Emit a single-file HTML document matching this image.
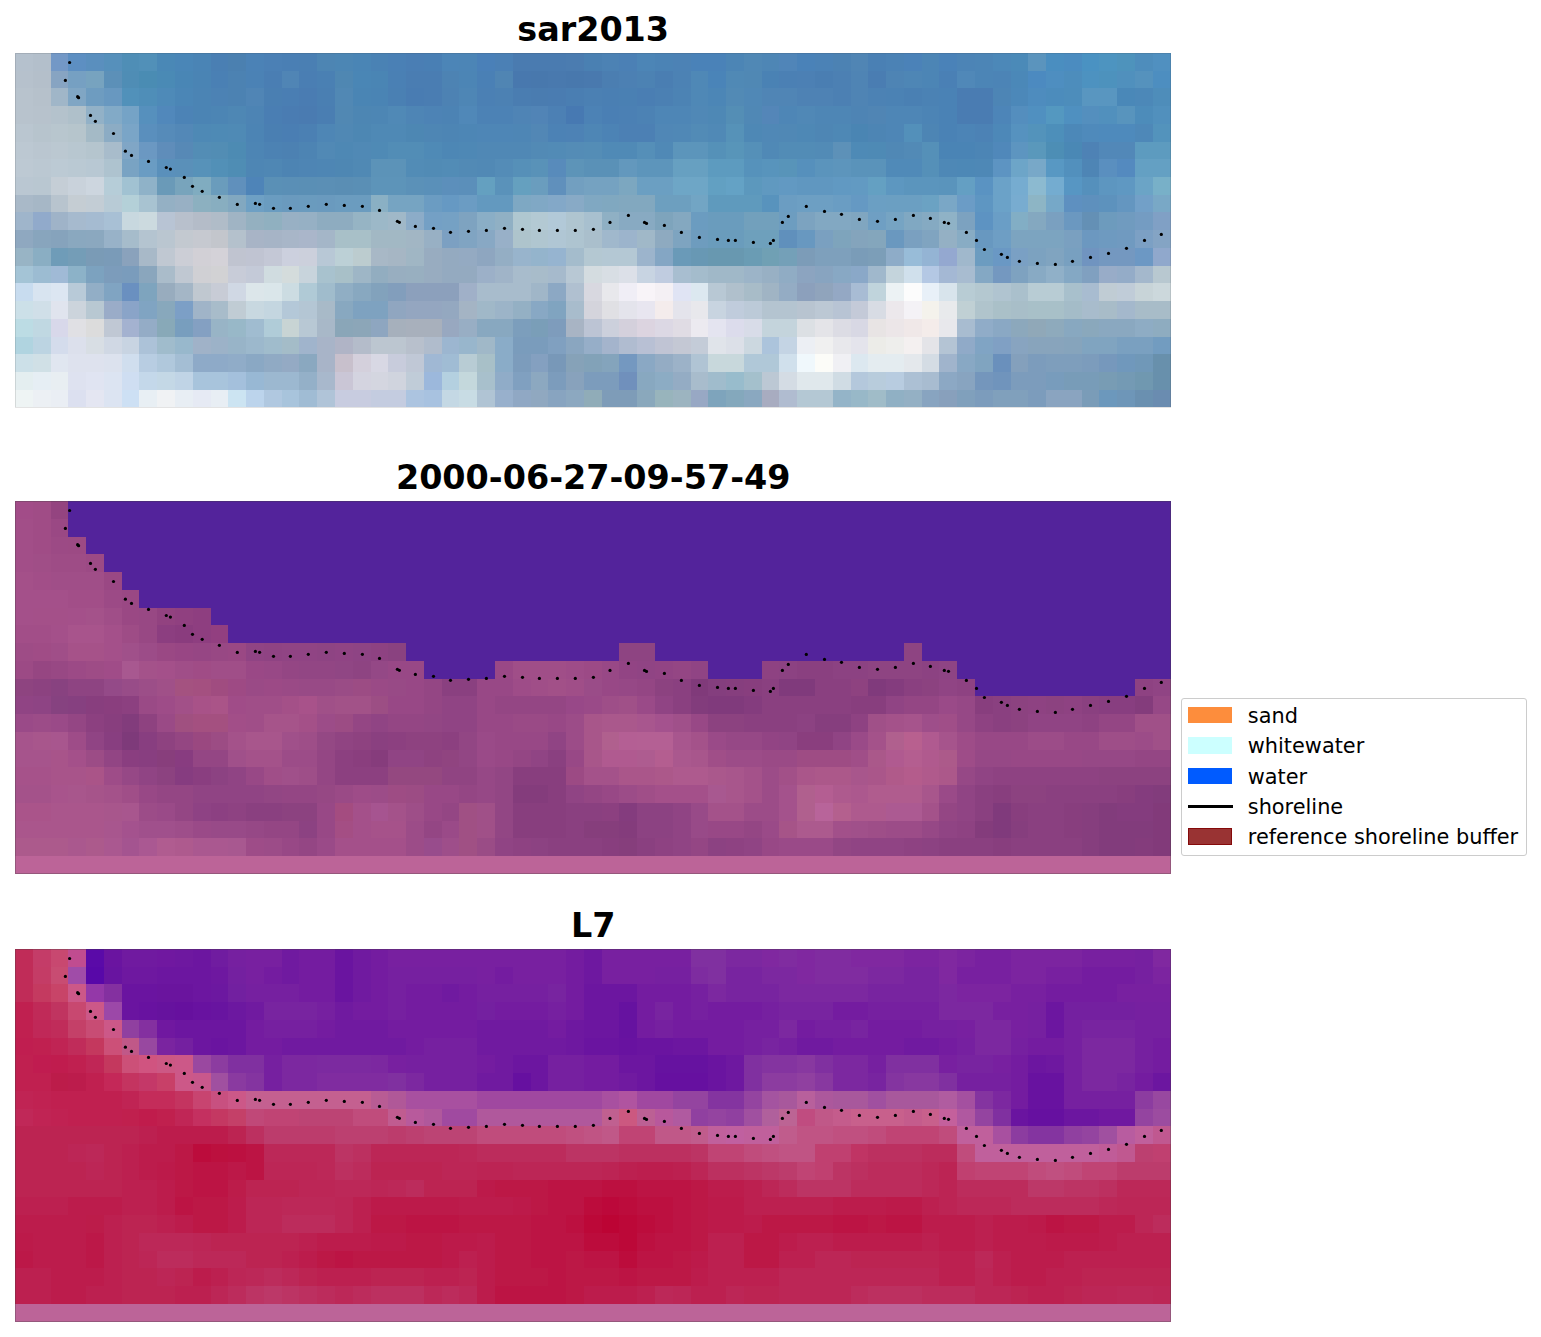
<!DOCTYPE html><html><head><meta charset="utf-8"><title>figure</title><style>
html,body{margin:0;padding:0;background:#fff;}
body{width:1541px;height:1337px;position:relative;overflow:hidden;font-family:"DejaVu Sans","Liberation Sans",sans-serif;}
.im{position:absolute;display:block;}
.ov{position:absolute;left:0;top:0;}
.ed{position:absolute;box-sizing:border-box;border:1px solid rgba(60,60,60,0.3);}
.ov circle{fill:#000;}
.t{position:absolute;left:0;width:1186.4px;text-align:center;font-weight:bold;font-size:33.4px;line-height:1;color:#000;white-space:nowrap;}
.lg{position:absolute;left:1181px;top:698px;width:346px;height:158px;box-sizing:border-box;border:1px solid #cccccc;border-radius:3px;background:#fff;}
.le{position:absolute;left:1247.8px;font-size:20.85px;line-height:1;color:#000;white-space:nowrap;}
.pa{position:absolute;left:1188px;width:44px;height:16.4px;}
</style></head><body><div class="t" style="top:13.1px">sar2013</div><div class="t" style="top:461.4px">2000-06-27-09-57-49</div><div class="t" style="top:909.3px">L7</div><svg class="im" style="left:15.2px;top:53.2px;width:1155.5px;height:354.4px" viewBox="0 0 65 20" preserveAspectRatio="none" shape-rendering="crispEdges"><rect x="0" y="0" width="1" height="1" fill="#b5c1cd"/><rect x="1" y="0" width="1" height="1" fill="#b3bfcb"/><rect x="2" y="0" width="1" height="1" fill="#7398c6"/><rect x="3" y="0" width="1" height="1" fill="#5d8fc2"/><rect x="4" y="0" width="1" height="1" fill="#5a8fbe"/><rect x="5" y="0" width="1" height="1" fill="#5690bb"/><rect x="6" y="0" width="1" height="1" fill="#4f8eb6"/><rect x="7" y="0" width="1" height="1" fill="#5190b8"/><rect x="8" y="0" width="1" height="1" fill="#4a88b6"/><rect x="9" y="0" width="1" height="1" fill="#4a86b7"/><rect x="10" y="0" width="1" height="1" fill="#4a84b5"/><rect x="11" y="0" width="1" height="1" fill="#4a7fb3"/><rect x="12" y="0" width="1" height="1" fill="#4b80b0"/><rect x="13" y="0" width="1" height="1" fill="#4b82b6"/><rect x="14" y="0" width="1" height="1" fill="#4b80b5"/><rect x="15" y="0" width="1" height="1" fill="#4a7fb4"/><rect x="16" y="0" width="1" height="1" fill="#4a7fb3"/><rect x="17" y="0" width="1" height="1" fill="#4d85b3"/><rect x="18" y="0" width="1" height="1" fill="#4c86b4"/><rect x="19" y="0" width="1" height="1" fill="#4a85b5"/><rect x="20" y="0" width="1" height="1" fill="#4a82b4"/><rect x="21" y="0" width="1" height="1" fill="#4a80b5"/><rect x="22" y="0" width="1" height="1" fill="#4a7eb4"/><rect x="23" y="0" width="1" height="1" fill="#497fb4"/><rect x="24" y="0" width="1" height="1" fill="#4c85b7"/><rect x="25" y="0" width="1" height="1" fill="#4c85b6"/><rect x="26" y="0" width="1" height="1" fill="#4a80b8"/><rect x="27" y="0" width="1" height="1" fill="#4b80b5"/><rect x="28" y="0" width="3" height="1" fill="#4a7bb0"/><rect x="31" y="0" width="1" height="1" fill="#4b7cb0"/><rect x="32" y="0" width="1" height="1" fill="#4a80b2"/><rect x="33" y="0" width="1" height="1" fill="#4c82b4"/><rect x="34" y="0" width="1" height="1" fill="#4b80b5"/><rect x="35" y="0" width="1" height="1" fill="#4c85b6"/><rect x="36" y="0" width="1" height="1" fill="#4b83b5"/><rect x="37" y="0" width="1" height="1" fill="#4c82b5"/><rect x="38" y="0" width="2" height="1" fill="#4a82b8"/><rect x="40" y="0" width="1" height="1" fill="#4c85b5"/><rect x="41" y="0" width="1" height="1" fill="#5088b5"/><rect x="42" y="0" width="1" height="1" fill="#4e86b5"/><rect x="43" y="0" width="1" height="1" fill="#5085b8"/><rect x="44" y="0" width="1" height="1" fill="#4a82b8"/><rect x="45" y="0" width="1" height="1" fill="#4b82b6"/><rect x="46" y="0" width="1" height="1" fill="#4c82b3"/><rect x="47" y="0" width="1" height="1" fill="#5085b4"/><rect x="48" y="0" width="1" height="1" fill="#4a80b4"/><rect x="49" y="0" width="1" height="1" fill="#4b82b5"/><rect x="50" y="0" width="1" height="1" fill="#4b82b8"/><rect x="51" y="0" width="1" height="1" fill="#4c85b5"/><rect x="52" y="0" width="1" height="1" fill="#4a82b8"/><rect x="53" y="0" width="1" height="1" fill="#4c84b6"/><rect x="54" y="0" width="1" height="1" fill="#4c85b6"/><rect x="55" y="0" width="1" height="1" fill="#4c88b8"/><rect x="56" y="0" width="1" height="1" fill="#4b8ab8"/><rect x="57" y="0" width="1" height="1" fill="#5b94bd"/><rect x="58" y="0" width="1" height="1" fill="#4a8ec0"/><rect x="59" y="0" width="1" height="1" fill="#4b8cc0"/><rect x="60" y="0" width="1" height="1" fill="#4a92c2"/><rect x="61" y="0" width="1" height="1" fill="#4d94c0"/><rect x="62" y="0" width="1" height="1" fill="#4e93bc"/><rect x="63" y="0" width="1" height="1" fill="#4e8dbc"/><rect x="64" y="0" width="1" height="1" fill="#5090c0"/><rect x="0" y="1" width="1" height="1" fill="#b6c1cc"/><rect x="1" y="1" width="1" height="1" fill="#b4bfca"/><rect x="2" y="1" width="1" height="1" fill="#87a4c2"/><rect x="3" y="1" width="1" height="1" fill="#76a0c2"/><rect x="4" y="1" width="1" height="1" fill="#77a3bf"/><rect x="5" y="1" width="1" height="1" fill="#5c90b8"/><rect x="6" y="1" width="1" height="1" fill="#4f8db5"/><rect x="7" y="1" width="1" height="1" fill="#4a8cb3"/><rect x="8" y="1" width="1" height="1" fill="#4a8ab5"/><rect x="9" y="1" width="1" height="1" fill="#4986b5"/><rect x="10" y="1" width="1" height="1" fill="#4a84b4"/><rect x="11" y="1" width="1" height="1" fill="#4a80b4"/><rect x="12" y="1" width="1" height="1" fill="#4c82b2"/><rect x="13" y="1" width="1" height="1" fill="#4b82b5"/><rect x="14" y="1" width="1" height="1" fill="#4a7eb3"/><rect x="15" y="1" width="1" height="1" fill="#5085b5"/><rect x="16" y="1" width="1" height="1" fill="#4a7eb3"/><rect x="17" y="1" width="1" height="1" fill="#4a80b3"/><rect x="18" y="1" width="1" height="1" fill="#4f87b2"/><rect x="19" y="1" width="1" height="1" fill="#4a86b5"/><rect x="20" y="1" width="1" height="1" fill="#4a85b4"/><rect x="21" y="1" width="1" height="1" fill="#4a80b4"/><rect x="22" y="1" width="2" height="1" fill="#4a7db2"/><rect x="24" y="1" width="1" height="1" fill="#4d83b3"/><rect x="25" y="1" width="1" height="1" fill="#4c85b5"/><rect x="26" y="1" width="1" height="1" fill="#4a80b5"/><rect x="27" y="1" width="1" height="1" fill="#5085b3"/><rect x="28" y="1" width="1" height="1" fill="#4878ae"/><rect x="29" y="1" width="1" height="1" fill="#4878ad"/><rect x="30" y="1" width="1" height="1" fill="#4979ae"/><rect x="31" y="1" width="1" height="1" fill="#4878ad"/><rect x="32" y="1" width="1" height="1" fill="#4979ae"/><rect x="33" y="1" width="1" height="1" fill="#4b7eb1"/><rect x="34" y="1" width="1" height="1" fill="#4c80b3"/><rect x="35" y="1" width="1" height="1" fill="#4c82b3"/><rect x="36" y="1" width="1" height="1" fill="#4a7eb2"/><rect x="37" y="1" width="1" height="1" fill="#4c82b4"/><rect x="38" y="1" width="1" height="1" fill="#4f88b6"/><rect x="39" y="1" width="1" height="1" fill="#4a84b8"/><rect x="40" y="1" width="1" height="1" fill="#5089b5"/><rect x="41" y="1" width="1" height="1" fill="#5088b4"/><rect x="42" y="1" width="1" height="1" fill="#4a82b4"/><rect x="43" y="1" width="1" height="1" fill="#4b80b4"/><rect x="44" y="1" width="1" height="1" fill="#4c80b4"/><rect x="45" y="1" width="1" height="1" fill="#4a7eb2"/><rect x="46" y="1" width="1" height="1" fill="#4c80b3"/><rect x="47" y="1" width="1" height="1" fill="#4f84b4"/><rect x="48" y="1" width="1" height="1" fill="#4a7db2"/><rect x="49" y="1" width="1" height="1" fill="#4e84b4"/><rect x="50" y="1" width="1" height="1" fill="#4e86b5"/><rect x="51" y="1" width="1" height="1" fill="#4c85b5"/><rect x="52" y="1" width="1" height="1" fill="#4a80b5"/><rect x="53" y="1" width="1" height="1" fill="#5088b8"/><rect x="54" y="1" width="1" height="1" fill="#4c85b6"/><rect x="55" y="1" width="1" height="1" fill="#4c84b6"/><rect x="56" y="1" width="1" height="1" fill="#4b88b8"/><rect x="57" y="1" width="1" height="1" fill="#4c8ac0"/><rect x="58" y="1" width="1" height="1" fill="#4e8ec0"/><rect x="59" y="1" width="1" height="1" fill="#4d8dbc"/><rect x="60" y="1" width="1" height="1" fill="#4d92c0"/><rect x="61" y="1" width="1" height="1" fill="#4d92bd"/><rect x="62" y="1" width="1" height="1" fill="#5090bd"/><rect x="63" y="1" width="1" height="1" fill="#5592bd"/><rect x="64" y="1" width="1" height="1" fill="#4d8ec0"/><rect x="0" y="2" width="1" height="1" fill="#b8c3cd"/><rect x="1" y="2" width="1" height="1" fill="#b6c1cb"/><rect x="2" y="2" width="1" height="1" fill="#a0b6c8"/><rect x="3" y="2" width="1" height="1" fill="#80a6c4"/><rect x="4" y="2" width="1" height="1" fill="#6e9cc0"/><rect x="5" y="2" width="1" height="1" fill="#6898c0"/><rect x="6" y="2" width="1" height="1" fill="#5191ba"/><rect x="7" y="2" width="1" height="1" fill="#4f8eb8"/><rect x="8" y="2" width="1" height="1" fill="#4e8ab8"/><rect x="9" y="2" width="1" height="1" fill="#4b86b6"/><rect x="10" y="2" width="1" height="1" fill="#4b84b4"/><rect x="11" y="2" width="1" height="1" fill="#4c82b4"/><rect x="12" y="2" width="1" height="1" fill="#4c82b2"/><rect x="13" y="2" width="1" height="1" fill="#5085b5"/><rect x="14" y="2" width="1" height="1" fill="#4a7fb2"/><rect x="15" y="2" width="1" height="1" fill="#4a7eb3"/><rect x="16" y="2" width="1" height="1" fill="#4a7cb2"/><rect x="17" y="2" width="1" height="1" fill="#4a7fb2"/><rect x="18" y="2" width="1" height="1" fill="#5188b4"/><rect x="19" y="2" width="1" height="1" fill="#4a85b4"/><rect x="20" y="2" width="1" height="1" fill="#4a84b4"/><rect x="21" y="2" width="1" height="1" fill="#4a80b3"/><rect x="22" y="2" width="1" height="1" fill="#497cb2"/><rect x="23" y="2" width="1" height="1" fill="#4a7db2"/><rect x="24" y="2" width="1" height="1" fill="#4d82b3"/><rect x="25" y="2" width="1" height="1" fill="#4e86b5"/><rect x="26" y="2" width="1" height="1" fill="#4b80b4"/><rect x="27" y="2" width="1" height="1" fill="#4c81b3"/><rect x="28" y="2" width="1" height="1" fill="#4a7db1"/><rect x="29" y="2" width="1" height="1" fill="#4a7cb0"/><rect x="30" y="2" width="1" height="1" fill="#4a7cb1"/><rect x="31" y="2" width="1" height="1" fill="#4a7eb2"/><rect x="32" y="2" width="1" height="1" fill="#4b80b3"/><rect x="33" y="2" width="1" height="1" fill="#4a7fb3"/><rect x="34" y="2" width="1" height="1" fill="#4a80b3"/><rect x="35" y="2" width="1" height="1" fill="#4a7eb3"/><rect x="36" y="2" width="1" height="1" fill="#4b80b3"/><rect x="37" y="2" width="1" height="1" fill="#4c83b4"/><rect x="38" y="2" width="1" height="1" fill="#4f88b6"/><rect x="39" y="2" width="1" height="1" fill="#4c86b6"/><rect x="40" y="2" width="1" height="1" fill="#528ab5"/><rect x="41" y="2" width="1" height="1" fill="#5088b6"/><rect x="42" y="2" width="2" height="1" fill="#5085b5"/><rect x="44" y="2" width="2" height="1" fill="#4e82b4"/><rect x="46" y="2" width="1" height="1" fill="#4c80b3"/><rect x="47" y="2" width="1" height="1" fill="#4f84b4"/><rect x="48" y="2" width="1" height="1" fill="#4c82b4"/><rect x="49" y="2" width="1" height="1" fill="#4b82b4"/><rect x="50" y="2" width="1" height="1" fill="#4a80b3"/><rect x="51" y="2" width="1" height="1" fill="#4b82b4"/><rect x="52" y="2" width="1" height="1" fill="#4a82b5"/><rect x="53" y="2" width="2" height="1" fill="#4a7cb2"/><rect x="55" y="2" width="1" height="1" fill="#4d85b5"/><rect x="56" y="2" width="1" height="1" fill="#4c88b9"/><rect x="57" y="2" width="1" height="1" fill="#4e8cbe"/><rect x="58" y="2" width="1" height="1" fill="#4c8cbc"/><rect x="59" y="2" width="1" height="1" fill="#4d8dbb"/><rect x="60" y="2" width="2" height="1" fill="#5996c0"/><rect x="62" y="2" width="1" height="1" fill="#4a88b8"/><rect x="63" y="2" width="1" height="1" fill="#4c88b8"/><rect x="64" y="2" width="1" height="1" fill="#4e8dba"/><rect x="0" y="3" width="1" height="1" fill="#b8c3cd"/><rect x="1" y="3" width="1" height="1" fill="#b7c2cc"/><rect x="2" y="3" width="1" height="1" fill="#b4c2cc"/><rect x="3" y="3" width="1" height="1" fill="#afc0ca"/><rect x="4" y="3" width="1" height="1" fill="#92b1c7"/><rect x="5" y="3" width="1" height="1" fill="#82aac7"/><rect x="6" y="3" width="1" height="1" fill="#75a3c6"/><rect x="7" y="3" width="1" height="1" fill="#5690bd"/><rect x="8" y="3" width="1" height="1" fill="#5188bb"/><rect x="9" y="3" width="1" height="1" fill="#4c83b6"/><rect x="10" y="3" width="1" height="1" fill="#4b84b4"/><rect x="11" y="3" width="1" height="1" fill="#4c85b4"/><rect x="12" y="3" width="1" height="1" fill="#4e87b4"/><rect x="13" y="3" width="1" height="1" fill="#4d84b4"/><rect x="14" y="3" width="1" height="1" fill="#4a7eb3"/><rect x="15" y="3" width="1" height="1" fill="#4a7cb2"/><rect x="16" y="3" width="1" height="1" fill="#4a7bb1"/><rect x="17" y="3" width="1" height="1" fill="#4a7eb2"/><rect x="18" y="3" width="1" height="1" fill="#5188b3"/><rect x="19" y="3" width="1" height="1" fill="#4d86b3"/><rect x="20" y="3" width="1" height="1" fill="#4d86b4"/><rect x="21" y="3" width="1" height="1" fill="#5089b6"/><rect x="22" y="3" width="1" height="1" fill="#4e85b5"/><rect x="23" y="3" width="1" height="1" fill="#4d83b5"/><rect x="24" y="3" width="1" height="1" fill="#4c83b4"/><rect x="25" y="3" width="1" height="1" fill="#5088b8"/><rect x="26" y="3" width="2" height="1" fill="#4c82b5"/><rect x="28" y="3" width="1" height="1" fill="#4f84b5"/><rect x="29" y="3" width="1" height="1" fill="#5184b6"/><rect x="30" y="3" width="1" height="1" fill="#4c80b4"/><rect x="31" y="3" width="1" height="1" fill="#4779b2"/><rect x="32" y="3" width="1" height="1" fill="#4c82b5"/><rect x="33" y="3" width="1" height="1" fill="#4a7fb4"/><rect x="34" y="3" width="1" height="1" fill="#4b80b4"/><rect x="35" y="3" width="1" height="1" fill="#4c82b4"/><rect x="36" y="3" width="2" height="1" fill="#4e86b6"/><rect x="38" y="3" width="1" height="1" fill="#5088b6"/><rect x="39" y="3" width="1" height="1" fill="#4e88b5"/><rect x="40" y="3" width="1" height="1" fill="#548eb5"/><rect x="41" y="3" width="1" height="1" fill="#5088b5"/><rect x="42" y="3" width="1" height="1" fill="#5486b8"/><rect x="43" y="3" width="1" height="1" fill="#4e86b6"/><rect x="44" y="3" width="1" height="1" fill="#5088b6"/><rect x="45" y="3" width="2" height="1" fill="#4e86b5"/><rect x="47" y="3" width="1" height="1" fill="#4e84b4"/><rect x="48" y="3" width="1" height="1" fill="#5085b4"/><rect x="49" y="3" width="2" height="1" fill="#4e86b6"/><rect x="51" y="3" width="1" height="1" fill="#4c84b5"/><rect x="52" y="3" width="1" height="1" fill="#4a82b5"/><rect x="53" y="3" width="2" height="1" fill="#4a7cb2"/><rect x="55" y="3" width="1" height="1" fill="#4d85b8"/><rect x="56" y="3" width="1" height="1" fill="#548ebe"/><rect x="57" y="3" width="1" height="1" fill="#5090c0"/><rect x="58" y="3" width="1" height="1" fill="#5498c0"/><rect x="59" y="3" width="1" height="1" fill="#4f90c0"/><rect x="60" y="3" width="1" height="1" fill="#548fbe"/><rect x="61" y="3" width="1" height="1" fill="#5190bd"/><rect x="62" y="3" width="1" height="1" fill="#5894bd"/><rect x="63" y="3" width="1" height="1" fill="#4d8cba"/><rect x="64" y="3" width="1" height="1" fill="#5190bd"/><rect x="0" y="4" width="1" height="1" fill="#bac6d0"/><rect x="1" y="4" width="1" height="1" fill="#b7c4cd"/><rect x="2" y="4" width="1" height="1" fill="#b8c6ce"/><rect x="3" y="4" width="1" height="1" fill="#b6c5cc"/><rect x="4" y="4" width="1" height="1" fill="#a4bac6"/><rect x="5" y="4" width="1" height="1" fill="#8cacc4"/><rect x="6" y="4" width="1" height="1" fill="#7aa5c7"/><rect x="7" y="4" width="1" height="1" fill="#5a8fbd"/><rect x="8" y="4" width="1" height="1" fill="#568bb9"/><rect x="9" y="4" width="1" height="1" fill="#5388b7"/><rect x="10" y="4" width="1" height="1" fill="#4e89b5"/><rect x="11" y="4" width="1" height="1" fill="#4e8ab5"/><rect x="12" y="4" width="1" height="1" fill="#4f8ab5"/><rect x="13" y="4" width="1" height="1" fill="#4c84b4"/><rect x="14" y="4" width="1" height="1" fill="#4a7fb2"/><rect x="15" y="4" width="1" height="1" fill="#4a7eb3"/><rect x="16" y="4" width="1" height="1" fill="#4b80b3"/><rect x="17" y="4" width="1" height="1" fill="#4e86b5"/><rect x="18" y="4" width="1" height="1" fill="#5088b4"/><rect x="19" y="4" width="1" height="1" fill="#4d87b3"/><rect x="20" y="4" width="2" height="1" fill="#4f89b5"/><rect x="22" y="4" width="1" height="1" fill="#4d87b3"/><rect x="23" y="4" width="1" height="1" fill="#4e86b4"/><rect x="24" y="4" width="1" height="1" fill="#4d85b4"/><rect x="25" y="4" width="1" height="1" fill="#4d86b5"/><rect x="26" y="4" width="2" height="1" fill="#4e86b6"/><rect x="28" y="4" width="1" height="1" fill="#4e86b5"/><rect x="29" y="4" width="1" height="1" fill="#5287b5"/><rect x="30" y="4" width="1" height="1" fill="#4c82b5"/><rect x="31" y="4" width="1" height="1" fill="#4d82b5"/><rect x="32" y="4" width="1" height="1" fill="#4e86b5"/><rect x="33" y="4" width="1" height="1" fill="#4c83b5"/><rect x="34" y="4" width="2" height="1" fill="#4c80b4"/><rect x="36" y="4" width="1" height="1" fill="#5087b6"/><rect x="37" y="4" width="1" height="1" fill="#5088b6"/><rect x="38" y="4" width="1" height="1" fill="#528bb6"/><rect x="39" y="4" width="1" height="1" fill="#5089b6"/><rect x="40" y="4" width="1" height="1" fill="#5692b8"/><rect x="41" y="4" width="1" height="1" fill="#4e88b5"/><rect x="42" y="4" width="1" height="1" fill="#5088b6"/><rect x="43" y="4" width="1" height="1" fill="#5088b5"/><rect x="44" y="4" width="1" height="1" fill="#4e88b5"/><rect x="45" y="4" width="1" height="1" fill="#4e86b4"/><rect x="46" y="4" width="1" height="1" fill="#4e88b5"/><rect x="47" y="4" width="1" height="1" fill="#4a85b3"/><rect x="48" y="4" width="1" height="1" fill="#4d85b4"/><rect x="49" y="4" width="1" height="1" fill="#4e86b6"/><rect x="50" y="4" width="1" height="1" fill="#5390ba"/><rect x="51" y="4" width="1" height="1" fill="#4d85b4"/><rect x="52" y="4" width="1" height="1" fill="#4a82b5"/><rect x="53" y="4" width="1" height="1" fill="#4c84b6"/><rect x="54" y="4" width="1" height="1" fill="#4c82b5"/><rect x="55" y="4" width="1" height="1" fill="#4d88b8"/><rect x="56" y="4" width="1" height="1" fill="#5692bf"/><rect x="57" y="4" width="1" height="1" fill="#5393bb"/><rect x="58" y="4" width="1" height="1" fill="#4d8fba"/><rect x="59" y="4" width="1" height="1" fill="#4c88b8"/><rect x="60" y="4" width="1" height="1" fill="#4f8abb"/><rect x="61" y="4" width="2" height="1" fill="#4e8abc"/><rect x="63" y="4" width="1" height="1" fill="#4e88b8"/><rect x="64" y="4" width="1" height="1" fill="#5393bc"/><rect x="0" y="5" width="1" height="1" fill="#bcc8d2"/><rect x="1" y="5" width="1" height="1" fill="#bac6d0"/><rect x="2" y="5" width="1" height="1" fill="#bbc8d1"/><rect x="3" y="5" width="1" height="1" fill="#b8c7d0"/><rect x="4" y="5" width="1" height="1" fill="#b5c5ce"/><rect x="5" y="5" width="1" height="1" fill="#a8bccb"/><rect x="6" y="5" width="1" height="1" fill="#80a6c6"/><rect x="7" y="5" width="1" height="1" fill="#6b98c2"/><rect x="8" y="5" width="1" height="1" fill="#5f8dba"/><rect x="9" y="5" width="1" height="1" fill="#5789b6"/><rect x="10" y="5" width="1" height="1" fill="#538db5"/><rect x="11" y="5" width="1" height="1" fill="#528db4"/><rect x="12" y="5" width="1" height="1" fill="#4d8bb3"/><rect x="13" y="5" width="1" height="1" fill="#4d85b4"/><rect x="14" y="5" width="1" height="1" fill="#4c82b3"/><rect x="15" y="5" width="1" height="1" fill="#4c81b2"/><rect x="16" y="5" width="1" height="1" fill="#4d84b3"/><rect x="17" y="5" width="1" height="1" fill="#5189b5"/><rect x="18" y="5" width="1" height="1" fill="#4e88b4"/><rect x="19" y="5" width="1" height="1" fill="#5089b5"/><rect x="20" y="5" width="1" height="1" fill="#4f8ab5"/><rect x="21" y="5" width="2" height="1" fill="#528db6"/><rect x="23" y="5" width="1" height="1" fill="#4f8ab6"/><rect x="24" y="5" width="1" height="1" fill="#4d87b5"/><rect x="25" y="5" width="1" height="1" fill="#4e88b5"/><rect x="26" y="5" width="3" height="1" fill="#5088b5"/><rect x="29" y="5" width="1" height="1" fill="#528ab5"/><rect x="30" y="5" width="1" height="1" fill="#528bb6"/><rect x="31" y="5" width="1" height="1" fill="#548cb6"/><rect x="32" y="5" width="1" height="1" fill="#548db6"/><rect x="33" y="5" width="2" height="1" fill="#508ab6"/><rect x="35" y="5" width="1" height="1" fill="#558fb8"/><rect x="36" y="5" width="1" height="1" fill="#5089b6"/><rect x="37" y="5" width="2" height="1" fill="#5c95bb"/><rect x="39" y="5" width="1" height="1" fill="#5591b8"/><rect x="40" y="5" width="1" height="1" fill="#5895b9"/><rect x="41" y="5" width="1" height="1" fill="#5590b8"/><rect x="42" y="5" width="1" height="1" fill="#5089b6"/><rect x="43" y="5" width="2" height="1" fill="#528cb6"/><rect x="45" y="5" width="1" height="1" fill="#528bb6"/><rect x="46" y="5" width="1" height="1" fill="#5d91b8"/><rect x="47" y="5" width="1" height="1" fill="#4e8ab6"/><rect x="48" y="5" width="1" height="1" fill="#4e8ab5"/><rect x="49" y="5" width="1" height="1" fill="#5088b5"/><rect x="50" y="5" width="1" height="1" fill="#528ab6"/><rect x="51" y="5" width="1" height="1" fill="#5590b8"/><rect x="52" y="5" width="2" height="1" fill="#4a84b5"/><rect x="54" y="5" width="1" height="1" fill="#4c85b5"/><rect x="55" y="5" width="1" height="1" fill="#5088ba"/><rect x="56" y="5" width="1" height="1" fill="#5d95c0"/><rect x="57" y="5" width="1" height="1" fill="#5a98bb"/><rect x="58" y="5" width="1" height="1" fill="#4d8eb5"/><rect x="59" y="5" width="1" height="1" fill="#4a88b5"/><rect x="60" y="5" width="1" height="1" fill="#4e82b5"/><rect x="61" y="5" width="2" height="1" fill="#5288b8"/><rect x="63" y="5" width="2" height="1" fill="#5d9bbf"/><rect x="0" y="6" width="1" height="1" fill="#bdc9d3"/><rect x="1" y="6" width="1" height="1" fill="#bbc8d2"/><rect x="2" y="6" width="1" height="1" fill="#bccad4"/><rect x="3" y="6" width="1" height="1" fill="#bac9d3"/><rect x="4" y="6" width="1" height="1" fill="#b8c8d3"/><rect x="5" y="6" width="1" height="1" fill="#aec3cf"/><rect x="6" y="6" width="1" height="1" fill="#79a3c3"/><rect x="7" y="6" width="1" height="1" fill="#6a9cc3"/><rect x="8" y="6" width="1" height="1" fill="#5a90bb"/><rect x="9" y="6" width="1" height="1" fill="#5a90b9"/><rect x="10" y="6" width="1" height="1" fill="#5792b9"/><rect x="11" y="6" width="1" height="1" fill="#5290b7"/><rect x="12" y="6" width="1" height="1" fill="#4f8db4"/><rect x="13" y="6" width="1" height="1" fill="#4e86b4"/><rect x="14" y="6" width="1" height="1" fill="#4f87b4"/><rect x="15" y="6" width="1" height="1" fill="#4d84b3"/><rect x="16" y="6" width="1" height="1" fill="#4e85b4"/><rect x="17" y="6" width="1" height="1" fill="#4e86b4"/><rect x="18" y="6" width="1" height="1" fill="#4e87b3"/><rect x="19" y="6" width="1" height="1" fill="#5089b4"/><rect x="20" y="6" width="2" height="1" fill="#5c93b8"/><rect x="22" y="6" width="1" height="1" fill="#528cb6"/><rect x="23" y="6" width="1" height="1" fill="#518bb5"/><rect x="24" y="6" width="1" height="1" fill="#528cb6"/><rect x="25" y="6" width="1" height="1" fill="#528ab5"/><rect x="26" y="6" width="1" height="1" fill="#5189b5"/><rect x="27" y="6" width="1" height="1" fill="#548cb7"/><rect x="28" y="6" width="1" height="1" fill="#5690b8"/><rect x="29" y="6" width="1" height="1" fill="#5992b8"/><rect x="30" y="6" width="1" height="1" fill="#588bbb"/><rect x="31" y="6" width="1" height="1" fill="#5d94b8"/><rect x="32" y="6" width="2" height="1" fill="#5a91b7"/><rect x="34" y="6" width="1" height="1" fill="#6398bd"/><rect x="35" y="6" width="2" height="1" fill="#5d95bb"/><rect x="37" y="6" width="2" height="1" fill="#67a0c1"/><rect x="39" y="6" width="2" height="1" fill="#5d9bbf"/><rect x="41" y="6" width="1" height="1" fill="#5692bb"/><rect x="42" y="6" width="1" height="1" fill="#5894bc"/><rect x="43" y="6" width="1" height="1" fill="#5894b9"/><rect x="44" y="6" width="1" height="1" fill="#5690bc"/><rect x="45" y="6" width="1" height="1" fill="#5b94bc"/><rect x="46" y="6" width="1" height="1" fill="#5d95bc"/><rect x="47" y="6" width="2" height="1" fill="#5a93ba"/><rect x="49" y="6" width="2" height="1" fill="#508ab8"/><rect x="51" y="6" width="1" height="1" fill="#5590b8"/><rect x="52" y="6" width="1" height="1" fill="#4e88b6"/><rect x="53" y="6" width="1" height="1" fill="#4d88b6"/><rect x="54" y="6" width="1" height="1" fill="#4e88b6"/><rect x="55" y="6" width="1" height="1" fill="#5d94c2"/><rect x="56" y="6" width="1" height="1" fill="#6da5c8"/><rect x="57" y="6" width="1" height="1" fill="#78a8c8"/><rect x="58" y="6" width="1" height="1" fill="#5898c3"/><rect x="59" y="6" width="1" height="1" fill="#5290bd"/><rect x="60" y="6" width="1" height="1" fill="#4e85b5"/><rect x="61" y="6" width="1" height="1" fill="#5a8fbf"/><rect x="62" y="6" width="1" height="1" fill="#548abf"/><rect x="63" y="6" width="2" height="1" fill="#64a0c3"/><rect x="0" y="7" width="1" height="1" fill="#bac7d2"/><rect x="1" y="7" width="1" height="1" fill="#b9c7d1"/><rect x="2" y="7" width="1" height="1" fill="#c5ced6"/><rect x="3" y="7" width="1" height="1" fill="#c9d2db"/><rect x="4" y="7" width="1" height="1" fill="#cdd6df"/><rect x="5" y="7" width="1" height="1" fill="#b6cdd8"/><rect x="6" y="7" width="1" height="1" fill="#a1c2d2"/><rect x="7" y="7" width="1" height="1" fill="#8fb2c8"/><rect x="8" y="7" width="1" height="1" fill="#6a9ab8"/><rect x="9" y="7" width="1" height="1" fill="#78a4bc"/><rect x="10" y="7" width="1" height="1" fill="#80acc0"/><rect x="11" y="7" width="1" height="1" fill="#6a9cbc"/><rect x="12" y="7" width="1" height="1" fill="#6090bc"/><rect x="13" y="7" width="1" height="1" fill="#4e84b8"/><rect x="14" y="7" width="1" height="1" fill="#5a90b6"/><rect x="15" y="7" width="1" height="1" fill="#5a8fb6"/><rect x="16" y="7" width="1" height="1" fill="#5a8fb5"/><rect x="17" y="7" width="1" height="1" fill="#5b8fb5"/><rect x="18" y="7" width="1" height="1" fill="#5a8eb4"/><rect x="19" y="7" width="1" height="1" fill="#5a8fb5"/><rect x="20" y="7" width="2" height="1" fill="#5d94b9"/><rect x="22" y="7" width="1" height="1" fill="#5b91b8"/><rect x="23" y="7" width="1" height="1" fill="#5a90b9"/><rect x="24" y="7" width="1" height="1" fill="#5c8fbb"/><rect x="25" y="7" width="1" height="1" fill="#5b8fba"/><rect x="26" y="7" width="1" height="1" fill="#64a0c0"/><rect x="27" y="7" width="1" height="1" fill="#5a92ba"/><rect x="28" y="7" width="1" height="1" fill="#65a0bf"/><rect x="29" y="7" width="1" height="1" fill="#6a9dbe"/><rect x="30" y="7" width="1" height="1" fill="#6090bc"/><rect x="31" y="7" width="1" height="1" fill="#729fc0"/><rect x="32" y="7" width="2" height="1" fill="#75a2c1"/><rect x="34" y="7" width="1" height="1" fill="#7ca7c0"/><rect x="35" y="7" width="2" height="1" fill="#6b9fc2"/><rect x="37" y="7" width="2" height="1" fill="#6ea6c6"/><rect x="39" y="7" width="1" height="1" fill="#62a0c2"/><rect x="40" y="7" width="1" height="1" fill="#64a2c5"/><rect x="41" y="7" width="1" height="1" fill="#5c98bd"/><rect x="42" y="7" width="1" height="1" fill="#6099c0"/><rect x="43" y="7" width="1" height="1" fill="#6299c2"/><rect x="44" y="7" width="2" height="1" fill="#6097c0"/><rect x="46" y="7" width="1" height="1" fill="#6199c2"/><rect x="47" y="7" width="1" height="1" fill="#629ac2"/><rect x="48" y="7" width="1" height="1" fill="#64a0c2"/><rect x="49" y="7" width="1" height="1" fill="#5d97c0"/><rect x="50" y="7" width="2" height="1" fill="#5b95bd"/><rect x="52" y="7" width="1" height="1" fill="#5a94bc"/><rect x="53" y="7" width="1" height="1" fill="#649fc3"/><rect x="54" y="7" width="1" height="1" fill="#5a93c2"/><rect x="55" y="7" width="1" height="1" fill="#6ba2c8"/><rect x="56" y="7" width="1" height="1" fill="#76acd0"/><rect x="57" y="7" width="1" height="1" fill="#8cbad0"/><rect x="58" y="7" width="1" height="1" fill="#74acd0"/><rect x="59" y="7" width="1" height="1" fill="#5796c3"/><rect x="60" y="7" width="1" height="1" fill="#5590bc"/><rect x="61" y="7" width="1" height="1" fill="#5d96c0"/><rect x="62" y="7" width="1" height="1" fill="#5f98c2"/><rect x="63" y="7" width="1" height="1" fill="#6ba4c6"/><rect x="64" y="7" width="1" height="1" fill="#78b0c8"/><rect x="0" y="8" width="1" height="1" fill="#a9b9c8"/><rect x="1" y="8" width="1" height="1" fill="#a6b7c6"/><rect x="2" y="8" width="1" height="1" fill="#b8c4ce"/><rect x="3" y="8" width="1" height="1" fill="#c5cdd3"/><rect x="4" y="8" width="1" height="1" fill="#c3cdd5"/><rect x="5" y="8" width="1" height="1" fill="#b8cbd6"/><rect x="6" y="8" width="1" height="1" fill="#b4d0d8"/><rect x="7" y="8" width="1" height="1" fill="#a8c3d1"/><rect x="8" y="8" width="1" height="1" fill="#94b0c4"/><rect x="9" y="8" width="1" height="1" fill="#98b0c4"/><rect x="10" y="8" width="1" height="1" fill="#8cb0c0"/><rect x="11" y="8" width="1" height="1" fill="#88aec0"/><rect x="12" y="8" width="1" height="1" fill="#82a8c0"/><rect x="13" y="8" width="1" height="1" fill="#6ea0c4"/><rect x="14" y="8" width="1" height="1" fill="#6a9cc0"/><rect x="15" y="8" width="1" height="1" fill="#6a9abe"/><rect x="16" y="8" width="1" height="1" fill="#6a9bbe"/><rect x="17" y="8" width="1" height="1" fill="#6a9abe"/><rect x="18" y="8" width="2" height="1" fill="#6b9cbf"/><rect x="20" y="8" width="1" height="1" fill="#8ab0c4"/><rect x="21" y="8" width="2" height="1" fill="#76a4c2"/><rect x="23" y="8" width="1" height="1" fill="#6b9cc2"/><rect x="24" y="8" width="1" height="1" fill="#6699c3"/><rect x="25" y="8" width="1" height="1" fill="#6b9cc3"/><rect x="26" y="8" width="2" height="1" fill="#6399bf"/><rect x="28" y="8" width="1" height="1" fill="#7ea8c3"/><rect x="29" y="8" width="1" height="1" fill="#80a8c5"/><rect x="30" y="8" width="1" height="1" fill="#83a8c8"/><rect x="31" y="8" width="1" height="1" fill="#88aac6"/><rect x="32" y="8" width="1" height="1" fill="#80a8c2"/><rect x="33" y="8" width="1" height="1" fill="#80a8c0"/><rect x="34" y="8" width="2" height="1" fill="#82a8bf"/><rect x="36" y="8" width="2" height="1" fill="#6d9fbf"/><rect x="38" y="8" width="1" height="1" fill="#72a5c4"/><rect x="39" y="8" width="3" height="1" fill="#5f9abd"/><rect x="42" y="8" width="1" height="1" fill="#5893bd"/><rect x="43" y="8" width="1" height="1" fill="#6b9dc2"/><rect x="44" y="8" width="2" height="1" fill="#6d9fc3"/><rect x="46" y="8" width="1" height="1" fill="#6a9dc3"/><rect x="47" y="8" width="1" height="1" fill="#6599c3"/><rect x="48" y="8" width="1" height="1" fill="#6b9fc3"/><rect x="49" y="8" width="2" height="1" fill="#6b9fc2"/><rect x="51" y="8" width="1" height="1" fill="#6ba2c3"/><rect x="52" y="8" width="1" height="1" fill="#7aa7c6"/><rect x="53" y="8" width="1" height="1" fill="#6b9cc6"/><rect x="54" y="8" width="1" height="1" fill="#5e96c2"/><rect x="55" y="8" width="1" height="1" fill="#6ba2c8"/><rect x="56" y="8" width="1" height="1" fill="#78acd0"/><rect x="57" y="8" width="1" height="1" fill="#8db5c5"/><rect x="58" y="8" width="1" height="1" fill="#76a8c8"/><rect x="59" y="8" width="1" height="1" fill="#5e90c0"/><rect x="60" y="8" width="1" height="1" fill="#5e90bd"/><rect x="61" y="8" width="1" height="1" fill="#5d92bd"/><rect x="62" y="8" width="1" height="1" fill="#6496c0"/><rect x="63" y="8" width="1" height="1" fill="#72a0c8"/><rect x="64" y="8" width="1" height="1" fill="#79a8c6"/><rect x="0" y="9" width="1" height="1" fill="#9fb5cb"/><rect x="1" y="9" width="1" height="1" fill="#91aacb"/><rect x="2" y="9" width="1" height="1" fill="#9fb3c8"/><rect x="3" y="9" width="1" height="1" fill="#a6bace"/><rect x="4" y="9" width="1" height="1" fill="#a5bbd1"/><rect x="5" y="9" width="1" height="1" fill="#a8c0d5"/><rect x="6" y="9" width="1" height="1" fill="#c8d8df"/><rect x="7" y="9" width="1" height="1" fill="#ccdadf"/><rect x="8" y="9" width="1" height="1" fill="#b8c4d4"/><rect x="9" y="9" width="1" height="1" fill="#b8c0cc"/><rect x="10" y="9" width="1" height="1" fill="#b4bcc8"/><rect x="11" y="9" width="1" height="1" fill="#b0bcc8"/><rect x="12" y="9" width="1" height="1" fill="#a0b4c4"/><rect x="13" y="9" width="1" height="1" fill="#94b0c0"/><rect x="14" y="9" width="1" height="1" fill="#90b0c0"/><rect x="15" y="9" width="1" height="1" fill="#98b0c4"/><rect x="16" y="9" width="1" height="1" fill="#96b0c4"/><rect x="17" y="9" width="2" height="1" fill="#8eacc0"/><rect x="19" y="9" width="1" height="1" fill="#96b4c4"/><rect x="20" y="9" width="1" height="1" fill="#9cb8c8"/><rect x="21" y="9" width="1" height="1" fill="#a0b8c8"/><rect x="22" y="9" width="1" height="1" fill="#8cacc8"/><rect x="23" y="9" width="1" height="1" fill="#74a0c5"/><rect x="24" y="9" width="1" height="1" fill="#75a1c4"/><rect x="25" y="9" width="1" height="1" fill="#7ea3c0"/><rect x="26" y="9" width="1" height="1" fill="#8aaec6"/><rect x="27" y="9" width="1" height="1" fill="#90b0c4"/><rect x="28" y="9" width="1" height="1" fill="#afc7d0"/><rect x="29" y="9" width="1" height="1" fill="#b3c9d3"/><rect x="30" y="9" width="1" height="1" fill="#b2c9d8"/><rect x="31" y="9" width="1" height="1" fill="#afc5d0"/><rect x="32" y="9" width="1" height="1" fill="#a8c0cf"/><rect x="33" y="9" width="1" height="1" fill="#8fb0c4"/><rect x="34" y="9" width="2" height="1" fill="#88aac2"/><rect x="36" y="9" width="1" height="1" fill="#7ea4bc"/><rect x="37" y="9" width="1" height="1" fill="#84a8c0"/><rect x="38" y="9" width="1" height="1" fill="#6b9cc0"/><rect x="39" y="9" width="2" height="1" fill="#6a9cbd"/><rect x="41" y="9" width="2" height="1" fill="#72a0bc"/><rect x="43" y="9" width="1" height="1" fill="#6d9dc0"/><rect x="44" y="9" width="1" height="1" fill="#7ca3c0"/><rect x="45" y="9" width="2" height="1" fill="#82a8c2"/><rect x="47" y="9" width="1" height="1" fill="#80a6c0"/><rect x="48" y="9" width="1" height="1" fill="#6f9fc3"/><rect x="49" y="9" width="1" height="1" fill="#76a4c3"/><rect x="50" y="9" width="1" height="1" fill="#80a8c2"/><rect x="51" y="9" width="1" height="1" fill="#85aac2"/><rect x="52" y="9" width="1" height="1" fill="#8fb2c6"/><rect x="53" y="9" width="1" height="1" fill="#7ca2c0"/><rect x="54" y="9" width="1" height="1" fill="#5d93c2"/><rect x="55" y="9" width="1" height="1" fill="#6a9ec6"/><rect x="56" y="9" width="1" height="1" fill="#82aec5"/><rect x="57" y="9" width="1" height="1" fill="#84a8c0"/><rect x="58" y="9" width="1" height="1" fill="#7aa0c0"/><rect x="59" y="9" width="1" height="1" fill="#6b98c0"/><rect x="60" y="9" width="1" height="1" fill="#6490b5"/><rect x="61" y="9" width="1" height="1" fill="#6d9bbd"/><rect x="62" y="9" width="1" height="1" fill="#709bbf"/><rect x="63" y="9" width="1" height="1" fill="#749cc2"/><rect x="64" y="9" width="1" height="1" fill="#80a0c5"/><rect x="0" y="10" width="1" height="1" fill="#8fa8c0"/><rect x="1" y="10" width="1" height="1" fill="#88a5bd"/><rect x="2" y="10" width="1" height="1" fill="#86a3bc"/><rect x="3" y="10" width="1" height="1" fill="#8aa8bf"/><rect x="4" y="10" width="1" height="1" fill="#8ba8bf"/><rect x="5" y="10" width="1" height="1" fill="#98b2c8"/><rect x="6" y="10" width="1" height="1" fill="#a6bccb"/><rect x="7" y="10" width="1" height="1" fill="#b4c4d0"/><rect x="8" y="10" width="1" height="1" fill="#bac6d0"/><rect x="9" y="10" width="1" height="1" fill="#c3c9d0"/><rect x="10" y="10" width="1" height="1" fill="#c6c9d0"/><rect x="11" y="10" width="1" height="1" fill="#c3c6cc"/><rect x="12" y="10" width="1" height="1" fill="#b4c1cc"/><rect x="13" y="10" width="1" height="1" fill="#a8b4c6"/><rect x="14" y="10" width="1" height="1" fill="#a6b4c6"/><rect x="15" y="10" width="1" height="1" fill="#a8b6c8"/><rect x="16" y="10" width="1" height="1" fill="#aab6ca"/><rect x="17" y="10" width="1" height="1" fill="#a4b6c8"/><rect x="18" y="10" width="2" height="1" fill="#a8c0c8"/><rect x="20" y="10" width="2" height="1" fill="#a2b8c4"/><rect x="22" y="10" width="1" height="1" fill="#a2b6c4"/><rect x="23" y="10" width="1" height="1" fill="#98b0c4"/><rect x="24" y="10" width="1" height="1" fill="#7ca0c2"/><rect x="25" y="10" width="1" height="1" fill="#80a4c2"/><rect x="26" y="10" width="1" height="1" fill="#88a8c4"/><rect x="27" y="10" width="1" height="1" fill="#98b0c8"/><rect x="28" y="10" width="1" height="1" fill="#aec4cc"/><rect x="29" y="10" width="1" height="1" fill="#b0c6d0"/><rect x="30" y="10" width="1" height="1" fill="#b0c6d4"/><rect x="31" y="10" width="1" height="1" fill="#aec4d0"/><rect x="32" y="10" width="1" height="1" fill="#aabfcc"/><rect x="33" y="10" width="1" height="1" fill="#a0b8cc"/><rect x="34" y="10" width="1" height="1" fill="#9cb4cc"/><rect x="35" y="10" width="1" height="1" fill="#a0b8c8"/><rect x="36" y="10" width="1" height="1" fill="#8eaac0"/><rect x="37" y="10" width="1" height="1" fill="#7ea4c0"/><rect x="38" y="10" width="1" height="1" fill="#6e9cbe"/><rect x="39" y="10" width="2" height="1" fill="#6a9cbc"/><rect x="41" y="10" width="2" height="1" fill="#6ea0bc"/><rect x="43" y="10" width="1" height="1" fill="#6090bc"/><rect x="44" y="10" width="1" height="1" fill="#6898c0"/><rect x="45" y="10" width="1" height="1" fill="#7aa0c0"/><rect x="46" y="10" width="1" height="1" fill="#7ea4bc"/><rect x="47" y="10" width="1" height="1" fill="#84a4bc"/><rect x="48" y="10" width="1" height="1" fill="#84a6bc"/><rect x="49" y="10" width="1" height="1" fill="#6a98bf"/><rect x="50" y="10" width="1" height="1" fill="#7aa0c0"/><rect x="51" y="10" width="1" height="1" fill="#80a4c0"/><rect x="52" y="10" width="1" height="1" fill="#94b0c4"/><rect x="53" y="10" width="1" height="1" fill="#88acc4"/><rect x="54" y="10" width="1" height="1" fill="#6898c0"/><rect x="55" y="10" width="1" height="1" fill="#6e9ec4"/><rect x="56" y="10" width="3" height="1" fill="#7ca4c0"/><rect x="59" y="10" width="1" height="1" fill="#7aa0c0"/><rect x="60" y="10" width="1" height="1" fill="#6c98c0"/><rect x="61" y="10" width="1" height="1" fill="#6e9ac0"/><rect x="62" y="10" width="1" height="1" fill="#709ac0"/><rect x="63" y="10" width="1" height="1" fill="#7ca0c4"/><rect x="64" y="10" width="1" height="1" fill="#84a4c4"/><rect x="0" y="11" width="1" height="1" fill="#98b4c5"/><rect x="1" y="11" width="1" height="1" fill="#8aaec3"/><rect x="2" y="11" width="1" height="1" fill="#6f9cb8"/><rect x="3" y="11" width="1" height="1" fill="#749db7"/><rect x="4" y="11" width="1" height="1" fill="#7a9bb6"/><rect x="5" y="11" width="1" height="1" fill="#7a9bb8"/><rect x="6" y="11" width="1" height="1" fill="#8aa2bc"/><rect x="7" y="11" width="1" height="1" fill="#a8b9c8"/><rect x="8" y="11" width="1" height="1" fill="#c0c8d2"/><rect x="9" y="11" width="1" height="1" fill="#ccced6"/><rect x="10" y="11" width="1" height="1" fill="#d2d0d6"/><rect x="11" y="11" width="1" height="1" fill="#d4d2d8"/><rect x="12" y="11" width="1" height="1" fill="#c0c4d0"/><rect x="13" y="11" width="1" height="1" fill="#c0c4d2"/><rect x="14" y="11" width="1" height="1" fill="#c4c8d6"/><rect x="15" y="11" width="1" height="1" fill="#ccd0de"/><rect x="16" y="11" width="1" height="1" fill="#ccd0dc"/><rect x="17" y="11" width="1" height="1" fill="#b8c8d6"/><rect x="18" y="11" width="1" height="1" fill="#bcd0d6"/><rect x="19" y="11" width="1" height="1" fill="#bccccf"/><rect x="20" y="11" width="1" height="1" fill="#a8b8c6"/><rect x="21" y="11" width="1" height="1" fill="#a6b6c4"/><rect x="22" y="11" width="1" height="1" fill="#a0b6c4"/><rect x="23" y="11" width="1" height="1" fill="#98acc0"/><rect x="24" y="11" width="1" height="1" fill="#94aac0"/><rect x="25" y="11" width="1" height="1" fill="#94aac2"/><rect x="26" y="11" width="1" height="1" fill="#8ea6c0"/><rect x="27" y="11" width="1" height="1" fill="#94aec4"/><rect x="28" y="11" width="1" height="1" fill="#98b4cc"/><rect x="29" y="11" width="1" height="1" fill="#94b4cc"/><rect x="30" y="11" width="1" height="1" fill="#96b4d0"/><rect x="31" y="11" width="1" height="1" fill="#a4bccc"/><rect x="32" y="11" width="1" height="1" fill="#b4c8d2"/><rect x="33" y="11" width="2" height="1" fill="#b4c8d4"/><rect x="35" y="11" width="1" height="1" fill="#9cb4cc"/><rect x="36" y="11" width="1" height="1" fill="#84a6c4"/><rect x="37" y="11" width="1" height="1" fill="#6a9ab8"/><rect x="38" y="11" width="1" height="1" fill="#6898b4"/><rect x="39" y="11" width="2" height="1" fill="#6898b0"/><rect x="41" y="11" width="1" height="1" fill="#6a9cb4"/><rect x="42" y="11" width="1" height="1" fill="#70a0b4"/><rect x="43" y="11" width="1" height="1" fill="#74a0b8"/><rect x="44" y="11" width="1" height="1" fill="#7c9cb8"/><rect x="45" y="11" width="2" height="1" fill="#7ea0bc"/><rect x="47" y="11" width="1" height="1" fill="#7a9cb8"/><rect x="48" y="11" width="1" height="1" fill="#7c9eb8"/><rect x="49" y="11" width="1" height="1" fill="#8eacc8"/><rect x="50" y="11" width="1" height="1" fill="#98bcd8"/><rect x="51" y="11" width="1" height="1" fill="#94b4d4"/><rect x="52" y="11" width="1" height="1" fill="#94a8d0"/><rect x="53" y="11" width="1" height="1" fill="#a0b8cc"/><rect x="54" y="11" width="1" height="1" fill="#6c9cc0"/><rect x="55" y="11" width="1" height="1" fill="#6a98c4"/><rect x="56" y="11" width="1" height="1" fill="#7aa0c4"/><rect x="57" y="11" width="1" height="1" fill="#7ca2c0"/><rect x="58" y="11" width="1" height="1" fill="#80a4c0"/><rect x="59" y="11" width="1" height="1" fill="#78a0c0"/><rect x="60" y="11" width="1" height="1" fill="#7094c0"/><rect x="61" y="11" width="2" height="1" fill="#7498c0"/><rect x="63" y="11" width="1" height="1" fill="#6c98c4"/><rect x="64" y="11" width="1" height="1" fill="#90a8cc"/><rect x="0" y="12" width="1" height="1" fill="#a4c4d6"/><rect x="1" y="12" width="1" height="1" fill="#9cbcd2"/><rect x="2" y="12" width="1" height="1" fill="#a0bad6"/><rect x="3" y="12" width="1" height="1" fill="#8cb2c8"/><rect x="4" y="12" width="1" height="1" fill="#7ca2bf"/><rect x="5" y="12" width="1" height="1" fill="#7c9cbb"/><rect x="6" y="12" width="1" height="1" fill="#7a9cbc"/><rect x="7" y="12" width="1" height="1" fill="#8aa6bd"/><rect x="8" y="12" width="1" height="1" fill="#aabcca"/><rect x="9" y="12" width="1" height="1" fill="#c0c8d2"/><rect x="10" y="12" width="1" height="1" fill="#d0d0d4"/><rect x="11" y="12" width="1" height="1" fill="#d2d2d4"/><rect x="12" y="12" width="1" height="1" fill="#c8ccd8"/><rect x="13" y="12" width="1" height="1" fill="#c4cad8"/><rect x="14" y="12" width="1" height="1" fill="#d0dce0"/><rect x="15" y="12" width="1" height="1" fill="#d4dcdc"/><rect x="16" y="12" width="1" height="1" fill="#c8d4dc"/><rect x="17" y="12" width="1" height="1" fill="#a8c2ce"/><rect x="18" y="12" width="1" height="1" fill="#a8c0c8"/><rect x="19" y="12" width="1" height="1" fill="#9eb6c6"/><rect x="20" y="12" width="1" height="1" fill="#92adc0"/><rect x="21" y="12" width="1" height="1" fill="#98aec0"/><rect x="22" y="12" width="1" height="1" fill="#98afc0"/><rect x="23" y="12" width="1" height="1" fill="#98acc0"/><rect x="24" y="12" width="2" height="1" fill="#94aac0"/><rect x="26" y="12" width="1" height="1" fill="#9cb0c8"/><rect x="27" y="12" width="1" height="1" fill="#a0b4c8"/><rect x="28" y="12" width="1" height="1" fill="#a8bccc"/><rect x="29" y="12" width="1" height="1" fill="#a8bcca"/><rect x="30" y="12" width="1" height="1" fill="#a6bacc"/><rect x="31" y="12" width="1" height="1" fill="#b8c8d4"/><rect x="32" y="12" width="1" height="1" fill="#d4dce0"/><rect x="33" y="12" width="1" height="1" fill="#d8dee4"/><rect x="34" y="12" width="1" height="1" fill="#dce0e8"/><rect x="35" y="12" width="1" height="1" fill="#c8d4e2"/><rect x="36" y="12" width="1" height="1" fill="#c0cce0"/><rect x="37" y="12" width="1" height="1" fill="#a8bed0"/><rect x="38" y="12" width="1" height="1" fill="#a4bccc"/><rect x="39" y="12" width="2" height="1" fill="#a0b8c8"/><rect x="41" y="12" width="1" height="1" fill="#9cb4c8"/><rect x="42" y="12" width="1" height="1" fill="#98b0c4"/><rect x="43" y="12" width="1" height="1" fill="#90acc4"/><rect x="44" y="12" width="1" height="1" fill="#8ca4c0"/><rect x="45" y="12" width="1" height="1" fill="#88a4c0"/><rect x="46" y="12" width="1" height="1" fill="#88a8c4"/><rect x="47" y="12" width="1" height="1" fill="#8aa8c8"/><rect x="48" y="12" width="1" height="1" fill="#a0b8cc"/><rect x="49" y="12" width="1" height="1" fill="#c4d4dc"/><rect x="50" y="12" width="1" height="1" fill="#d0e0ec"/><rect x="51" y="12" width="1" height="1" fill="#b4c8e4"/><rect x="52" y="12" width="1" height="1" fill="#a4b8d4"/><rect x="53" y="12" width="1" height="1" fill="#a8bcd0"/><rect x="54" y="12" width="1" height="1" fill="#84a8c4"/><rect x="55" y="12" width="1" height="1" fill="#7498c0"/><rect x="56" y="12" width="1" height="1" fill="#7ea2c0"/><rect x="57" y="12" width="1" height="1" fill="#88aac4"/><rect x="58" y="12" width="1" height="1" fill="#90b0c8"/><rect x="59" y="12" width="1" height="1" fill="#84a8c4"/><rect x="60" y="12" width="1" height="1" fill="#80a0c0"/><rect x="61" y="12" width="1" height="1" fill="#98acc8"/><rect x="62" y="12" width="1" height="1" fill="#94acc8"/><rect x="63" y="12" width="1" height="1" fill="#a4b8cc"/><rect x="64" y="12" width="1" height="1" fill="#b8c8d0"/><rect x="0" y="13" width="1" height="1" fill="#c8dcef"/><rect x="1" y="13" width="1" height="1" fill="#d8e4f0"/><rect x="2" y="13" width="1" height="1" fill="#dce6f2"/><rect x="3" y="13" width="1" height="1" fill="#b8cad8"/><rect x="4" y="13" width="1" height="1" fill="#92aec6"/><rect x="5" y="13" width="1" height="1" fill="#80a4c2"/><rect x="6" y="13" width="1" height="1" fill="#6a90c0"/><rect x="7" y="13" width="1" height="1" fill="#7ea4be"/><rect x="8" y="13" width="1" height="1" fill="#98acbe"/><rect x="9" y="13" width="1" height="1" fill="#a4b6c6"/><rect x="10" y="13" width="1" height="1" fill="#c0c8d0"/><rect x="11" y="13" width="1" height="1" fill="#c8ccd6"/><rect x="12" y="13" width="1" height="1" fill="#d0d8e4"/><rect x="13" y="13" width="1" height="1" fill="#dce6ea"/><rect x="14" y="13" width="1" height="1" fill="#dae6ea"/><rect x="15" y="13" width="1" height="1" fill="#ccdce2"/><rect x="16" y="13" width="1" height="1" fill="#b0cad6"/><rect x="17" y="13" width="1" height="1" fill="#a0bccc"/><rect x="18" y="13" width="1" height="1" fill="#90aec4"/><rect x="19" y="13" width="1" height="1" fill="#88a8c0"/><rect x="20" y="13" width="1" height="1" fill="#82a2bc"/><rect x="21" y="13" width="1" height="1" fill="#829ebc"/><rect x="22" y="13" width="3" height="1" fill="#8ca0bc"/><rect x="25" y="13" width="1" height="1" fill="#a0b0c8"/><rect x="26" y="13" width="3" height="1" fill="#a8bccc"/><rect x="29" y="13" width="1" height="1" fill="#a0b6c8"/><rect x="30" y="13" width="1" height="1" fill="#8ca8c4"/><rect x="31" y="13" width="1" height="1" fill="#b0c0d0"/><rect x="32" y="13" width="1" height="1" fill="#d8d8e0"/><rect x="33" y="13" width="1" height="1" fill="#e8e8ec"/><rect x="34" y="13" width="1" height="1" fill="#f0eef6"/><rect x="35" y="13" width="1" height="1" fill="#f8f4f8"/><rect x="36" y="13" width="1" height="1" fill="#f4f0f4"/><rect x="37" y="13" width="1" height="1" fill="#e0e4f4"/><rect x="38" y="13" width="1" height="1" fill="#dce8f0"/><rect x="39" y="13" width="1" height="1" fill="#b8c8d4"/><rect x="40" y="13" width="1" height="1" fill="#b0c0cc"/><rect x="41" y="13" width="1" height="1" fill="#a8bcc8"/><rect x="42" y="13" width="1" height="1" fill="#a0b4c4"/><rect x="43" y="13" width="1" height="1" fill="#94acc4"/><rect x="44" y="13" width="1" height="1" fill="#8ca0bc"/><rect x="45" y="13" width="1" height="1" fill="#90a4bc"/><rect x="46" y="13" width="1" height="1" fill="#94a8c4"/><rect x="47" y="13" width="1" height="1" fill="#a8bcd4"/><rect x="48" y="13" width="1" height="1" fill="#c0d4dc"/><rect x="49" y="13" width="1" height="1" fill="#ecf2f4"/><rect x="50" y="13" width="1" height="1" fill="#fcfcfc"/><rect x="51" y="13" width="1" height="1" fill="#e8f0f8"/><rect x="52" y="13" width="1" height="1" fill="#d8e4ec"/><rect x="53" y="13" width="1" height="1" fill="#b8ccd4"/><rect x="54" y="13" width="1" height="1" fill="#b4c8d0"/><rect x="55" y="13" width="1" height="1" fill="#b0c4d0"/><rect x="56" y="13" width="1" height="1" fill="#aac0cc"/><rect x="57" y="13" width="2" height="1" fill="#b8ccd4"/><rect x="59" y="13" width="1" height="1" fill="#a8c0cc"/><rect x="60" y="13" width="1" height="1" fill="#a8bcd0"/><rect x="61" y="13" width="1" height="1" fill="#c0ccd4"/><rect x="62" y="13" width="1" height="1" fill="#c0ccd8"/><rect x="63" y="13" width="1" height="1" fill="#c8d4d8"/><rect x="64" y="13" width="1" height="1" fill="#ccd8dc"/><rect x="0" y="14" width="1" height="1" fill="#cce0e8"/><rect x="1" y="14" width="1" height="1" fill="#d0dfe8"/><rect x="2" y="14" width="1" height="1" fill="#e0e4ee"/><rect x="3" y="14" width="1" height="1" fill="#ccd4dc"/><rect x="4" y="14" width="1" height="1" fill="#b8c8d2"/><rect x="5" y="14" width="1" height="1" fill="#9aacc8"/><rect x="6" y="14" width="1" height="1" fill="#8aa4c8"/><rect x="7" y="14" width="1" height="1" fill="#80a4c2"/><rect x="8" y="14" width="1" height="1" fill="#88a8bc"/><rect x="9" y="14" width="1" height="1" fill="#7c9fc6"/><rect x="10" y="14" width="1" height="1" fill="#a0b4c8"/><rect x="11" y="14" width="1" height="1" fill="#a8bcca"/><rect x="12" y="14" width="1" height="1" fill="#c0ccd4"/><rect x="13" y="14" width="1" height="1" fill="#c8d8e0"/><rect x="14" y="14" width="1" height="1" fill="#c4d6e0"/><rect x="15" y="14" width="1" height="1" fill="#b4c8d8"/><rect x="16" y="14" width="1" height="1" fill="#b4c6d4"/><rect x="17" y="14" width="1" height="1" fill="#a8bac8"/><rect x="18" y="14" width="1" height="1" fill="#88a8c0"/><rect x="19" y="14" width="2" height="1" fill="#7ea2c0"/><rect x="21" y="14" width="1" height="1" fill="#90a6c0"/><rect x="22" y="14" width="2" height="1" fill="#94a6c0"/><rect x="24" y="14" width="1" height="1" fill="#94a8c0"/><rect x="25" y="14" width="1" height="1" fill="#a4b4c4"/><rect x="26" y="14" width="1" height="1" fill="#a0b8c8"/><rect x="27" y="14" width="1" height="1" fill="#9cb4c8"/><rect x="28" y="14" width="1" height="1" fill="#94b0c4"/><rect x="29" y="14" width="1" height="1" fill="#88a8c4"/><rect x="30" y="14" width="1" height="1" fill="#80a4c0"/><rect x="31" y="14" width="1" height="1" fill="#a8bccc"/><rect x="32" y="14" width="1" height="1" fill="#d4d4dc"/><rect x="33" y="14" width="1" height="1" fill="#e0e0e4"/><rect x="34" y="14" width="1" height="1" fill="#e4e4ec"/><rect x="35" y="14" width="1" height="1" fill="#e8e6f0"/><rect x="36" y="14" width="1" height="1" fill="#f4ecec"/><rect x="37" y="14" width="1" height="1" fill="#e4e4ec"/><rect x="38" y="14" width="1" height="1" fill="#e8e8ec"/><rect x="39" y="14" width="1" height="1" fill="#c8d4e0"/><rect x="40" y="14" width="1" height="1" fill="#c0ccdc"/><rect x="41" y="14" width="1" height="1" fill="#bccad8"/><rect x="42" y="14" width="2" height="1" fill="#b4c4d0"/><rect x="44" y="14" width="1" height="1" fill="#b8c4d0"/><rect x="45" y="14" width="1" height="1" fill="#bcc8d4"/><rect x="46" y="14" width="1" height="1" fill="#b8c4d4"/><rect x="47" y="14" width="1" height="1" fill="#c4cad8"/><rect x="48" y="14" width="1" height="1" fill="#d8dce4"/><rect x="49" y="14" width="1" height="1" fill="#ece8ec"/><rect x="50" y="14" width="1" height="1" fill="#f4f2f6"/><rect x="51" y="14" width="1" height="1" fill="#f4f2ec"/><rect x="52" y="14" width="1" height="1" fill="#e8eaec"/><rect x="53" y="14" width="1" height="1" fill="#c0d0d4"/><rect x="54" y="14" width="1" height="1" fill="#b0c4cc"/><rect x="55" y="14" width="1" height="1" fill="#aac0c8"/><rect x="56" y="14" width="1" height="1" fill="#a8bec8"/><rect x="57" y="14" width="2" height="1" fill="#a8c0c8"/><rect x="59" y="14" width="1" height="1" fill="#a4bcc8"/><rect x="60" y="14" width="1" height="1" fill="#a8bccc"/><rect x="61" y="14" width="1" height="1" fill="#a8bcc8"/><rect x="62" y="14" width="1" height="1" fill="#a4b8cc"/><rect x="63" y="14" width="2" height="1" fill="#a8bcc8"/><rect x="0" y="15" width="1" height="1" fill="#bcdce4"/><rect x="1" y="15" width="1" height="1" fill="#c0d8e2"/><rect x="2" y="15" width="1" height="1" fill="#d8d8ea"/><rect x="3" y="15" width="1" height="1" fill="#e0e0e4"/><rect x="4" y="15" width="1" height="1" fill="#dcdcdc"/><rect x="5" y="15" width="1" height="1" fill="#c0c8d4"/><rect x="6" y="15" width="1" height="1" fill="#a4b2d0"/><rect x="7" y="15" width="1" height="1" fill="#94acc6"/><rect x="8" y="15" width="1" height="1" fill="#88a9b8"/><rect x="9" y="15" width="1" height="1" fill="#789ebe"/><rect x="10" y="15" width="1" height="1" fill="#84a0c2"/><rect x="11" y="15" width="1" height="1" fill="#98b4c6"/><rect x="12" y="15" width="1" height="1" fill="#98b8c8"/><rect x="13" y="15" width="1" height="1" fill="#a0bcd0"/><rect x="14" y="15" width="1" height="1" fill="#b0ccd8"/><rect x="15" y="15" width="1" height="1" fill="#c8d4d4"/><rect x="16" y="15" width="1" height="1" fill="#b8c8d4"/><rect x="17" y="15" width="1" height="1" fill="#a8b8c8"/><rect x="18" y="15" width="1" height="1" fill="#8aa6b8"/><rect x="19" y="15" width="1" height="1" fill="#8ca6b8"/><rect x="20" y="15" width="1" height="1" fill="#8ea6c0"/><rect x="21" y="15" width="1" height="1" fill="#a6b0bc"/><rect x="22" y="15" width="2" height="1" fill="#a8b0bc"/><rect x="24" y="15" width="1" height="1" fill="#98a8c0"/><rect x="25" y="15" width="1" height="1" fill="#98aec4"/><rect x="26" y="15" width="2" height="1" fill="#88a8c0"/><rect x="28" y="15" width="1" height="1" fill="#7c9ebc"/><rect x="29" y="15" width="1" height="1" fill="#7a9eb8"/><rect x="30" y="15" width="1" height="1" fill="#7e9cbc"/><rect x="31" y="15" width="1" height="1" fill="#a8b4c4"/><rect x="32" y="15" width="1" height="1" fill="#bcc4d4"/><rect x="33" y="15" width="1" height="1" fill="#ccd0dc"/><rect x="34" y="15" width="1" height="1" fill="#d4d0dc"/><rect x="35" y="15" width="1" height="1" fill="#dcd4e0"/><rect x="36" y="15" width="1" height="1" fill="#dcd8e4"/><rect x="37" y="15" width="1" height="1" fill="#e0dce4"/><rect x="38" y="15" width="1" height="1" fill="#eceaf0"/><rect x="39" y="15" width="1" height="1" fill="#e4e4f0"/><rect x="40" y="15" width="1" height="1" fill="#dcdcec"/><rect x="41" y="15" width="1" height="1" fill="#d8dce8"/><rect x="42" y="15" width="2" height="1" fill="#c4d4dc"/><rect x="44" y="15" width="1" height="1" fill="#dce0e4"/><rect x="45" y="15" width="1" height="1" fill="#e4e4e8"/><rect x="46" y="15" width="1" height="1" fill="#dcdce4"/><rect x="47" y="15" width="1" height="1" fill="#d8d8e4"/><rect x="48" y="15" width="1" height="1" fill="#e8e4e4"/><rect x="49" y="15" width="1" height="1" fill="#ece6e8"/><rect x="50" y="15" width="1" height="1" fill="#f0e8e8"/><rect x="51" y="15" width="1" height="1" fill="#f4ecea"/><rect x="52" y="15" width="1" height="1" fill="#e8e8ec"/><rect x="53" y="15" width="1" height="1" fill="#a8bcd0"/><rect x="54" y="15" width="1" height="1" fill="#90acc8"/><rect x="55" y="15" width="1" height="1" fill="#8aa8c4"/><rect x="56" y="15" width="1" height="1" fill="#8ca8bc"/><rect x="57" y="15" width="1" height="1" fill="#90a8b8"/><rect x="58" y="15" width="1" height="1" fill="#8eaabc"/><rect x="59" y="15" width="1" height="1" fill="#88a8c0"/><rect x="60" y="15" width="1" height="1" fill="#8aa8bc"/><rect x="61" y="15" width="2" height="1" fill="#8aa8c0"/><rect x="63" y="15" width="1" height="1" fill="#8eacc4"/><rect x="64" y="15" width="1" height="1" fill="#8eacc0"/><rect x="0" y="16" width="1" height="1" fill="#b0d4e0"/><rect x="1" y="16" width="1" height="1" fill="#bcd4e2"/><rect x="2" y="16" width="1" height="1" fill="#d4dcec"/><rect x="3" y="16" width="1" height="1" fill="#dce0ec"/><rect x="4" y="16" width="1" height="1" fill="#d8dee4"/><rect x="5" y="16" width="1" height="1" fill="#d0d8e4"/><rect x="6" y="16" width="1" height="1" fill="#c8d4e2"/><rect x="7" y="16" width="1" height="1" fill="#acc2d8"/><rect x="8" y="16" width="1" height="1" fill="#a0bccc"/><rect x="9" y="16" width="1" height="1" fill="#98b8cc"/><rect x="10" y="16" width="1" height="1" fill="#a0b2c8"/><rect x="11" y="16" width="1" height="1" fill="#9cb2c8"/><rect x="12" y="16" width="1" height="1" fill="#98b4c8"/><rect x="13" y="16" width="1" height="1" fill="#9cb8cc"/><rect x="14" y="16" width="1" height="1" fill="#a0bccc"/><rect x="15" y="16" width="1" height="1" fill="#a4bcc8"/><rect x="16" y="16" width="1" height="1" fill="#a0b4cc"/><rect x="17" y="16" width="1" height="1" fill="#a8b4c8"/><rect x="18" y="16" width="1" height="1" fill="#b0b4c6"/><rect x="19" y="16" width="1" height="1" fill="#b4bcca"/><rect x="20" y="16" width="2" height="1" fill="#bcc6d0"/><rect x="22" y="16" width="1" height="1" fill="#b8c0cc"/><rect x="23" y="16" width="1" height="1" fill="#b0bccc"/><rect x="24" y="16" width="1" height="1" fill="#9cb6d0"/><rect x="25" y="16" width="1" height="1" fill="#98b6cc"/><rect x="26" y="16" width="1" height="1" fill="#a0b8c8"/><rect x="27" y="16" width="1" height="1" fill="#8aacc8"/><rect x="28" y="16" width="2" height="1" fill="#7a9cbc"/><rect x="30" y="16" width="1" height="1" fill="#80a0c0"/><rect x="31" y="16" width="1" height="1" fill="#8aa6c0"/><rect x="32" y="16" width="1" height="1" fill="#96aec8"/><rect x="33" y="16" width="1" height="1" fill="#a4b4cc"/><rect x="34" y="16" width="1" height="1" fill="#b0bcd0"/><rect x="35" y="16" width="1" height="1" fill="#b8c0d4"/><rect x="36" y="16" width="1" height="1" fill="#c0c4d4"/><rect x="37" y="16" width="1" height="1" fill="#c4c8d4"/><rect x="38" y="16" width="1" height="1" fill="#c4ccd8"/><rect x="39" y="16" width="1" height="1" fill="#e0e4ea"/><rect x="40" y="16" width="1" height="1" fill="#dce0e8"/><rect x="41" y="16" width="1" height="1" fill="#ccd8e0"/><rect x="42" y="16" width="1" height="1" fill="#acc4dc"/><rect x="43" y="16" width="1" height="1" fill="#c4d4e4"/><rect x="44" y="16" width="1" height="1" fill="#eceff4"/><rect x="45" y="16" width="1" height="1" fill="#f0f0f0"/><rect x="46" y="16" width="1" height="1" fill="#e8e8ec"/><rect x="47" y="16" width="1" height="1" fill="#e4e4ec"/><rect x="48" y="16" width="1" height="1" fill="#ecece8"/><rect x="49" y="16" width="1" height="1" fill="#eeeeec"/><rect x="50" y="16" width="1" height="1" fill="#f4f0f0"/><rect x="51" y="16" width="1" height="1" fill="#e4e4e8"/><rect x="52" y="16" width="1" height="1" fill="#b4c4d4"/><rect x="53" y="16" width="1" height="1" fill="#90aac8"/><rect x="54" y="16" width="1" height="1" fill="#80a4c4"/><rect x="55" y="16" width="1" height="1" fill="#80a0c4"/><rect x="56" y="16" width="1" height="1" fill="#88a4c0"/><rect x="57" y="16" width="2" height="1" fill="#88a4bc"/><rect x="59" y="16" width="1" height="1" fill="#86a4bc"/><rect x="60" y="16" width="2" height="1" fill="#80a4c0"/><rect x="62" y="16" width="2" height="1" fill="#7aa0c0"/><rect x="64" y="16" width="1" height="1" fill="#729cc0"/><rect x="0" y="17" width="1" height="1" fill="#cce0e8"/><rect x="1" y="17" width="1" height="1" fill="#d0e0e6"/><rect x="2" y="17" width="1" height="1" fill="#e0e6f0"/><rect x="3" y="17" width="2" height="1" fill="#dee2ee"/><rect x="5" y="17" width="1" height="1" fill="#dce2ee"/><rect x="6" y="17" width="1" height="1" fill="#d0deee"/><rect x="7" y="17" width="1" height="1" fill="#b8cde2"/><rect x="8" y="17" width="1" height="1" fill="#b0c8dc"/><rect x="9" y="17" width="1" height="1" fill="#a4bed4"/><rect x="10" y="17" width="2" height="1" fill="#8eaac8"/><rect x="12" y="17" width="1" height="1" fill="#90acc8"/><rect x="13" y="17" width="1" height="1" fill="#8aa8c4"/><rect x="14" y="17" width="1" height="1" fill="#90aac4"/><rect x="15" y="17" width="1" height="1" fill="#94aac4"/><rect x="16" y="17" width="1" height="1" fill="#8aa8c0"/><rect x="17" y="17" width="1" height="1" fill="#a8b4c8"/><rect x="18" y="17" width="1" height="1" fill="#c8c0cc"/><rect x="19" y="17" width="1" height="1" fill="#d4d0dc"/><rect x="20" y="17" width="1" height="1" fill="#d8d8e4"/><rect x="21" y="17" width="1" height="1" fill="#c8ccdc"/><rect x="22" y="17" width="1" height="1" fill="#c0c8d6"/><rect x="23" y="17" width="1" height="1" fill="#a0b8d4"/><rect x="24" y="17" width="1" height="1" fill="#a0bcd4"/><rect x="25" y="17" width="1" height="1" fill="#b8ccd4"/><rect x="26" y="17" width="1" height="1" fill="#a8c0c8"/><rect x="27" y="17" width="1" height="1" fill="#8aacc8"/><rect x="28" y="17" width="1" height="1" fill="#7c9cbc"/><rect x="29" y="17" width="1" height="1" fill="#84a0c0"/><rect x="30" y="17" width="1" height="1" fill="#7898b8"/><rect x="31" y="17" width="1" height="1" fill="#86a2b8"/><rect x="32" y="17" width="1" height="1" fill="#82a2b8"/><rect x="33" y="17" width="1" height="1" fill="#84a4bc"/><rect x="34" y="17" width="1" height="1" fill="#7498c0"/><rect x="35" y="17" width="1" height="1" fill="#8aa8c4"/><rect x="36" y="17" width="1" height="1" fill="#94acc4"/><rect x="37" y="17" width="1" height="1" fill="#9cb2c8"/><rect x="38" y="17" width="1" height="1" fill="#b0c4d4"/><rect x="39" y="17" width="2" height="1" fill="#c8d8dc"/><rect x="41" y="17" width="2" height="1" fill="#b0c8d8"/><rect x="43" y="17" width="1" height="1" fill="#d0e0ec"/><rect x="44" y="17" width="1" height="1" fill="#f0f8fc"/><rect x="45" y="17" width="1" height="1" fill="#fcfcf8"/><rect x="46" y="17" width="1" height="1" fill="#f0f0f4"/><rect x="47" y="17" width="1" height="1" fill="#dce8f0"/><rect x="48" y="17" width="2" height="1" fill="#e4ecf0"/><rect x="50" y="17" width="1" height="1" fill="#e4e8ec"/><rect x="51" y="17" width="1" height="1" fill="#d4dce4"/><rect x="52" y="17" width="1" height="1" fill="#a0b4cc"/><rect x="53" y="17" width="1" height="1" fill="#88a8c4"/><rect x="54" y="17" width="1" height="1" fill="#80a4c0"/><rect x="55" y="17" width="1" height="1" fill="#6a90bc"/><rect x="56" y="17" width="1" height="1" fill="#84a0bc"/><rect x="57" y="17" width="1" height="1" fill="#7c9cbc"/><rect x="58" y="17" width="2" height="1" fill="#7e9ebc"/><rect x="60" y="17" width="1" height="1" fill="#7c9cbc"/><rect x="61" y="17" width="1" height="1" fill="#7698bc"/><rect x="62" y="17" width="1" height="1" fill="#7098bc"/><rect x="63" y="17" width="1" height="1" fill="#7098b8"/><rect x="64" y="17" width="1" height="1" fill="#6890ac"/><rect x="0" y="18" width="1" height="1" fill="#e4eef0"/><rect x="1" y="18" width="1" height="1" fill="#e6eef4"/><rect x="2" y="18" width="1" height="1" fill="#e8eef2"/><rect x="3" y="18" width="1" height="1" fill="#dee2f0"/><rect x="4" y="18" width="1" height="1" fill="#e0e4f2"/><rect x="5" y="18" width="1" height="1" fill="#dce4f2"/><rect x="6" y="18" width="1" height="1" fill="#cfdef2"/><rect x="7" y="18" width="1" height="1" fill="#c4d8ea"/><rect x="8" y="18" width="1" height="1" fill="#c4d8e6"/><rect x="9" y="18" width="1" height="1" fill="#c0d4e6"/><rect x="10" y="18" width="2" height="1" fill="#a8c4dc"/><rect x="12" y="18" width="1" height="1" fill="#a4c0dc"/><rect x="13" y="18" width="1" height="1" fill="#98b8d4"/><rect x="14" y="18" width="2" height="1" fill="#9cb8d0"/><rect x="16" y="18" width="1" height="1" fill="#94b0c8"/><rect x="17" y="18" width="1" height="1" fill="#a8b8cc"/><rect x="18" y="18" width="1" height="1" fill="#cac6d6"/><rect x="19" y="18" width="1" height="1" fill="#d4d4e0"/><rect x="20" y="18" width="1" height="1" fill="#d4d6e0"/><rect x="21" y="18" width="1" height="1" fill="#d0d4de"/><rect x="22" y="18" width="1" height="1" fill="#c0ccd8"/><rect x="23" y="18" width="1" height="1" fill="#9cb8dc"/><rect x="24" y="18" width="1" height="1" fill="#b4d0e0"/><rect x="25" y="18" width="1" height="1" fill="#c4d8dc"/><rect x="26" y="18" width="1" height="1" fill="#a8c0cc"/><rect x="27" y="18" width="1" height="1" fill="#90acc8"/><rect x="28" y="18" width="1" height="1" fill="#80a0c0"/><rect x="29" y="18" width="1" height="1" fill="#8ca8c0"/><rect x="30" y="18" width="1" height="1" fill="#7c9cbc"/><rect x="31" y="18" width="1" height="1" fill="#88a2bc"/><rect x="32" y="18" width="2" height="1" fill="#7c9cbc"/><rect x="34" y="18" width="1" height="1" fill="#7090bc"/><rect x="35" y="18" width="1" height="1" fill="#88a8c0"/><rect x="36" y="18" width="1" height="1" fill="#8cacc4"/><rect x="37" y="18" width="1" height="1" fill="#94acc4"/><rect x="38" y="18" width="1" height="1" fill="#a8bccc"/><rect x="39" y="18" width="1" height="1" fill="#a0bccc"/><rect x="40" y="18" width="1" height="1" fill="#98bccc"/><rect x="41" y="18" width="1" height="1" fill="#a4c0cc"/><rect x="42" y="18" width="1" height="1" fill="#bcc8d4"/><rect x="43" y="18" width="1" height="1" fill="#d4dce4"/><rect x="44" y="18" width="2" height="1" fill="#e0e8ec"/><rect x="46" y="18" width="1" height="1" fill="#d0dce4"/><rect x="47" y="18" width="1" height="1" fill="#b4c8dc"/><rect x="48" y="18" width="1" height="1" fill="#b8ccdc"/><rect x="49" y="18" width="1" height="1" fill="#b8cce0"/><rect x="50" y="18" width="1" height="1" fill="#acc0d4"/><rect x="51" y="18" width="1" height="1" fill="#a8bcd0"/><rect x="52" y="18" width="1" height="1" fill="#8ca8c4"/><rect x="53" y="18" width="1" height="1" fill="#88a4c0"/><rect x="54" y="18" width="1" height="1" fill="#7496bc"/><rect x="55" y="18" width="1" height="1" fill="#7094bc"/><rect x="56" y="18" width="2" height="1" fill="#7c9cbc"/><rect x="58" y="18" width="1" height="1" fill="#789cbc"/><rect x="59" y="18" width="2" height="1" fill="#789cb8"/><rect x="61" y="18" width="1" height="1" fill="#789cb4"/><rect x="62" y="18" width="1" height="1" fill="#749ab4"/><rect x="63" y="18" width="1" height="1" fill="#7098b0"/><rect x="64" y="18" width="1" height="1" fill="#6890ac"/><rect x="0" y="19" width="1" height="1" fill="#eef4f4"/><rect x="1" y="19" width="1" height="1" fill="#ecf0f4"/><rect x="2" y="19" width="1" height="1" fill="#eaeef4"/><rect x="3" y="19" width="1" height="1" fill="#dce0f0"/><rect x="4" y="19" width="1" height="1" fill="#e4e6f2"/><rect x="5" y="19" width="1" height="1" fill="#dce4f2"/><rect x="6" y="19" width="1" height="1" fill="#cde0f4"/><rect x="7" y="19" width="1" height="1" fill="#e8eff4"/><rect x="8" y="19" width="1" height="1" fill="#f0f2f4"/><rect x="9" y="19" width="1" height="1" fill="#e8eef4"/><rect x="10" y="19" width="1" height="1" fill="#e6eaf4"/><rect x="11" y="19" width="1" height="1" fill="#e8eef4"/><rect x="12" y="19" width="1" height="1" fill="#cce4f2"/><rect x="13" y="19" width="1" height="1" fill="#bcd4ec"/><rect x="14" y="19" width="1" height="1" fill="#b0c8e0"/><rect x="15" y="19" width="1" height="1" fill="#a8c4dc"/><rect x="16" y="19" width="1" height="1" fill="#a0bcd4"/><rect x="17" y="19" width="1" height="1" fill="#b0c4d8"/><rect x="18" y="19" width="2" height="1" fill="#c8cce0"/><rect x="20" y="19" width="2" height="1" fill="#c4cce0"/><rect x="22" y="19" width="1" height="1" fill="#acc4e0"/><rect x="23" y="19" width="1" height="1" fill="#a8c2e0"/><rect x="24" y="19" width="1" height="1" fill="#c4d8e4"/><rect x="25" y="19" width="1" height="1" fill="#c8dce4"/><rect x="26" y="19" width="1" height="1" fill="#b0c4d4"/><rect x="27" y="19" width="1" height="1" fill="#98b0cc"/><rect x="28" y="19" width="1" height="1" fill="#90a8c4"/><rect x="29" y="19" width="1" height="1" fill="#90a8c0"/><rect x="30" y="19" width="1" height="1" fill="#88a4c0"/><rect x="31" y="19" width="1" height="1" fill="#8ca8c0"/><rect x="32" y="19" width="1" height="1" fill="#90acb8"/><rect x="33" y="19" width="2" height="1" fill="#7e9cb8"/><rect x="35" y="19" width="1" height="1" fill="#8aa8bc"/><rect x="36" y="19" width="1" height="1" fill="#98b4bc"/><rect x="37" y="19" width="1" height="1" fill="#9cb4c0"/><rect x="38" y="19" width="1" height="1" fill="#98a8c4"/><rect x="39" y="19" width="1" height="1" fill="#7ea4bc"/><rect x="40" y="19" width="1" height="1" fill="#84a8bc"/><rect x="41" y="19" width="1" height="1" fill="#8aa8c0"/><rect x="42" y="19" width="1" height="1" fill="#a8acc0"/><rect x="43" y="19" width="1" height="1" fill="#b0bcd0"/><rect x="44" y="19" width="2" height="1" fill="#b4c8d4"/><rect x="46" y="19" width="1" height="1" fill="#94b4c8"/><rect x="47" y="19" width="1" height="1" fill="#98b8c8"/><rect x="48" y="19" width="1" height="1" fill="#a0bcc8"/><rect x="49" y="19" width="1" height="1" fill="#90b0c4"/><rect x="50" y="19" width="1" height="1" fill="#94b0c4"/><rect x="51" y="19" width="1" height="1" fill="#88a4c0"/><rect x="52" y="19" width="1" height="1" fill="#88a0bc"/><rect x="53" y="19" width="1" height="1" fill="#80a0bc"/><rect x="54" y="19" width="1" height="1" fill="#7c9cbc"/><rect x="55" y="19" width="2" height="1" fill="#80a0bc"/><rect x="57" y="19" width="1" height="1" fill="#7c9cbc"/><rect x="58" y="19" width="2" height="1" fill="#8aa4c0"/><rect x="60" y="19" width="1" height="1" fill="#7a9cb8"/><rect x="61" y="19" width="1" height="1" fill="#6c98bc"/><rect x="62" y="19" width="1" height="1" fill="#6e96b8"/><rect x="63" y="19" width="1" height="1" fill="#6a90b0"/><rect x="64" y="19" width="1" height="1" fill="#6a8cb0"/></svg><div class="ed" style="left:15.2px;top:53.2px;width:1155.5px;height:354.4px;border-color:rgba(60,60,60,0.14)"></div><svg class="im" style="left:15.2px;top:501.0px;width:1155.5px;height:372.8px" viewBox="0 0 65 21" preserveAspectRatio="none" shape-rendering="crispEdges"><rect x="0" y="0" width="1" height="1" fill="#a24c88"/><rect x="1" y="0" width="1" height="1" fill="#a04c86"/><rect x="2" y="0" width="1" height="1" fill="#944480"/><rect x="3" y="0" width="62" height="1" fill="#53239b"/><rect x="0" y="1" width="1" height="1" fill="#a24e88"/><rect x="1" y="1" width="1" height="1" fill="#a04c86"/><rect x="2" y="1" width="1" height="1" fill="#9a4884"/><rect x="3" y="1" width="62" height="1" fill="#53239b"/><rect x="0" y="2" width="1" height="1" fill="#a24e88"/><rect x="1" y="2" width="1" height="1" fill="#a04c86"/><rect x="2" y="2" width="1" height="1" fill="#9c4a85"/><rect x="3" y="2" width="1" height="1" fill="#9c4a84"/><rect x="4" y="2" width="61" height="1" fill="#53239b"/><rect x="0" y="3" width="1" height="1" fill="#a24e88"/><rect x="1" y="3" width="1" height="1" fill="#a04e87"/><rect x="2" y="3" width="2" height="1" fill="#9e4c86"/><rect x="4" y="3" width="1" height="1" fill="#9c4a85"/><rect x="5" y="3" width="60" height="1" fill="#53239b"/><rect x="0" y="4" width="1" height="1" fill="#a45089"/><rect x="1" y="4" width="1" height="1" fill="#a24e88"/><rect x="2" y="4" width="3" height="1" fill="#a04e88"/><rect x="5" y="4" width="1" height="1" fill="#9a4884"/><rect x="6" y="4" width="59" height="1" fill="#53239b"/><rect x="0" y="5" width="3" height="1" fill="#a4508a"/><rect x="3" y="5" width="2" height="1" fill="#a24e88"/><rect x="5" y="5" width="1" height="1" fill="#9c4a86"/><rect x="6" y="5" width="1" height="1" fill="#9a4884"/><rect x="7" y="5" width="58" height="1" fill="#53239b"/><rect x="0" y="6" width="1" height="1" fill="#a4508a"/><rect x="1" y="6" width="2" height="1" fill="#a45089"/><rect x="3" y="6" width="1" height="1" fill="#a4508a"/><rect x="4" y="6" width="1" height="1" fill="#a4528a"/><rect x="5" y="6" width="1" height="1" fill="#a04e88"/><rect x="6" y="6" width="1" height="1" fill="#9a4884"/><rect x="7" y="6" width="1" height="1" fill="#984884"/><rect x="8" y="6" width="1" height="1" fill="#924280"/><rect x="9" y="6" width="1" height="1" fill="#904080"/><rect x="10" y="6" width="1" height="1" fill="#8e3e80"/><rect x="11" y="6" width="54" height="1" fill="#53239b"/><rect x="0" y="7" width="2" height="1" fill="#a24e88"/><rect x="2" y="7" width="1" height="1" fill="#a4508a"/><rect x="3" y="7" width="2" height="1" fill="#a8548c"/><rect x="5" y="7" width="1" height="1" fill="#a4508a"/><rect x="6" y="7" width="1" height="1" fill="#9e4c86"/><rect x="7" y="7" width="1" height="1" fill="#984884"/><rect x="8" y="7" width="1" height="1" fill="#8c3e80"/><rect x="9" y="7" width="1" height="1" fill="#8a3c7e"/><rect x="10" y="7" width="1" height="1" fill="#8e3e80"/><rect x="11" y="7" width="1" height="1" fill="#923f80"/><rect x="12" y="7" width="53" height="1" fill="#53239b"/><rect x="0" y="8" width="1" height="1" fill="#9e4c86"/><rect x="1" y="8" width="1" height="1" fill="#a04c86"/><rect x="2" y="8" width="1" height="1" fill="#a04e88"/><rect x="3" y="8" width="2" height="1" fill="#a65289"/><rect x="5" y="8" width="1" height="1" fill="#a4508a"/><rect x="6" y="8" width="1" height="1" fill="#a0508a"/><rect x="7" y="8" width="1" height="1" fill="#9c4c88"/><rect x="8" y="8" width="1" height="1" fill="#9a4884"/><rect x="9" y="8" width="1" height="1" fill="#984684"/><rect x="10" y="8" width="1" height="1" fill="#964684"/><rect x="11" y="8" width="1" height="1" fill="#984884"/><rect x="12" y="8" width="1" height="1" fill="#9a4884"/><rect x="13" y="8" width="1" height="1" fill="#904484"/><rect x="14" y="8" width="1" height="1" fill="#8f4383"/><rect x="15" y="8" width="2" height="1" fill="#904484"/><rect x="17" y="8" width="1" height="1" fill="#8e4483"/><rect x="18" y="8" width="1" height="1" fill="#904484"/><rect x="19" y="8" width="1" height="1" fill="#8e4484"/><rect x="20" y="8" width="1" height="1" fill="#8e4282"/><rect x="21" y="8" width="1" height="1" fill="#8a4280"/><rect x="22" y="8" width="12" height="1" fill="#53239b"/><rect x="34" y="8" width="2" height="1" fill="#8e4482"/><rect x="36" y="8" width="14" height="1" fill="#53239b"/><rect x="50" y="8" width="1" height="1" fill="#8e4482"/><rect x="51" y="8" width="14" height="1" fill="#53239b"/><rect x="0" y="9" width="1" height="1" fill="#9c4a85"/><rect x="1" y="9" width="1" height="1" fill="#964682"/><rect x="2" y="9" width="1" height="1" fill="#984884"/><rect x="3" y="9" width="1" height="1" fill="#9c4a86"/><rect x="4" y="9" width="1" height="1" fill="#9e4c86"/><rect x="5" y="9" width="1" height="1" fill="#a04c88"/><rect x="6" y="9" width="1" height="1" fill="#a85890"/><rect x="7" y="9" width="1" height="1" fill="#a4528a"/><rect x="8" y="9" width="1" height="1" fill="#a4508a"/><rect x="9" y="9" width="1" height="1" fill="#a04e88"/><rect x="10" y="9" width="1" height="1" fill="#a04c86"/><rect x="11" y="9" width="2" height="1" fill="#a04e88"/><rect x="13" y="9" width="1" height="1" fill="#9a4886"/><rect x="14" y="9" width="1" height="1" fill="#984886"/><rect x="15" y="9" width="1" height="1" fill="#944684"/><rect x="16" y="9" width="2" height="1" fill="#924684"/><rect x="18" y="9" width="1" height="1" fill="#904684"/><rect x="19" y="9" width="1" height="1" fill="#8e4482"/><rect x="20" y="9" width="1" height="1" fill="#944886"/><rect x="21" y="9" width="2" height="1" fill="#984886"/><rect x="23" y="9" width="4" height="1" fill="#53239b"/><rect x="27" y="9" width="1" height="1" fill="#9a4886"/><rect x="28" y="9" width="3" height="1" fill="#a04e88"/><rect x="31" y="9" width="1" height="1" fill="#9e4c88"/><rect x="32" y="9" width="1" height="1" fill="#9c4a86"/><rect x="33" y="9" width="1" height="1" fill="#984886"/><rect x="34" y="9" width="1" height="1" fill="#924484"/><rect x="35" y="9" width="1" height="1" fill="#904484"/><rect x="36" y="9" width="1" height="1" fill="#924484"/><rect x="37" y="9" width="1" height="1" fill="#944684"/><rect x="38" y="9" width="1" height="1" fill="#904484"/><rect x="39" y="9" width="3" height="1" fill="#53239b"/><rect x="42" y="9" width="1" height="1" fill="#8e4282"/><rect x="43" y="9" width="1" height="1" fill="#8c4282"/><rect x="44" y="9" width="2" height="1" fill="#8a4080"/><rect x="46" y="9" width="2" height="1" fill="#8c4282"/><rect x="48" y="9" width="3" height="1" fill="#8e4482"/><rect x="51" y="9" width="1" height="1" fill="#8c4282"/><rect x="52" y="9" width="1" height="1" fill="#8e4484"/><rect x="53" y="9" width="12" height="1" fill="#53239b"/><rect x="0" y="10" width="1" height="1" fill="#8e4480"/><rect x="1" y="10" width="1" height="1" fill="#8c4280"/><rect x="2" y="10" width="1" height="1" fill="#884280"/><rect x="3" y="10" width="2" height="1" fill="#8e4482"/><rect x="5" y="10" width="1" height="1" fill="#944a88"/><rect x="6" y="10" width="1" height="1" fill="#984c88"/><rect x="7" y="10" width="1" height="1" fill="#9c4e88"/><rect x="8" y="10" width="1" height="1" fill="#a05088"/><rect x="9" y="10" width="1" height="1" fill="#a45280"/><rect x="10" y="10" width="1" height="1" fill="#a45080"/><rect x="11" y="10" width="1" height="1" fill="#a04c80"/><rect x="12" y="10" width="1" height="1" fill="#9e4a84"/><rect x="13" y="10" width="1" height="1" fill="#9a4a86"/><rect x="14" y="10" width="1" height="1" fill="#9c4a86"/><rect x="15" y="10" width="1" height="1" fill="#9a4a86"/><rect x="16" y="10" width="2" height="1" fill="#984a86"/><rect x="18" y="10" width="1" height="1" fill="#9a4c86"/><rect x="19" y="10" width="1" height="1" fill="#9c4c84"/><rect x="20" y="10" width="1" height="1" fill="#9a4a86"/><rect x="21" y="10" width="1" height="1" fill="#984a86"/><rect x="22" y="10" width="1" height="1" fill="#984886"/><rect x="23" y="10" width="1" height="1" fill="#944684"/><rect x="24" y="10" width="2" height="1" fill="#8a4080"/><rect x="26" y="10" width="2" height="1" fill="#984886"/><rect x="28" y="10" width="1" height="1" fill="#9e4c88"/><rect x="29" y="10" width="1" height="1" fill="#a04e88"/><rect x="30" y="10" width="1" height="1" fill="#a25088"/><rect x="31" y="10" width="1" height="1" fill="#a04e88"/><rect x="32" y="10" width="1" height="1" fill="#9a4c88"/><rect x="33" y="10" width="1" height="1" fill="#984886"/><rect x="34" y="10" width="1" height="1" fill="#964886"/><rect x="35" y="10" width="1" height="1" fill="#944684"/><rect x="36" y="10" width="1" height="1" fill="#8c4280"/><rect x="37" y="10" width="1" height="1" fill="#8a4080"/><rect x="38" y="10" width="1" height="1" fill="#803a7a"/><rect x="39" y="10" width="1" height="1" fill="#843e7e"/><rect x="40" y="10" width="1" height="1" fill="#863e7e"/><rect x="41" y="10" width="1" height="1" fill="#883e7e"/><rect x="42" y="10" width="1" height="1" fill="#8a4080"/><rect x="43" y="10" width="2" height="1" fill="#803a7c"/><rect x="45" y="10" width="2" height="1" fill="#8a4080"/><rect x="47" y="10" width="1" height="1" fill="#8e4280"/><rect x="48" y="10" width="1" height="1" fill="#803a7c"/><rect x="49" y="10" width="1" height="1" fill="#843c7e"/><rect x="50" y="10" width="1" height="1" fill="#8a4080"/><rect x="51" y="10" width="1" height="1" fill="#8c4280"/><rect x="52" y="10" width="1" height="1" fill="#904484"/><rect x="53" y="10" width="1" height="1" fill="#8e4282"/><rect x="54" y="10" width="9" height="1" fill="#53239b"/><rect x="63" y="10" width="1" height="1" fill="#8e4282"/><rect x="64" y="10" width="1" height="1" fill="#904484"/><rect x="0" y="11" width="1" height="1" fill="#904484"/><rect x="1" y="11" width="1" height="1" fill="#8e4484"/><rect x="2" y="11" width="1" height="1" fill="#864280"/><rect x="3" y="11" width="1" height="1" fill="#864080"/><rect x="4" y="11" width="1" height="1" fill="#883e7e"/><rect x="5" y="11" width="1" height="1" fill="#8a3e7e"/><rect x="6" y="11" width="1" height="1" fill="#8c4080"/><rect x="7" y="11" width="1" height="1" fill="#9a4a86"/><rect x="8" y="11" width="1" height="1" fill="#9e4c88"/><rect x="9" y="11" width="1" height="1" fill="#a25088"/><rect x="10" y="11" width="1" height="1" fill="#a85288"/><rect x="11" y="11" width="1" height="1" fill="#aa5488"/><rect x="12" y="11" width="1" height="1" fill="#a04c88"/><rect x="13" y="11" width="2" height="1" fill="#a04e88"/><rect x="15" y="11" width="1" height="1" fill="#a45088"/><rect x="16" y="11" width="1" height="1" fill="#a8528a"/><rect x="17" y="11" width="1" height="1" fill="#a05088"/><rect x="18" y="11" width="2" height="1" fill="#a25288"/><rect x="20" y="11" width="1" height="1" fill="#9c4e84"/><rect x="21" y="11" width="2" height="1" fill="#984886"/><rect x="23" y="11" width="1" height="1" fill="#944684"/><rect x="24" y="11" width="2" height="1" fill="#904484"/><rect x="26" y="11" width="1" height="1" fill="#984886"/><rect x="27" y="11" width="4" height="1" fill="#944684"/><rect x="31" y="11" width="1" height="1" fill="#984888"/><rect x="32" y="11" width="1" height="1" fill="#9a4a88"/><rect x="33" y="11" width="1" height="1" fill="#9e4e88"/><rect x="34" y="11" width="1" height="1" fill="#a05088"/><rect x="35" y="11" width="1" height="1" fill="#9a4a88"/><rect x="36" y="11" width="1" height="1" fill="#904484"/><rect x="37" y="11" width="1" height="1" fill="#8a4080"/><rect x="38" y="11" width="1" height="1" fill="#823c7c"/><rect x="39" y="11" width="2" height="1" fill="#803a7c"/><rect x="41" y="11" width="1" height="1" fill="#843c7e"/><rect x="42" y="11" width="5" height="1" fill="#8a4080"/><rect x="47" y="11" width="2" height="1" fill="#883e7e"/><rect x="49" y="11" width="1" height="1" fill="#904484"/><rect x="50" y="11" width="2" height="1" fill="#944684"/><rect x="52" y="11" width="1" height="1" fill="#9a4a88"/><rect x="53" y="11" width="1" height="1" fill="#964886"/><rect x="54" y="11" width="1" height="1" fill="#883e7e"/><rect x="55" y="11" width="1" height="1" fill="#8a4080"/><rect x="56" y="11" width="1" height="1" fill="#8c4280"/><rect x="57" y="11" width="1" height="1" fill="#8e4282"/><rect x="58" y="11" width="1" height="1" fill="#8c4280"/><rect x="59" y="11" width="1" height="1" fill="#8e4282"/><rect x="60" y="11" width="1" height="1" fill="#8a4080"/><rect x="61" y="11" width="2" height="1" fill="#883e80"/><rect x="63" y="11" width="1" height="1" fill="#843c7c"/><rect x="64" y="11" width="1" height="1" fill="#964886"/><rect x="0" y="12" width="1" height="1" fill="#9a4a88"/><rect x="1" y="12" width="1" height="1" fill="#9c4c88"/><rect x="2" y="12" width="1" height="1" fill="#9a4a88"/><rect x="3" y="12" width="1" height="1" fill="#944684"/><rect x="4" y="12" width="1" height="1" fill="#8c4080"/><rect x="5" y="12" width="1" height="1" fill="#883e7e"/><rect x="6" y="12" width="1" height="1" fill="#823c7c"/><rect x="7" y="12" width="1" height="1" fill="#8e4280"/><rect x="8" y="12" width="1" height="1" fill="#9a4a86"/><rect x="9" y="12" width="1" height="1" fill="#a05080"/><rect x="10" y="12" width="2" height="1" fill="#a45080"/><rect x="12" y="12" width="1" height="1" fill="#a24e88"/><rect x="13" y="12" width="1" height="1" fill="#a04e88"/><rect x="14" y="12" width="2" height="1" fill="#a6548a"/><rect x="16" y="12" width="1" height="1" fill="#a45088"/><rect x="17" y="12" width="1" height="1" fill="#9c4c88"/><rect x="18" y="12" width="1" height="1" fill="#9c4c84"/><rect x="19" y="12" width="1" height="1" fill="#944684"/><rect x="20" y="12" width="1" height="1" fill="#904484"/><rect x="21" y="12" width="2" height="1" fill="#944684"/><rect x="23" y="12" width="1" height="1" fill="#924684"/><rect x="24" y="12" width="2" height="1" fill="#904484"/><rect x="26" y="12" width="2" height="1" fill="#984886"/><rect x="28" y="12" width="2" height="1" fill="#9a4a86"/><rect x="30" y="12" width="1" height="1" fill="#984886"/><rect x="31" y="12" width="1" height="1" fill="#9c4c88"/><rect x="32" y="12" width="1" height="1" fill="#a8568a"/><rect x="33" y="12" width="2" height="1" fill="#aa588c"/><rect x="35" y="12" width="1" height="1" fill="#a8568e"/><rect x="36" y="12" width="1" height="1" fill="#a4528e"/><rect x="37" y="12" width="1" height="1" fill="#a0508a"/><rect x="38" y="12" width="1" height="1" fill="#984886"/><rect x="39" y="12" width="2" height="1" fill="#8c4280"/><rect x="41" y="12" width="3" height="1" fill="#8a4080"/><rect x="44" y="12" width="1" height="1" fill="#8c4282"/><rect x="45" y="12" width="2" height="1" fill="#863e7e"/><rect x="47" y="12" width="1" height="1" fill="#8e4282"/><rect x="48" y="12" width="1" height="1" fill="#a05088"/><rect x="49" y="12" width="1" height="1" fill="#a4528a"/><rect x="50" y="12" width="1" height="1" fill="#a6548c"/><rect x="51" y="12" width="1" height="1" fill="#9e4e8a"/><rect x="52" y="12" width="1" height="1" fill="#a04e88"/><rect x="53" y="12" width="1" height="1" fill="#964886"/><rect x="54" y="12" width="1" height="1" fill="#8e4282"/><rect x="55" y="12" width="1" height="1" fill="#8a4080"/><rect x="56" y="12" width="1" height="1" fill="#8c4280"/><rect x="57" y="12" width="3" height="1" fill="#904484"/><rect x="60" y="12" width="1" height="1" fill="#8e4282"/><rect x="61" y="12" width="2" height="1" fill="#944684"/><rect x="63" y="12" width="2" height="1" fill="#a05088"/><rect x="0" y="13" width="1" height="1" fill="#a6548c"/><rect x="1" y="13" width="1" height="1" fill="#a8568c"/><rect x="2" y="13" width="1" height="1" fill="#a8568e"/><rect x="3" y="13" width="1" height="1" fill="#9e4c88"/><rect x="4" y="13" width="1" height="1" fill="#904484"/><rect x="5" y="13" width="1" height="1" fill="#883e80"/><rect x="6" y="13" width="1" height="1" fill="#7e3a7a"/><rect x="7" y="13" width="1" height="1" fill="#883e80"/><rect x="8" y="13" width="1" height="1" fill="#8e4280"/><rect x="9" y="13" width="1" height="1" fill="#944682"/><rect x="10" y="13" width="1" height="1" fill="#9a4880"/><rect x="11" y="13" width="1" height="1" fill="#9c4c84"/><rect x="12" y="13" width="1" height="1" fill="#a4528a"/><rect x="13" y="13" width="2" height="1" fill="#a8568c"/><rect x="15" y="13" width="1" height="1" fill="#a0508a"/><rect x="16" y="13" width="1" height="1" fill="#9e4e88"/><rect x="17" y="13" width="1" height="1" fill="#944884"/><rect x="18" y="13" width="1" height="1" fill="#904482"/><rect x="19" y="13" width="1" height="1" fill="#8e4280"/><rect x="20" y="13" width="1" height="1" fill="#8a4080"/><rect x="21" y="13" width="1" height="1" fill="#8c4080"/><rect x="22" y="13" width="2" height="1" fill="#8e4280"/><rect x="24" y="13" width="1" height="1" fill="#8c4080"/><rect x="25" y="13" width="1" height="1" fill="#924684"/><rect x="26" y="13" width="1" height="1" fill="#9a4a88"/><rect x="27" y="13" width="3" height="1" fill="#984886"/><rect x="30" y="13" width="1" height="1" fill="#904484"/><rect x="31" y="13" width="1" height="1" fill="#9c4c88"/><rect x="32" y="13" width="1" height="1" fill="#a8568a"/><rect x="33" y="13" width="1" height="1" fill="#b0608e"/><rect x="34" y="13" width="1" height="1" fill="#b45f94"/><rect x="35" y="13" width="2" height="1" fill="#b46094"/><rect x="37" y="13" width="1" height="1" fill="#a8568e"/><rect x="38" y="13" width="1" height="1" fill="#a4528a"/><rect x="39" y="13" width="1" height="1" fill="#9a4a88"/><rect x="40" y="13" width="2" height="1" fill="#964886"/><rect x="42" y="13" width="1" height="1" fill="#924484"/><rect x="43" y="13" width="1" height="1" fill="#904484"/><rect x="44" y="13" width="2" height="1" fill="#8a3e7e"/><rect x="46" y="13" width="1" height="1" fill="#904484"/><rect x="47" y="13" width="1" height="1" fill="#9a4a88"/><rect x="48" y="13" width="1" height="1" fill="#a4528a"/><rect x="49" y="13" width="1" height="1" fill="#b0608e"/><rect x="50" y="13" width="1" height="1" fill="#b8608f"/><rect x="51" y="13" width="1" height="1" fill="#b05a90"/><rect x="52" y="13" width="1" height="1" fill="#a6548c"/><rect x="53" y="13" width="1" height="1" fill="#9e4c88"/><rect x="54" y="13" width="3" height="1" fill="#984886"/><rect x="57" y="13" width="2" height="1" fill="#9c4c88"/><rect x="59" y="13" width="2" height="1" fill="#984886"/><rect x="61" y="13" width="2" height="1" fill="#9e4e88"/><rect x="63" y="13" width="1" height="1" fill="#9c4c88"/><rect x="64" y="13" width="1" height="1" fill="#a05088"/><rect x="0" y="14" width="2" height="1" fill="#a6548c"/><rect x="2" y="14" width="1" height="1" fill="#a8548a"/><rect x="3" y="14" width="1" height="1" fill="#a4508a"/><rect x="4" y="14" width="1" height="1" fill="#9c4c86"/><rect x="5" y="14" width="1" height="1" fill="#924584"/><rect x="6" y="14" width="1" height="1" fill="#8a3e80"/><rect x="7" y="14" width="1" height="1" fill="#883e80"/><rect x="8" y="14" width="1" height="1" fill="#883e7c"/><rect x="9" y="14" width="1" height="1" fill="#883c80"/><rect x="10" y="14" width="2" height="1" fill="#944684"/><rect x="12" y="14" width="1" height="1" fill="#a0508a"/><rect x="13" y="14" width="2" height="1" fill="#a4528a"/><rect x="15" y="14" width="2" height="1" fill="#9c4c88"/><rect x="17" y="14" width="1" height="1" fill="#944684"/><rect x="18" y="14" width="1" height="1" fill="#8c4080"/><rect x="19" y="14" width="1" height="1" fill="#8a3e7e"/><rect x="20" y="14" width="1" height="1" fill="#863c7c"/><rect x="21" y="14" width="2" height="1" fill="#904484"/><rect x="23" y="14" width="1" height="1" fill="#8e4280"/><rect x="24" y="14" width="1" height="1" fill="#904480"/><rect x="25" y="14" width="1" height="1" fill="#924684"/><rect x="26" y="14" width="1" height="1" fill="#9a4a88"/><rect x="27" y="14" width="1" height="1" fill="#984886"/><rect x="28" y="14" width="1" height="1" fill="#944684"/><rect x="29" y="14" width="1" height="1" fill="#904484"/><rect x="30" y="14" width="1" height="1" fill="#8a4080"/><rect x="31" y="14" width="1" height="1" fill="#984886"/><rect x="32" y="14" width="1" height="1" fill="#a8568a"/><rect x="33" y="14" width="2" height="1" fill="#b05a90"/><rect x="35" y="14" width="1" height="1" fill="#ae5c90"/><rect x="36" y="14" width="1" height="1" fill="#b45e90"/><rect x="37" y="14" width="1" height="1" fill="#aa588e"/><rect x="38" y="14" width="1" height="1" fill="#a8568c"/><rect x="39" y="14" width="1" height="1" fill="#a04e88"/><rect x="40" y="14" width="2" height="1" fill="#9c4c88"/><rect x="42" y="14" width="2" height="1" fill="#9a4a86"/><rect x="44" y="14" width="3" height="1" fill="#9e4c84"/><rect x="47" y="14" width="1" height="1" fill="#a04e88"/><rect x="48" y="14" width="1" height="1" fill="#aa588a"/><rect x="49" y="14" width="1" height="1" fill="#b05a90"/><rect x="50" y="14" width="1" height="1" fill="#b45e90"/><rect x="51" y="14" width="1" height="1" fill="#b05a8e"/><rect x="52" y="14" width="1" height="1" fill="#ac5a8a"/><rect x="53" y="14" width="1" height="1" fill="#9e4c88"/><rect x="54" y="14" width="2" height="1" fill="#964886"/><rect x="56" y="14" width="4" height="1" fill="#984886"/><rect x="60" y="14" width="3" height="1" fill="#964886"/><rect x="63" y="14" width="2" height="1" fill="#944684"/><rect x="0" y="15" width="2" height="1" fill="#a6528a"/><rect x="2" y="15" width="2" height="1" fill="#a8548a"/><rect x="4" y="15" width="1" height="1" fill="#aa5488"/><rect x="5" y="15" width="1" height="1" fill="#9e4c88"/><rect x="6" y="15" width="1" height="1" fill="#964886"/><rect x="7" y="15" width="1" height="1" fill="#904484"/><rect x="8" y="15" width="1" height="1" fill="#8c4280"/><rect x="9" y="15" width="1" height="1" fill="#863c80"/><rect x="10" y="15" width="1" height="1" fill="#8a3e80"/><rect x="11" y="15" width="1" height="1" fill="#8c4282"/><rect x="12" y="15" width="1" height="1" fill="#904484"/><rect x="13" y="15" width="1" height="1" fill="#984886"/><rect x="14" y="15" width="1" height="1" fill="#a04e88"/><rect x="15" y="15" width="1" height="1" fill="#a0508a"/><rect x="16" y="15" width="1" height="1" fill="#9e4e88"/><rect x="17" y="15" width="1" height="1" fill="#944684"/><rect x="18" y="15" width="3" height="1" fill="#8c4080"/><rect x="21" y="15" width="3" height="1" fill="#944880"/><rect x="24" y="15" width="2" height="1" fill="#904482"/><rect x="26" y="15" width="1" height="1" fill="#964886"/><rect x="27" y="15" width="1" height="1" fill="#924684"/><rect x="28" y="15" width="3" height="1" fill="#883e7e"/><rect x="31" y="15" width="1" height="1" fill="#9c4a84"/><rect x="32" y="15" width="2" height="1" fill="#a4528a"/><rect x="34" y="15" width="2" height="1" fill="#aa568a"/><rect x="36" y="15" width="1" height="1" fill="#ac588a"/><rect x="37" y="15" width="2" height="1" fill="#ae5a8e"/><rect x="39" y="15" width="1" height="1" fill="#aa588c"/><rect x="40" y="15" width="1" height="1" fill="#a8568c"/><rect x="41" y="15" width="1" height="1" fill="#a4528a"/><rect x="42" y="15" width="1" height="1" fill="#9c4c88"/><rect x="43" y="15" width="1" height="1" fill="#a25088"/><rect x="44" y="15" width="1" height="1" fill="#aa568a"/><rect x="45" y="15" width="2" height="1" fill="#ac588a"/><rect x="47" y="15" width="1" height="1" fill="#a8568c"/><rect x="48" y="15" width="1" height="1" fill="#aa568a"/><rect x="49" y="15" width="1" height="1" fill="#b05a8a"/><rect x="50" y="15" width="1" height="1" fill="#b45c8c"/><rect x="51" y="15" width="1" height="1" fill="#b05a8c"/><rect x="52" y="15" width="1" height="1" fill="#ac588a"/><rect x="53" y="15" width="1" height="1" fill="#964886"/><rect x="54" y="15" width="1" height="1" fill="#904484"/><rect x="55" y="15" width="6" height="1" fill="#8e4282"/><rect x="61" y="15" width="4" height="1" fill="#8c4280"/><rect x="0" y="16" width="2" height="1" fill="#a4528a"/><rect x="2" y="16" width="1" height="1" fill="#a8548c"/><rect x="3" y="16" width="1" height="1" fill="#a8568c"/><rect x="4" y="16" width="1" height="1" fill="#a6548a"/><rect x="5" y="16" width="1" height="1" fill="#a4528a"/><rect x="6" y="16" width="1" height="1" fill="#a04e88"/><rect x="7" y="16" width="1" height="1" fill="#984886"/><rect x="8" y="16" width="2" height="1" fill="#944684"/><rect x="10" y="16" width="4" height="1" fill="#904484"/><rect x="14" y="16" width="1" height="1" fill="#924684"/><rect x="15" y="16" width="2" height="1" fill="#944684"/><rect x="17" y="16" width="1" height="1" fill="#964884"/><rect x="18" y="16" width="1" height="1" fill="#9a4a86"/><rect x="19" y="16" width="1" height="1" fill="#9e4c88"/><rect x="20" y="16" width="1" height="1" fill="#9c4c88"/><rect x="21" y="16" width="1" height="1" fill="#9e4c84"/><rect x="22" y="16" width="1" height="1" fill="#9c4c84"/><rect x="23" y="16" width="2" height="1" fill="#984886"/><rect x="25" y="16" width="1" height="1" fill="#944684"/><rect x="26" y="16" width="1" height="1" fill="#964886"/><rect x="27" y="16" width="1" height="1" fill="#924684"/><rect x="28" y="16" width="2" height="1" fill="#843c7c"/><rect x="30" y="16" width="1" height="1" fill="#883e7e"/><rect x="31" y="16" width="1" height="1" fill="#904484"/><rect x="32" y="16" width="1" height="1" fill="#944684"/><rect x="33" y="16" width="1" height="1" fill="#984886"/><rect x="34" y="16" width="1" height="1" fill="#9c4c88"/><rect x="35" y="16" width="1" height="1" fill="#a04e88"/><rect x="36" y="16" width="3" height="1" fill="#a4508a"/><rect x="39" y="16" width="1" height="1" fill="#a85890"/><rect x="40" y="16" width="1" height="1" fill="#a8568c"/><rect x="41" y="16" width="1" height="1" fill="#a4528a"/><rect x="42" y="16" width="1" height="1" fill="#9c4c88"/><rect x="43" y="16" width="1" height="1" fill="#a4528c"/><rect x="44" y="16" width="1" height="1" fill="#b0608e"/><rect x="45" y="16" width="1" height="1" fill="#b45e92"/><rect x="46" y="16" width="1" height="1" fill="#ae5a8e"/><rect x="47" y="16" width="1" height="1" fill="#ac588e"/><rect x="48" y="16" width="3" height="1" fill="#b05c8e"/><rect x="51" y="16" width="1" height="1" fill="#a8568c"/><rect x="52" y="16" width="1" height="1" fill="#9a4a88"/><rect x="53" y="16" width="1" height="1" fill="#904484"/><rect x="54" y="16" width="1" height="1" fill="#8a4080"/><rect x="55" y="16" width="1" height="1" fill="#883e7e"/><rect x="56" y="16" width="2" height="1" fill="#8c4280"/><rect x="58" y="16" width="4" height="1" fill="#8a4080"/><rect x="62" y="16" width="1" height="1" fill="#883e7e"/><rect x="63" y="16" width="1" height="1" fill="#843c7e"/><rect x="64" y="16" width="1" height="1" fill="#823c7c"/><rect x="0" y="17" width="2" height="1" fill="#aa548a"/><rect x="2" y="17" width="3" height="1" fill="#aa568c"/><rect x="5" y="17" width="1" height="1" fill="#a8568c"/><rect x="6" y="17" width="1" height="1" fill="#a8568e"/><rect x="7" y="17" width="1" height="1" fill="#9c4c88"/><rect x="8" y="17" width="1" height="1" fill="#9a4a88"/><rect x="9" y="17" width="1" height="1" fill="#944684"/><rect x="10" y="17" width="1" height="1" fill="#8e4284"/><rect x="11" y="17" width="1" height="1" fill="#8c4082"/><rect x="12" y="17" width="1" height="1" fill="#8e4282"/><rect x="13" y="17" width="2" height="1" fill="#8a4080"/><rect x="15" y="17" width="2" height="1" fill="#8c4280"/><rect x="17" y="17" width="1" height="1" fill="#984886"/><rect x="18" y="17" width="1" height="1" fill="#a44c80"/><rect x="19" y="17" width="1" height="1" fill="#a4508a"/><rect x="20" y="17" width="1" height="1" fill="#a65490"/><rect x="21" y="17" width="1" height="1" fill="#a4528a"/><rect x="22" y="17" width="1" height="1" fill="#9e4e88"/><rect x="23" y="17" width="1" height="1" fill="#984886"/><rect x="24" y="17" width="1" height="1" fill="#944684"/><rect x="25" y="17" width="1" height="1" fill="#a05084"/><rect x="26" y="17" width="1" height="1" fill="#a05088"/><rect x="27" y="17" width="1" height="1" fill="#924684"/><rect x="28" y="17" width="3" height="1" fill="#883e7e"/><rect x="31" y="17" width="2" height="1" fill="#8a4080"/><rect x="33" y="17" width="1" height="1" fill="#8c4080"/><rect x="34" y="17" width="1" height="1" fill="#843c7e"/><rect x="35" y="17" width="2" height="1" fill="#8c4282"/><rect x="37" y="17" width="1" height="1" fill="#904484"/><rect x="38" y="17" width="1" height="1" fill="#984a88"/><rect x="39" y="17" width="2" height="1" fill="#a4528a"/><rect x="41" y="17" width="2" height="1" fill="#9c4c88"/><rect x="43" y="17" width="1" height="1" fill="#a4528c"/><rect x="44" y="17" width="1" height="1" fill="#b0608e"/><rect x="45" y="17" width="1" height="1" fill="#b8649a"/><rect x="46" y="17" width="1" height="1" fill="#b4608e"/><rect x="47" y="17" width="2" height="1" fill="#ae5a8e"/><rect x="49" y="17" width="2" height="1" fill="#ac5a92"/><rect x="51" y="17" width="1" height="1" fill="#a4528a"/><rect x="52" y="17" width="1" height="1" fill="#944684"/><rect x="53" y="17" width="1" height="1" fill="#904484"/><rect x="54" y="17" width="1" height="1" fill="#8a4080"/><rect x="55" y="17" width="1" height="1" fill="#803a7c"/><rect x="56" y="17" width="1" height="1" fill="#883e7e"/><rect x="57" y="17" width="2" height="1" fill="#8a4080"/><rect x="59" y="17" width="1" height="1" fill="#883e7e"/><rect x="60" y="17" width="1" height="1" fill="#863e7e"/><rect x="61" y="17" width="1" height="1" fill="#823c7c"/><rect x="62" y="17" width="2" height="1" fill="#843c7e"/><rect x="64" y="17" width="1" height="1" fill="#823a7a"/><rect x="0" y="18" width="5" height="1" fill="#aa568c"/><rect x="5" y="18" width="1" height="1" fill="#a8568e"/><rect x="6" y="18" width="1" height="1" fill="#a4528e"/><rect x="7" y="18" width="2" height="1" fill="#a0508c"/><rect x="9" y="18" width="1" height="1" fill="#9e4e8a"/><rect x="10" y="18" width="1" height="1" fill="#9a4a88"/><rect x="11" y="18" width="2" height="1" fill="#984a88"/><rect x="13" y="18" width="1" height="1" fill="#964886"/><rect x="14" y="18" width="2" height="1" fill="#944684"/><rect x="16" y="18" width="1" height="1" fill="#8c4282"/><rect x="17" y="18" width="1" height="1" fill="#984886"/><rect x="18" y="18" width="1" height="1" fill="#a44e84"/><rect x="19" y="18" width="1" height="1" fill="#a4508a"/><rect x="20" y="18" width="2" height="1" fill="#a6528a"/><rect x="22" y="18" width="1" height="1" fill="#9c4c88"/><rect x="23" y="18" width="1" height="1" fill="#944684"/><rect x="24" y="18" width="1" height="1" fill="#9a4a88"/><rect x="25" y="18" width="1" height="1" fill="#a05084"/><rect x="26" y="18" width="1" height="1" fill="#a05088"/><rect x="27" y="18" width="1" height="1" fill="#924684"/><rect x="28" y="18" width="3" height="1" fill="#883e7e"/><rect x="31" y="18" width="1" height="1" fill="#8a4080"/><rect x="32" y="18" width="2" height="1" fill="#863e7c"/><rect x="34" y="18" width="1" height="1" fill="#843c7c"/><rect x="35" y="18" width="2" height="1" fill="#8c4282"/><rect x="37" y="18" width="1" height="1" fill="#904484"/><rect x="38" y="18" width="1" height="1" fill="#984a88"/><rect x="39" y="18" width="2" height="1" fill="#984886"/><rect x="41" y="18" width="1" height="1" fill="#944684"/><rect x="42" y="18" width="1" height="1" fill="#9a4a88"/><rect x="43" y="18" width="1" height="1" fill="#a65488"/><rect x="44" y="18" width="2" height="1" fill="#ac5a8e"/><rect x="46" y="18" width="1" height="1" fill="#a2508a"/><rect x="47" y="18" width="1" height="1" fill="#a0508a"/><rect x="48" y="18" width="1" height="1" fill="#9e4e88"/><rect x="49" y="18" width="2" height="1" fill="#9c4c88"/><rect x="51" y="18" width="1" height="1" fill="#964886"/><rect x="52" y="18" width="1" height="1" fill="#904484"/><rect x="53" y="18" width="1" height="1" fill="#8e4282"/><rect x="54" y="18" width="1" height="1" fill="#843c7c"/><rect x="55" y="18" width="1" height="1" fill="#803a7c"/><rect x="56" y="18" width="1" height="1" fill="#863e7e"/><rect x="57" y="18" width="2" height="1" fill="#8a4080"/><rect x="59" y="18" width="1" height="1" fill="#883e7e"/><rect x="60" y="18" width="1" height="1" fill="#863e7e"/><rect x="61" y="18" width="3" height="1" fill="#823c7c"/><rect x="64" y="18" width="1" height="1" fill="#823a7a"/><rect x="0" y="19" width="3" height="1" fill="#ac5a8c"/><rect x="3" y="19" width="1" height="1" fill="#aa588e"/><rect x="4" y="19" width="1" height="1" fill="#ac5a8c"/><rect x="5" y="19" width="1" height="1" fill="#aa5890"/><rect x="6" y="19" width="1" height="1" fill="#a45490"/><rect x="7" y="19" width="1" height="1" fill="#aa5892"/><rect x="8" y="19" width="1" height="1" fill="#b05c90"/><rect x="9" y="19" width="1" height="1" fill="#ae5a8e"/><rect x="10" y="19" width="2" height="1" fill="#aa5890"/><rect x="12" y="19" width="1" height="1" fill="#a85890"/><rect x="13" y="19" width="1" height="1" fill="#9e4c88"/><rect x="14" y="19" width="1" height="1" fill="#9c4c88"/><rect x="15" y="19" width="1" height="1" fill="#984886"/><rect x="16" y="19" width="1" height="1" fill="#944684"/><rect x="17" y="19" width="1" height="1" fill="#9a4a88"/><rect x="18" y="19" width="4" height="1" fill="#a4508a"/><rect x="22" y="19" width="1" height="1" fill="#9c4c88"/><rect x="23" y="19" width="1" height="1" fill="#984c8c"/><rect x="24" y="19" width="1" height="1" fill="#9e4e8a"/><rect x="25" y="19" width="1" height="1" fill="#a05084"/><rect x="26" y="19" width="1" height="1" fill="#9a4c86"/><rect x="27" y="19" width="1" height="1" fill="#904484"/><rect x="28" y="19" width="1" height="1" fill="#8e4282"/><rect x="29" y="19" width="1" height="1" fill="#8c4282"/><rect x="30" y="19" width="3" height="1" fill="#8a4080"/><rect x="33" y="19" width="1" height="1" fill="#883e7e"/><rect x="34" y="19" width="1" height="1" fill="#863e7c"/><rect x="35" y="19" width="1" height="1" fill="#8a4080"/><rect x="36" y="19" width="1" height="1" fill="#8e4282"/><rect x="37" y="19" width="1" height="1" fill="#904484"/><rect x="38" y="19" width="1" height="1" fill="#944684"/><rect x="39" y="19" width="1" height="1" fill="#8c4282"/><rect x="40" y="19" width="1" height="1" fill="#8e4282"/><rect x="41" y="19" width="1" height="1" fill="#904484"/><rect x="42" y="19" width="1" height="1" fill="#984886"/><rect x="43" y="19" width="3" height="1" fill="#9a4a88"/><rect x="46" y="19" width="1" height="1" fill="#924684"/><rect x="47" y="19" width="3" height="1" fill="#904484"/><rect x="50" y="19" width="1" height="1" fill="#8e4282"/><rect x="51" y="19" width="1" height="1" fill="#8c4282"/><rect x="52" y="19" width="3" height="1" fill="#8a4080"/><rect x="55" y="19" width="1" height="1" fill="#883e7e"/><rect x="56" y="19" width="4" height="1" fill="#8a4080"/><rect x="60" y="19" width="1" height="1" fill="#863e7e"/><rect x="61" y="19" width="2" height="1" fill="#823c7c"/><rect x="63" y="19" width="1" height="1" fill="#843c7c"/><rect x="64" y="19" width="1" height="1" fill="#823a7a"/><rect x="0" y="20" width="65" height="1" fill="#bc6498"/></svg><div class="ed" style="left:15.2px;top:501.0px;width:1155.5px;height:372.8px;border-color:rgba(60,60,60,0.3)"></div><svg class="im" style="left:15.2px;top:949.0px;width:1155.5px;height:372.6px" viewBox="0 0 65 21" preserveAspectRatio="none" shape-rendering="crispEdges"><rect x="0" y="0" width="1" height="1" fill="#c02c58"/><rect x="1" y="0" width="1" height="1" fill="#c43c68"/><rect x="2" y="0" width="1" height="1" fill="#c84870"/><rect x="3" y="0" width="1" height="1" fill="#c04c90"/><rect x="4" y="0" width="1" height="1" fill="#5a0aa8"/><rect x="5" y="0" width="1" height="1" fill="#6a14a0"/><rect x="6" y="0" width="2" height="1" fill="#701aa0"/><rect x="8" y="0" width="1" height="1" fill="#7018a0"/><rect x="9" y="0" width="1" height="1" fill="#6e18a0"/><rect x="10" y="0" width="1" height="1" fill="#6c16a0"/><rect x="11" y="0" width="1" height="1" fill="#701ca0"/><rect x="12" y="0" width="1" height="1" fill="#7620a0"/><rect x="13" y="0" width="2" height="1" fill="#7820a0"/><rect x="15" y="0" width="1" height="1" fill="#701aa0"/><rect x="16" y="0" width="2" height="1" fill="#741ca0"/><rect x="18" y="0" width="1" height="1" fill="#6a14a0"/><rect x="19" y="0" width="1" height="1" fill="#701aa0"/><rect x="20" y="0" width="1" height="1" fill="#741ca0"/><rect x="21" y="0" width="10" height="1" fill="#7820a0"/><rect x="31" y="0" width="1" height="1" fill="#741ca0"/><rect x="32" y="0" width="1" height="1" fill="#6e18a0"/><rect x="33" y="0" width="5" height="1" fill="#7820a0"/><rect x="38" y="0" width="2" height="1" fill="#8030a0"/><rect x="40" y="0" width="2" height="1" fill="#7c28a0"/><rect x="42" y="0" width="1" height="1" fill="#8028a0"/><rect x="43" y="0" width="1" height="1" fill="#802ca0"/><rect x="44" y="0" width="1" height="1" fill="#8028a0"/><rect x="45" y="0" width="2" height="1" fill="#802ca0"/><rect x="47" y="0" width="3" height="1" fill="#8028a0"/><rect x="50" y="0" width="2" height="1" fill="#7c24a0"/><rect x="52" y="0" width="1" height="1" fill="#8028a0"/><rect x="53" y="0" width="1" height="1" fill="#7c24a0"/><rect x="54" y="0" width="2" height="1" fill="#7820a0"/><rect x="56" y="0" width="4" height="1" fill="#7c24a0"/><rect x="60" y="0" width="3" height="1" fill="#7820a0"/><rect x="63" y="0" width="1" height="1" fill="#7620a0"/><rect x="64" y="0" width="1" height="1" fill="#8028a0"/><rect x="0" y="1" width="1" height="1" fill="#c02c58"/><rect x="1" y="1" width="1" height="1" fill="#c43c66"/><rect x="2" y="1" width="1" height="1" fill="#c84c72"/><rect x="3" y="1" width="1" height="1" fill="#a04ca8"/><rect x="4" y="1" width="1" height="1" fill="#5808a8"/><rect x="5" y="1" width="1" height="1" fill="#6814a0"/><rect x="6" y="1" width="2" height="1" fill="#6e18a0"/><rect x="8" y="1" width="3" height="1" fill="#6c16a0"/><rect x="11" y="1" width="1" height="1" fill="#6e18a0"/><rect x="12" y="1" width="1" height="1" fill="#7420a0"/><rect x="13" y="1" width="1" height="1" fill="#7820a0"/><rect x="14" y="1" width="1" height="1" fill="#741ca0"/><rect x="15" y="1" width="1" height="1" fill="#701aa0"/><rect x="16" y="1" width="2" height="1" fill="#741ca0"/><rect x="18" y="1" width="1" height="1" fill="#6a14a0"/><rect x="19" y="1" width="1" height="1" fill="#701aa0"/><rect x="20" y="1" width="1" height="1" fill="#741ca0"/><rect x="21" y="1" width="5" height="1" fill="#7620a0"/><rect x="26" y="1" width="1" height="1" fill="#7820a0"/><rect x="27" y="1" width="1" height="1" fill="#741ca0"/><rect x="28" y="1" width="3" height="1" fill="#7820a0"/><rect x="31" y="1" width="1" height="1" fill="#741ca0"/><rect x="32" y="1" width="1" height="1" fill="#6e18a0"/><rect x="33" y="1" width="3" height="1" fill="#7820a0"/><rect x="36" y="1" width="2" height="1" fill="#7620a0"/><rect x="38" y="1" width="1" height="1" fill="#7e2ca0"/><rect x="39" y="1" width="1" height="1" fill="#8030a0"/><rect x="40" y="1" width="2" height="1" fill="#7824a0"/><rect x="42" y="1" width="2" height="1" fill="#7c28a0"/><rect x="44" y="1" width="1" height="1" fill="#8028a0"/><rect x="45" y="1" width="3" height="1" fill="#802ca0"/><rect x="48" y="1" width="2" height="1" fill="#7c28a0"/><rect x="50" y="1" width="2" height="1" fill="#7824a0"/><rect x="52" y="1" width="1" height="1" fill="#8028a0"/><rect x="53" y="1" width="3" height="1" fill="#7820a0"/><rect x="56" y="1" width="2" height="1" fill="#7c24a0"/><rect x="58" y="1" width="2" height="1" fill="#7820a0"/><rect x="60" y="1" width="3" height="1" fill="#741ca0"/><rect x="63" y="1" width="1" height="1" fill="#7620a0"/><rect x="64" y="1" width="1" height="1" fill="#7c24a0"/><rect x="0" y="2" width="1" height="1" fill="#c02c58"/><rect x="1" y="2" width="1" height="1" fill="#c43a60"/><rect x="2" y="2" width="1" height="1" fill="#c84468"/><rect x="3" y="2" width="1" height="1" fill="#cc5888"/><rect x="4" y="2" width="1" height="1" fill="#9438a8"/><rect x="5" y="2" width="1" height="1" fill="#8430a0"/><rect x="6" y="2" width="2" height="1" fill="#6a14a0"/><rect x="8" y="2" width="2" height="1" fill="#6a149e"/><rect x="10" y="2" width="1" height="1" fill="#6c16a0"/><rect x="11" y="2" width="1" height="1" fill="#6c18a0"/><rect x="12" y="2" width="1" height="1" fill="#7220a0"/><rect x="13" y="2" width="3" height="1" fill="#7620a0"/><rect x="16" y="2" width="2" height="1" fill="#741ca0"/><rect x="18" y="2" width="1" height="1" fill="#6a14a0"/><rect x="19" y="2" width="1" height="1" fill="#701aa0"/><rect x="20" y="2" width="1" height="1" fill="#741ca0"/><rect x="21" y="2" width="1" height="1" fill="#7620a0"/><rect x="22" y="2" width="2" height="1" fill="#741ca0"/><rect x="24" y="2" width="1" height="1" fill="#701aa0"/><rect x="25" y="2" width="1" height="1" fill="#741ca0"/><rect x="26" y="2" width="4" height="1" fill="#7620a0"/><rect x="30" y="2" width="1" height="1" fill="#7824a0"/><rect x="31" y="2" width="1" height="1" fill="#741ca0"/><rect x="32" y="2" width="3" height="1" fill="#6c16a0"/><rect x="35" y="2" width="3" height="1" fill="#741ca0"/><rect x="38" y="2" width="1" height="1" fill="#7620a0"/><rect x="39" y="2" width="1" height="1" fill="#7c28a0"/><rect x="40" y="2" width="3" height="1" fill="#7824a0"/><rect x="43" y="2" width="5" height="1" fill="#7c28a0"/><rect x="48" y="2" width="4" height="1" fill="#7824a0"/><rect x="52" y="2" width="1" height="1" fill="#7c28a0"/><rect x="53" y="2" width="3" height="1" fill="#7c24a0"/><rect x="56" y="2" width="2" height="1" fill="#7820a0"/><rect x="58" y="2" width="4" height="1" fill="#741ca0"/><rect x="62" y="2" width="3" height="1" fill="#7820a0"/><rect x="0" y="3" width="1" height="1" fill="#c02050"/><rect x="1" y="3" width="1" height="1" fill="#c02a58"/><rect x="2" y="3" width="1" height="1" fill="#c03460"/><rect x="3" y="3" width="1" height="1" fill="#c84870"/><rect x="4" y="3" width="1" height="1" fill="#cc5888"/><rect x="5" y="3" width="1" height="1" fill="#9c48a8"/><rect x="6" y="3" width="1" height="1" fill="#6a14a0"/><rect x="7" y="3" width="1" height="1" fill="#6812a0"/><rect x="8" y="3" width="1" height="1" fill="#66129e"/><rect x="9" y="3" width="1" height="1" fill="#66109e"/><rect x="10" y="3" width="1" height="1" fill="#6812a0"/><rect x="11" y="3" width="1" height="1" fill="#6814a0"/><rect x="12" y="3" width="1" height="1" fill="#6c18a0"/><rect x="13" y="3" width="1" height="1" fill="#701aa0"/><rect x="14" y="3" width="3" height="1" fill="#7824a0"/><rect x="17" y="3" width="1" height="1" fill="#7620a0"/><rect x="18" y="3" width="1" height="1" fill="#701aa0"/><rect x="19" y="3" width="2" height="1" fill="#741ca0"/><rect x="21" y="3" width="1" height="1" fill="#7620a0"/><rect x="22" y="3" width="4" height="1" fill="#741ca0"/><rect x="26" y="3" width="1" height="1" fill="#7420a0"/><rect x="27" y="3" width="3" height="1" fill="#741ca0"/><rect x="30" y="3" width="1" height="1" fill="#7620a0"/><rect x="31" y="3" width="1" height="1" fill="#741ca0"/><rect x="32" y="3" width="2" height="1" fill="#6c16a0"/><rect x="34" y="3" width="1" height="1" fill="#6612a0"/><rect x="35" y="3" width="1" height="1" fill="#741ca0"/><rect x="36" y="3" width="1" height="1" fill="#7824a0"/><rect x="37" y="3" width="1" height="1" fill="#741ca0"/><rect x="38" y="3" width="1" height="1" fill="#7620a0"/><rect x="39" y="3" width="3" height="1" fill="#741ca0"/><rect x="42" y="3" width="1" height="1" fill="#7620a0"/><rect x="43" y="3" width="3" height="1" fill="#7824a0"/><rect x="46" y="3" width="2" height="1" fill="#741ca0"/><rect x="48" y="3" width="4" height="1" fill="#7620a0"/><rect x="52" y="3" width="3" height="1" fill="#7c28a0"/><rect x="55" y="3" width="2" height="1" fill="#7820a0"/><rect x="57" y="3" width="1" height="1" fill="#7620a0"/><rect x="58" y="3" width="1" height="1" fill="#6c16a0"/><rect x="59" y="3" width="4" height="1" fill="#7420a0"/><rect x="63" y="3" width="2" height="1" fill="#7620a0"/><rect x="0" y="4" width="1" height="1" fill="#c02050"/><rect x="1" y="4" width="1" height="1" fill="#c02858"/><rect x="2" y="4" width="1" height="1" fill="#c02c5a"/><rect x="3" y="4" width="1" height="1" fill="#c44068"/><rect x="4" y="4" width="1" height="1" fill="#c84c74"/><rect x="5" y="4" width="1" height="1" fill="#cc5888"/><rect x="6" y="4" width="1" height="1" fill="#9040a0"/><rect x="7" y="4" width="1" height="1" fill="#8430a0"/><rect x="8" y="4" width="1" height="1" fill="#7018a0"/><rect x="9" y="4" width="4" height="1" fill="#6c16a0"/><rect x="13" y="4" width="1" height="1" fill="#741ca0"/><rect x="14" y="4" width="3" height="1" fill="#7620a0"/><rect x="17" y="4" width="1" height="1" fill="#741ca0"/><rect x="18" y="4" width="3" height="1" fill="#701aa0"/><rect x="21" y="4" width="5" height="1" fill="#741ca0"/><rect x="26" y="4" width="4" height="1" fill="#701aa0"/><rect x="30" y="4" width="1" height="1" fill="#741ca0"/><rect x="31" y="4" width="1" height="1" fill="#6e18a0"/><rect x="32" y="4" width="2" height="1" fill="#6c16a0"/><rect x="34" y="4" width="1" height="1" fill="#6612a0"/><rect x="35" y="4" width="1" height="1" fill="#741ca0"/><rect x="36" y="4" width="1" height="1" fill="#7620a0"/><rect x="37" y="4" width="4" height="1" fill="#741ca0"/><rect x="41" y="4" width="2" height="1" fill="#7620a0"/><rect x="43" y="4" width="1" height="1" fill="#7c28a0"/><rect x="44" y="4" width="1" height="1" fill="#741ca0"/><rect x="45" y="4" width="2" height="1" fill="#7620a0"/><rect x="47" y="4" width="1" height="1" fill="#7824a0"/><rect x="48" y="4" width="3" height="1" fill="#741ca0"/><rect x="51" y="4" width="2" height="1" fill="#7620a0"/><rect x="53" y="4" width="1" height="1" fill="#7820a0"/><rect x="54" y="4" width="2" height="1" fill="#7c28a0"/><rect x="56" y="4" width="1" height="1" fill="#7820a0"/><rect x="57" y="4" width="1" height="1" fill="#7620a0"/><rect x="58" y="4" width="1" height="1" fill="#6c16a0"/><rect x="59" y="4" width="1" height="1" fill="#7620a0"/><rect x="60" y="4" width="3" height="1" fill="#7824a0"/><rect x="63" y="4" width="2" height="1" fill="#7620a0"/><rect x="0" y="5" width="1" height="1" fill="#c01e50"/><rect x="1" y="5" width="1" height="1" fill="#c02050"/><rect x="2" y="5" width="1" height="1" fill="#c02454"/><rect x="3" y="5" width="1" height="1" fill="#c02c5a"/><rect x="4" y="5" width="1" height="1" fill="#c4385e"/><rect x="5" y="5" width="1" height="1" fill="#cc5078"/><rect x="6" y="5" width="1" height="1" fill="#c05888"/><rect x="7" y="5" width="1" height="1" fill="#9848a0"/><rect x="8" y="5" width="1" height="1" fill="#7a24a0"/><rect x="9" y="5" width="1" height="1" fill="#7420a0"/><rect x="10" y="5" width="1" height="1" fill="#6c16a0"/><rect x="11" y="5" width="1" height="1" fill="#6a14a0"/><rect x="12" y="5" width="1" height="1" fill="#6c16a0"/><rect x="13" y="5" width="2" height="1" fill="#741ca0"/><rect x="15" y="5" width="7" height="1" fill="#701aa0"/><rect x="22" y="5" width="1" height="1" fill="#741ca0"/><rect x="23" y="5" width="3" height="1" fill="#7620a0"/><rect x="26" y="5" width="5" height="1" fill="#701aa0"/><rect x="31" y="5" width="1" height="1" fill="#6e18a0"/><rect x="32" y="5" width="2" height="1" fill="#6a14a0"/><rect x="34" y="5" width="1" height="1" fill="#6812a0"/><rect x="35" y="5" width="2" height="1" fill="#6a14a0"/><rect x="37" y="5" width="2" height="1" fill="#6c16a0"/><rect x="39" y="5" width="2" height="1" fill="#741ca0"/><rect x="41" y="5" width="1" height="1" fill="#7620a0"/><rect x="42" y="5" width="1" height="1" fill="#7824a0"/><rect x="43" y="5" width="1" height="1" fill="#7620a0"/><rect x="44" y="5" width="2" height="1" fill="#701aa0"/><rect x="46" y="5" width="4" height="1" fill="#741ca0"/><rect x="50" y="5" width="2" height="1" fill="#701aa0"/><rect x="52" y="5" width="1" height="1" fill="#741ca0"/><rect x="53" y="5" width="1" height="1" fill="#7620a0"/><rect x="54" y="5" width="2" height="1" fill="#7c28a0"/><rect x="56" y="5" width="1" height="1" fill="#7620a0"/><rect x="57" y="5" width="2" height="1" fill="#741ca0"/><rect x="59" y="5" width="1" height="1" fill="#7620a0"/><rect x="60" y="5" width="3" height="1" fill="#7c28a0"/><rect x="63" y="5" width="1" height="1" fill="#7620a0"/><rect x="64" y="5" width="1" height="1" fill="#741ca0"/><rect x="0" y="6" width="1" height="1" fill="#c02050"/><rect x="1" y="6" width="1" height="1" fill="#c01c50"/><rect x="2" y="6" width="1" height="1" fill="#c01c4e"/><rect x="3" y="6" width="1" height="1" fill="#c02050"/><rect x="4" y="6" width="1" height="1" fill="#c02656"/><rect x="5" y="6" width="1" height="1" fill="#c4385e"/><rect x="6" y="6" width="1" height="1" fill="#cc5078"/><rect x="7" y="6" width="1" height="1" fill="#d05480"/><rect x="8" y="6" width="1" height="1" fill="#cc5884"/><rect x="9" y="6" width="1" height="1" fill="#cc5888"/><rect x="10" y="6" width="1" height="1" fill="#9a48a0"/><rect x="11" y="6" width="1" height="1" fill="#8c3ca0"/><rect x="12" y="6" width="2" height="1" fill="#8030a0"/><rect x="14" y="6" width="1" height="1" fill="#7620a0"/><rect x="15" y="6" width="2" height="1" fill="#7c28a0"/><rect x="17" y="6" width="3" height="1" fill="#7c2aa0"/><rect x="20" y="6" width="1" height="1" fill="#7c28a0"/><rect x="21" y="6" width="1" height="1" fill="#7820a0"/><rect x="22" y="6" width="4" height="1" fill="#7620a0"/><rect x="26" y="6" width="1" height="1" fill="#741ca0"/><rect x="27" y="6" width="1" height="1" fill="#701aa0"/><rect x="28" y="6" width="2" height="1" fill="#6c16a0"/><rect x="30" y="6" width="2" height="1" fill="#7620a0"/><rect x="32" y="6" width="2" height="1" fill="#741ca0"/><rect x="34" y="6" width="2" height="1" fill="#6c16a0"/><rect x="36" y="6" width="3" height="1" fill="#6612a0"/><rect x="39" y="6" width="1" height="1" fill="#6a14a0"/><rect x="40" y="6" width="1" height="1" fill="#6e18a0"/><rect x="41" y="6" width="1" height="1" fill="#8030a0"/><rect x="42" y="6" width="2" height="1" fill="#8434a0"/><rect x="44" y="6" width="1" height="1" fill="#8838a0"/><rect x="45" y="6" width="1" height="1" fill="#8030a0"/><rect x="46" y="6" width="2" height="1" fill="#7c28a0"/><rect x="48" y="6" width="1" height="1" fill="#7620a0"/><rect x="49" y="6" width="3" height="1" fill="#8030a0"/><rect x="52" y="6" width="1" height="1" fill="#7820a0"/><rect x="53" y="6" width="2" height="1" fill="#7824a0"/><rect x="55" y="6" width="1" height="1" fill="#7820a0"/><rect x="56" y="6" width="1" height="1" fill="#741ca0"/><rect x="57" y="6" width="1" height="1" fill="#6c16a0"/><rect x="58" y="6" width="1" height="1" fill="#6e18a0"/><rect x="59" y="6" width="1" height="1" fill="#7620a0"/><rect x="60" y="6" width="3" height="1" fill="#7c28a0"/><rect x="63" y="6" width="1" height="1" fill="#7620a0"/><rect x="64" y="6" width="1" height="1" fill="#741ca0"/><rect x="0" y="7" width="2" height="1" fill="#c02050"/><rect x="2" y="7" width="1" height="1" fill="#bc1c4a"/><rect x="3" y="7" width="1" height="1" fill="#bc1c4c"/><rect x="4" y="7" width="1" height="1" fill="#c02050"/><rect x="5" y="7" width="1" height="1" fill="#c42858"/><rect x="6" y="7" width="1" height="1" fill="#c43460"/><rect x="7" y="7" width="1" height="1" fill="#c43868"/><rect x="8" y="7" width="1" height="1" fill="#c84068"/><rect x="9" y="7" width="1" height="1" fill="#cc5888"/><rect x="10" y="7" width="1" height="1" fill="#c8588c"/><rect x="11" y="7" width="1" height="1" fill="#a050a0"/><rect x="12" y="7" width="1" height="1" fill="#8a3aa0"/><rect x="13" y="7" width="1" height="1" fill="#8434a0"/><rect x="14" y="7" width="1" height="1" fill="#7620a0"/><rect x="15" y="7" width="2" height="1" fill="#7c28a0"/><rect x="17" y="7" width="4" height="1" fill="#802ca0"/><rect x="21" y="7" width="1" height="1" fill="#8030a0"/><rect x="22" y="7" width="1" height="1" fill="#7c28a0"/><rect x="23" y="7" width="3" height="1" fill="#7620a0"/><rect x="26" y="7" width="2" height="1" fill="#701aa0"/><rect x="28" y="7" width="1" height="1" fill="#6610a0"/><rect x="29" y="7" width="1" height="1" fill="#6c16a0"/><rect x="30" y="7" width="2" height="1" fill="#7620a0"/><rect x="32" y="7" width="2" height="1" fill="#741ca0"/><rect x="34" y="7" width="1" height="1" fill="#701aa0"/><rect x="35" y="7" width="1" height="1" fill="#6c16a0"/><rect x="36" y="7" width="3" height="1" fill="#6610a0"/><rect x="39" y="7" width="1" height="1" fill="#6a14a0"/><rect x="40" y="7" width="1" height="1" fill="#6e18a0"/><rect x="41" y="7" width="1" height="1" fill="#8030a0"/><rect x="42" y="7" width="2" height="1" fill="#8c3ca0"/><rect x="44" y="7" width="1" height="1" fill="#9040a0"/><rect x="45" y="7" width="1" height="1" fill="#8838a0"/><rect x="46" y="7" width="2" height="1" fill="#7c28a0"/><rect x="48" y="7" width="1" height="1" fill="#7824a0"/><rect x="49" y="7" width="1" height="1" fill="#8434a0"/><rect x="50" y="7" width="2" height="1" fill="#8838a0"/><rect x="52" y="7" width="1" height="1" fill="#8030a0"/><rect x="53" y="7" width="3" height="1" fill="#7620a0"/><rect x="56" y="7" width="1" height="1" fill="#741ca0"/><rect x="57" y="7" width="2" height="1" fill="#6812a0"/><rect x="59" y="7" width="1" height="1" fill="#7620a0"/><rect x="60" y="7" width="2" height="1" fill="#7c28a0"/><rect x="62" y="7" width="1" height="1" fill="#7824a0"/><rect x="63" y="7" width="1" height="1" fill="#741ca0"/><rect x="64" y="7" width="1" height="1" fill="#6c16a0"/><rect x="0" y="8" width="1" height="1" fill="#c02454"/><rect x="1" y="8" width="1" height="1" fill="#c02252"/><rect x="2" y="8" width="4" height="1" fill="#c02050"/><rect x="6" y="8" width="1" height="1" fill="#c02454"/><rect x="7" y="8" width="2" height="1" fill="#c42c5a"/><rect x="9" y="8" width="1" height="1" fill="#c43460"/><rect x="10" y="8" width="1" height="1" fill="#c84470"/><rect x="11" y="8" width="1" height="1" fill="#c85080"/><rect x="12" y="8" width="1" height="1" fill="#cc5888"/><rect x="13" y="8" width="7" height="1" fill="#c46090"/><rect x="20" y="8" width="1" height="1" fill="#b85c94"/><rect x="21" y="8" width="1" height="1" fill="#b05898"/><rect x="22" y="8" width="4" height="1" fill="#a850a0"/><rect x="26" y="8" width="7" height="1" fill="#a048a0"/><rect x="33" y="8" width="1" height="1" fill="#a850a0"/><rect x="34" y="8" width="1" height="1" fill="#b054a0"/><rect x="35" y="8" width="2" height="1" fill="#a048a0"/><rect x="37" y="8" width="2" height="1" fill="#9444a0"/><rect x="39" y="8" width="2" height="1" fill="#8434a0"/><rect x="41" y="8" width="1" height="1" fill="#9444a0"/><rect x="42" y="8" width="1" height="1" fill="#a454a0"/><rect x="43" y="8" width="1" height="1" fill="#a8589c"/><rect x="44" y="8" width="1" height="1" fill="#b8609c"/><rect x="45" y="8" width="1" height="1" fill="#ac589c"/><rect x="46" y="8" width="2" height="1" fill="#a8589c"/><rect x="48" y="8" width="1" height="1" fill="#a050a0"/><rect x="49" y="8" width="3" height="1" fill="#a8589c"/><rect x="52" y="8" width="1" height="1" fill="#b05ca0"/><rect x="53" y="8" width="1" height="1" fill="#a450a0"/><rect x="54" y="8" width="1" height="1" fill="#8434a0"/><rect x="55" y="8" width="1" height="1" fill="#7c28a0"/><rect x="56" y="8" width="1" height="1" fill="#741ca0"/><rect x="57" y="8" width="2" height="1" fill="#6812a0"/><rect x="59" y="8" width="4" height="1" fill="#7620a0"/><rect x="63" y="8" width="1" height="1" fill="#8c3ca0"/><rect x="64" y="8" width="1" height="1" fill="#9848a0"/><rect x="0" y="9" width="1" height="1" fill="#c02858"/><rect x="1" y="9" width="1" height="1" fill="#c02454"/><rect x="2" y="9" width="1" height="1" fill="#c02252"/><rect x="3" y="9" width="3" height="1" fill="#c02050"/><rect x="6" y="9" width="1" height="1" fill="#c0204e"/><rect x="7" y="9" width="1" height="1" fill="#c01c4c"/><rect x="8" y="9" width="1" height="1" fill="#c0204e"/><rect x="9" y="9" width="1" height="1" fill="#c02656"/><rect x="10" y="9" width="1" height="1" fill="#c43060"/><rect x="11" y="9" width="1" height="1" fill="#c43862"/><rect x="12" y="9" width="1" height="1" fill="#c44068"/><rect x="13" y="9" width="1" height="1" fill="#c04878"/><rect x="14" y="9" width="2" height="1" fill="#c04474"/><rect x="16" y="9" width="3" height="1" fill="#bc4474"/><rect x="19" y="9" width="2" height="1" fill="#c04c7c"/><rect x="21" y="9" width="1" height="1" fill="#c05c90"/><rect x="22" y="9" width="1" height="1" fill="#b85a9c"/><rect x="23" y="9" width="1" height="1" fill="#b0589c"/><rect x="24" y="9" width="2" height="1" fill="#a04aa0"/><rect x="26" y="9" width="7" height="1" fill="#b0589c"/><rect x="33" y="9" width="1" height="1" fill="#c06090"/><rect x="34" y="9" width="1" height="1" fill="#cc5880"/><rect x="35" y="9" width="1" height="1" fill="#bc6094"/><rect x="36" y="9" width="1" height="1" fill="#b8589c"/><rect x="37" y="9" width="1" height="1" fill="#b05aa0"/><rect x="38" y="9" width="1" height="1" fill="#9040a0"/><rect x="39" y="9" width="1" height="1" fill="#9444a0"/><rect x="40" y="9" width="1" height="1" fill="#9040a0"/><rect x="41" y="9" width="1" height="1" fill="#a050a0"/><rect x="42" y="9" width="1" height="1" fill="#b0609c"/><rect x="43" y="9" width="1" height="1" fill="#bc6494"/><rect x="44" y="9" width="1" height="1" fill="#c04c80"/><rect x="45" y="9" width="1" height="1" fill="#c05888"/><rect x="46" y="9" width="1" height="1" fill="#c45c8c"/><rect x="47" y="9" width="3" height="1" fill="#c8608c"/><rect x="50" y="9" width="1" height="1" fill="#c45c8c"/><rect x="51" y="9" width="1" height="1" fill="#c8608c"/><rect x="52" y="9" width="1" height="1" fill="#c4609c"/><rect x="53" y="9" width="1" height="1" fill="#b058a0"/><rect x="54" y="9" width="1" height="1" fill="#9444a0"/><rect x="55" y="9" width="1" height="1" fill="#8030a0"/><rect x="56" y="9" width="1" height="1" fill="#6a14a0"/><rect x="57" y="9" width="2" height="1" fill="#6610a0"/><rect x="59" y="9" width="2" height="1" fill="#6c16a0"/><rect x="61" y="9" width="2" height="1" fill="#7018a0"/><rect x="63" y="9" width="1" height="1" fill="#9444a0"/><rect x="64" y="9" width="1" height="1" fill="#9c4ca0"/><rect x="0" y="10" width="7" height="1" fill="#bc2452"/><rect x="7" y="10" width="1" height="1" fill="#bc2050"/><rect x="8" y="10" width="4" height="1" fill="#bc1c4c"/><rect x="12" y="10" width="1" height="1" fill="#bc2452"/><rect x="13" y="10" width="1" height="1" fill="#bc3060"/><rect x="14" y="10" width="4" height="1" fill="#bc3c6c"/><rect x="18" y="10" width="3" height="1" fill="#bc4070"/><rect x="21" y="10" width="1" height="1" fill="#bc3c6c"/><rect x="22" y="10" width="1" height="1" fill="#bc4070"/><rect x="23" y="10" width="3" height="1" fill="#bc4474"/><rect x="26" y="10" width="5" height="1" fill="#c04c7c"/><rect x="31" y="10" width="1" height="1" fill="#c05080"/><rect x="32" y="10" width="1" height="1" fill="#c05484"/><rect x="33" y="10" width="1" height="1" fill="#c05888"/><rect x="34" y="10" width="2" height="1" fill="#c04474"/><rect x="36" y="10" width="2" height="1" fill="#c05888"/><rect x="38" y="10" width="1" height="1" fill="#c05c8c"/><rect x="39" y="10" width="1" height="1" fill="#c0609c"/><rect x="40" y="10" width="1" height="1" fill="#c060a0"/><rect x="41" y="10" width="2" height="1" fill="#c0609c"/><rect x="43" y="10" width="1" height="1" fill="#c05c8c"/><rect x="44" y="10" width="2" height="1" fill="#c05484"/><rect x="46" y="10" width="2" height="1" fill="#c05080"/><rect x="48" y="10" width="1" height="1" fill="#c04c7c"/><rect x="49" y="10" width="3" height="1" fill="#c04474"/><rect x="52" y="10" width="1" height="1" fill="#c04c7c"/><rect x="53" y="10" width="2" height="1" fill="#c0609c"/><rect x="55" y="10" width="1" height="1" fill="#a850a0"/><rect x="56" y="10" width="1" height="1" fill="#8c3ca0"/><rect x="57" y="10" width="2" height="1" fill="#8434a0"/><rect x="59" y="10" width="1" height="1" fill="#9040a0"/><rect x="60" y="10" width="1" height="1" fill="#9444a0"/><rect x="61" y="10" width="1" height="1" fill="#a050a0"/><rect x="62" y="10" width="1" height="1" fill="#b85ca0"/><rect x="63" y="10" width="1" height="1" fill="#c0609c"/><rect x="64" y="10" width="1" height="1" fill="#c05890"/><rect x="0" y="11" width="3" height="1" fill="#bc2452"/><rect x="3" y="11" width="1" height="1" fill="#bc2656"/><rect x="4" y="11" width="1" height="1" fill="#bc2858"/><rect x="5" y="11" width="1" height="1" fill="#bc2452"/><rect x="6" y="11" width="1" height="1" fill="#bc2050"/><rect x="7" y="11" width="2" height="1" fill="#bc1c4c"/><rect x="9" y="11" width="1" height="1" fill="#bc1846"/><rect x="10" y="11" width="1" height="1" fill="#bc0c3c"/><rect x="11" y="11" width="1" height="1" fill="#bc103e"/><rect x="12" y="11" width="1" height="1" fill="#bc1040"/><rect x="13" y="11" width="1" height="1" fill="#bc1444"/><rect x="14" y="11" width="4" height="1" fill="#bc2858"/><rect x="18" y="11" width="1" height="1" fill="#bc3464"/><rect x="19" y="11" width="1" height="1" fill="#bc3060"/><rect x="20" y="11" width="5" height="1" fill="#bc2656"/><rect x="25" y="11" width="1" height="1" fill="#bc2858"/><rect x="26" y="11" width="5" height="1" fill="#bc2c5c"/><rect x="31" y="11" width="3" height="1" fill="#bc3464"/><rect x="34" y="11" width="4" height="1" fill="#bc3060"/><rect x="38" y="11" width="1" height="1" fill="#bc3464"/><rect x="39" y="11" width="2" height="1" fill="#c04474"/><rect x="41" y="11" width="1" height="1" fill="#c04c7c"/><rect x="42" y="11" width="1" height="1" fill="#c05080"/><rect x="43" y="11" width="2" height="1" fill="#c05484"/><rect x="45" y="11" width="2" height="1" fill="#c04070"/><rect x="47" y="11" width="1" height="1" fill="#c03464"/><rect x="48" y="11" width="3" height="1" fill="#bc3060"/><rect x="51" y="11" width="2" height="1" fill="#bc2c5c"/><rect x="53" y="11" width="1" height="1" fill="#c04c7c"/><rect x="54" y="11" width="7" height="1" fill="#c0609c"/><rect x="61" y="11" width="1" height="1" fill="#c05c98"/><rect x="62" y="11" width="1" height="1" fill="#c05890"/><rect x="63" y="11" width="1" height="1" fill="#bc4070"/><rect x="64" y="11" width="1" height="1" fill="#c04070"/><rect x="0" y="12" width="4" height="1" fill="#bc2452"/><rect x="4" y="12" width="1" height="1" fill="#bc2656"/><rect x="5" y="12" width="1" height="1" fill="#bc2452"/><rect x="6" y="12" width="1" height="1" fill="#bc2050"/><rect x="7" y="12" width="1" height="1" fill="#bc1c4c"/><rect x="8" y="12" width="1" height="1" fill="#bc1a4a"/><rect x="9" y="12" width="1" height="1" fill="#bc1846"/><rect x="10" y="12" width="2" height="1" fill="#bc1444"/><rect x="12" y="12" width="1" height="1" fill="#bc1848"/><rect x="13" y="12" width="1" height="1" fill="#bc1444"/><rect x="14" y="12" width="3" height="1" fill="#bc2656"/><rect x="17" y="12" width="1" height="1" fill="#bc2858"/><rect x="18" y="12" width="1" height="1" fill="#bc3060"/><rect x="19" y="12" width="1" height="1" fill="#bc2c5c"/><rect x="20" y="12" width="4" height="1" fill="#bc2452"/><rect x="24" y="12" width="2" height="1" fill="#bc2656"/><rect x="26" y="12" width="2" height="1" fill="#bc2454"/><rect x="28" y="12" width="5" height="1" fill="#bc2656"/><rect x="33" y="12" width="1" height="1" fill="#bc2454"/><rect x="34" y="12" width="1" height="1" fill="#bc2050"/><rect x="35" y="12" width="2" height="1" fill="#bc1e4e"/><rect x="37" y="12" width="1" height="1" fill="#bc2050"/><rect x="38" y="12" width="1" height="1" fill="#bc2656"/><rect x="39" y="12" width="2" height="1" fill="#bc3060"/><rect x="41" y="12" width="1" height="1" fill="#bc3464"/><rect x="42" y="12" width="1" height="1" fill="#bc3868"/><rect x="43" y="12" width="1" height="1" fill="#bc3c6c"/><rect x="44" y="12" width="1" height="1" fill="#c04474"/><rect x="45" y="12" width="1" height="1" fill="#c04070"/><rect x="46" y="12" width="1" height="1" fill="#bc3464"/><rect x="47" y="12" width="1" height="1" fill="#bc3060"/><rect x="48" y="12" width="3" height="1" fill="#bc2c5c"/><rect x="51" y="12" width="1" height="1" fill="#bc2858"/><rect x="52" y="12" width="1" height="1" fill="#bc2454"/><rect x="53" y="12" width="1" height="1" fill="#c04070"/><rect x="54" y="12" width="3" height="1" fill="#c04474"/><rect x="57" y="12" width="1" height="1" fill="#c04c7c"/><rect x="58" y="12" width="1" height="1" fill="#c05080"/><rect x="59" y="12" width="1" height="1" fill="#c04c7c"/><rect x="60" y="12" width="2" height="1" fill="#c04474"/><rect x="62" y="12" width="3" height="1" fill="#bc3c6c"/><rect x="0" y="13" width="6" height="1" fill="#bc2452"/><rect x="6" y="13" width="2" height="1" fill="#bc2050"/><rect x="8" y="13" width="1" height="1" fill="#bc1c4c"/><rect x="9" y="13" width="1" height="1" fill="#bc1846"/><rect x="10" y="13" width="2" height="1" fill="#bc1444"/><rect x="12" y="13" width="1" height="1" fill="#bc1c4a"/><rect x="13" y="13" width="3" height="1" fill="#bc2452"/><rect x="16" y="13" width="2" height="1" fill="#bc2656"/><rect x="18" y="13" width="2" height="1" fill="#bc2858"/><rect x="20" y="13" width="1" height="1" fill="#bc2656"/><rect x="21" y="13" width="1" height="1" fill="#bc2858"/><rect x="22" y="13" width="1" height="1" fill="#bc2c5c"/><rect x="23" y="13" width="3" height="1" fill="#bc2452"/><rect x="26" y="13" width="1" height="1" fill="#bc1a4a"/><rect x="27" y="13" width="3" height="1" fill="#bc1846"/><rect x="30" y="13" width="3" height="1" fill="#bc1444"/><rect x="33" y="13" width="2" height="1" fill="#bc1040"/><rect x="35" y="13" width="3" height="1" fill="#bc1444"/><rect x="38" y="13" width="1" height="1" fill="#bc1846"/><rect x="39" y="13" width="2" height="1" fill="#bc1c4c"/><rect x="41" y="13" width="1" height="1" fill="#bc2050"/><rect x="42" y="13" width="1" height="1" fill="#bc2656"/><rect x="43" y="13" width="1" height="1" fill="#bc2c5c"/><rect x="44" y="13" width="3" height="1" fill="#bc3464"/><rect x="47" y="13" width="4" height="1" fill="#bc2c5c"/><rect x="51" y="13" width="1" height="1" fill="#bc2858"/><rect x="52" y="13" width="1" height="1" fill="#bc2454"/><rect x="53" y="13" width="4" height="1" fill="#bc2c5c"/><rect x="57" y="13" width="2" height="1" fill="#bc3868"/><rect x="59" y="13" width="2" height="1" fill="#bc3464"/><rect x="61" y="13" width="1" height="1" fill="#bc3060"/><rect x="62" y="13" width="3" height="1" fill="#bc2858"/><rect x="0" y="14" width="3" height="1" fill="#bc2050"/><rect x="3" y="14" width="3" height="1" fill="#bc1c4c"/><rect x="6" y="14" width="2" height="1" fill="#bc2050"/><rect x="8" y="14" width="1" height="1" fill="#bc1c4c"/><rect x="9" y="14" width="1" height="1" fill="#bc1444"/><rect x="10" y="14" width="2" height="1" fill="#bc1846"/><rect x="12" y="14" width="1" height="1" fill="#bc1c4c"/><rect x="13" y="14" width="2" height="1" fill="#bc2656"/><rect x="15" y="14" width="3" height="1" fill="#bc2858"/><rect x="18" y="14" width="1" height="1" fill="#bc2656"/><rect x="19" y="14" width="1" height="1" fill="#bc2050"/><rect x="20" y="14" width="5" height="1" fill="#bc1a4a"/><rect x="25" y="14" width="3" height="1" fill="#bc1c4c"/><rect x="28" y="14" width="1" height="1" fill="#bc1a4a"/><rect x="29" y="14" width="1" height="1" fill="#bc1846"/><rect x="30" y="14" width="2" height="1" fill="#bc1444"/><rect x="32" y="14" width="1" height="1" fill="#bc0c3c"/><rect x="33" y="14" width="1" height="1" fill="#bc083a"/><rect x="34" y="14" width="1" height="1" fill="#bc0c3c"/><rect x="35" y="14" width="2" height="1" fill="#bc1040"/><rect x="37" y="14" width="1" height="1" fill="#bc1444"/><rect x="38" y="14" width="1" height="1" fill="#bc1846"/><rect x="39" y="14" width="2" height="1" fill="#bc1a4a"/><rect x="41" y="14" width="5" height="1" fill="#bc2050"/><rect x="46" y="14" width="3" height="1" fill="#bc1c4c"/><rect x="49" y="14" width="2" height="1" fill="#bc1a4a"/><rect x="51" y="14" width="1" height="1" fill="#bc2050"/><rect x="52" y="14" width="1" height="1" fill="#bc2454"/><rect x="53" y="14" width="3" height="1" fill="#bc2858"/><rect x="56" y="14" width="5" height="1" fill="#bc2c5c"/><rect x="61" y="14" width="1" height="1" fill="#bc2858"/><rect x="62" y="14" width="3" height="1" fill="#bc2656"/><rect x="0" y="15" width="4" height="1" fill="#bc1c4c"/><rect x="4" y="15" width="1" height="1" fill="#bc1c4a"/><rect x="5" y="15" width="1" height="1" fill="#bc2050"/><rect x="6" y="15" width="2" height="1" fill="#bc2452"/><rect x="8" y="15" width="1" height="1" fill="#bc2050"/><rect x="9" y="15" width="1" height="1" fill="#bc1c4c"/><rect x="10" y="15" width="2" height="1" fill="#bc1846"/><rect x="12" y="15" width="1" height="1" fill="#bc1c4c"/><rect x="13" y="15" width="2" height="1" fill="#bc2656"/><rect x="15" y="15" width="3" height="1" fill="#bc2c5c"/><rect x="18" y="15" width="1" height="1" fill="#bc2656"/><rect x="19" y="15" width="1" height="1" fill="#bc2050"/><rect x="20" y="15" width="2" height="1" fill="#bc1846"/><rect x="22" y="15" width="3" height="1" fill="#bc1444"/><rect x="25" y="15" width="4" height="1" fill="#bc1846"/><rect x="29" y="15" width="2" height="1" fill="#bc1444"/><rect x="31" y="15" width="1" height="1" fill="#bc1040"/><rect x="32" y="15" width="1" height="1" fill="#bc0838"/><rect x="33" y="15" width="1" height="1" fill="#bc0434"/><rect x="34" y="15" width="1" height="1" fill="#bc0838"/><rect x="35" y="15" width="1" height="1" fill="#bc0c3c"/><rect x="36" y="15" width="1" height="1" fill="#bc1040"/><rect x="37" y="15" width="1" height="1" fill="#bc1444"/><rect x="38" y="15" width="1" height="1" fill="#bc1846"/><rect x="39" y="15" width="2" height="1" fill="#bc1a4a"/><rect x="41" y="15" width="1" height="1" fill="#bc1c4c"/><rect x="42" y="15" width="4" height="1" fill="#bc1846"/><rect x="46" y="15" width="2" height="1" fill="#bc1444"/><rect x="48" y="15" width="1" height="1" fill="#bc1846"/><rect x="49" y="15" width="2" height="1" fill="#bc1444"/><rect x="51" y="15" width="3" height="1" fill="#bc1c4c"/><rect x="54" y="15" width="1" height="1" fill="#bc2050"/><rect x="55" y="15" width="2" height="1" fill="#bc1c4c"/><rect x="57" y="15" width="1" height="1" fill="#bc1a4a"/><rect x="58" y="15" width="1" height="1" fill="#bc1444"/><rect x="59" y="15" width="2" height="1" fill="#bc1846"/><rect x="61" y="15" width="2" height="1" fill="#bc1c4c"/><rect x="63" y="15" width="1" height="1" fill="#bc2656"/><rect x="64" y="15" width="1" height="1" fill="#bc2c5c"/><rect x="0" y="16" width="1" height="1" fill="#bc1a4a"/><rect x="1" y="16" width="3" height="1" fill="#bc1c4c"/><rect x="4" y="16" width="1" height="1" fill="#bc1848"/><rect x="5" y="16" width="1" height="1" fill="#bc2050"/><rect x="6" y="16" width="1" height="1" fill="#bc2452"/><rect x="7" y="16" width="3" height="1" fill="#bc2858"/><rect x="10" y="16" width="1" height="1" fill="#bc2656"/><rect x="11" y="16" width="5" height="1" fill="#bc2452"/><rect x="16" y="16" width="1" height="1" fill="#bc2050"/><rect x="17" y="16" width="3" height="1" fill="#bc1c4c"/><rect x="20" y="16" width="2" height="1" fill="#bc1a4a"/><rect x="22" y="16" width="2" height="1" fill="#bc1846"/><rect x="24" y="16" width="2" height="1" fill="#bc1a4a"/><rect x="26" y="16" width="1" height="1" fill="#bc1c4c"/><rect x="27" y="16" width="2" height="1" fill="#bc1846"/><rect x="29" y="16" width="3" height="1" fill="#bc1444"/><rect x="32" y="16" width="2" height="1" fill="#bc0c3c"/><rect x="34" y="16" width="1" height="1" fill="#bc0838"/><rect x="35" y="16" width="1" height="1" fill="#bc1040"/><rect x="36" y="16" width="2" height="1" fill="#bc1444"/><rect x="38" y="16" width="1" height="1" fill="#bc1846"/><rect x="39" y="16" width="2" height="1" fill="#bc2050"/><rect x="41" y="16" width="2" height="1" fill="#bc1846"/><rect x="43" y="16" width="1" height="1" fill="#bc1c4c"/><rect x="44" y="16" width="2" height="1" fill="#bc2050"/><rect x="46" y="16" width="5" height="1" fill="#bc1c4c"/><rect x="51" y="16" width="1" height="1" fill="#bc2050"/><rect x="52" y="16" width="2" height="1" fill="#bc1c4c"/><rect x="54" y="16" width="1" height="1" fill="#bc2050"/><rect x="55" y="16" width="3" height="1" fill="#bc1c4c"/><rect x="58" y="16" width="3" height="1" fill="#bc1a4a"/><rect x="61" y="16" width="1" height="1" fill="#bc1c4c"/><rect x="62" y="16" width="3" height="1" fill="#bc2050"/><rect x="0" y="17" width="1" height="1" fill="#bc1848"/><rect x="1" y="17" width="3" height="1" fill="#bc1c4c"/><rect x="4" y="17" width="1" height="1" fill="#bc1848"/><rect x="5" y="17" width="1" height="1" fill="#bc2050"/><rect x="6" y="17" width="1" height="1" fill="#bc2452"/><rect x="7" y="17" width="1" height="1" fill="#bc2656"/><rect x="8" y="17" width="2" height="1" fill="#bc2c5c"/><rect x="10" y="17" width="3" height="1" fill="#bc2858"/><rect x="13" y="17" width="2" height="1" fill="#bc2452"/><rect x="15" y="17" width="1" height="1" fill="#bc2050"/><rect x="16" y="17" width="1" height="1" fill="#bc1c4c"/><rect x="17" y="17" width="1" height="1" fill="#bc1846"/><rect x="18" y="17" width="1" height="1" fill="#bc1444"/><rect x="19" y="17" width="5" height="1" fill="#bc1846"/><rect x="24" y="17" width="1" height="1" fill="#bc1a4a"/><rect x="25" y="17" width="1" height="1" fill="#bc2050"/><rect x="26" y="17" width="1" height="1" fill="#bc1c4c"/><rect x="27" y="17" width="2" height="1" fill="#bc1846"/><rect x="29" y="17" width="2" height="1" fill="#bc1444"/><rect x="31" y="17" width="1" height="1" fill="#bc1846"/><rect x="32" y="17" width="2" height="1" fill="#bc1444"/><rect x="34" y="17" width="1" height="1" fill="#bc0c3c"/><rect x="35" y="17" width="2" height="1" fill="#bc1444"/><rect x="37" y="17" width="1" height="1" fill="#bc1846"/><rect x="38" y="17" width="1" height="1" fill="#bc1a4a"/><rect x="39" y="17" width="2" height="1" fill="#bc2050"/><rect x="41" y="17" width="2" height="1" fill="#bc1846"/><rect x="43" y="17" width="2" height="1" fill="#bc2050"/><rect x="45" y="17" width="2" height="1" fill="#bc2656"/><rect x="47" y="17" width="5" height="1" fill="#bc2452"/><rect x="52" y="17" width="2" height="1" fill="#bc2050"/><rect x="54" y="17" width="1" height="1" fill="#bc2858"/><rect x="55" y="17" width="1" height="1" fill="#bc2050"/><rect x="56" y="17" width="3" height="1" fill="#bc1c4c"/><rect x="59" y="17" width="6" height="1" fill="#bc2050"/><rect x="0" y="18" width="2" height="1" fill="#bc2050"/><rect x="2" y="18" width="3" height="1" fill="#bc1c4c"/><rect x="5" y="18" width="1" height="1" fill="#bc2050"/><rect x="6" y="18" width="2" height="1" fill="#bc2452"/><rect x="8" y="18" width="1" height="1" fill="#bc2656"/><rect x="9" y="18" width="1" height="1" fill="#bc2452"/><rect x="10" y="18" width="1" height="1" fill="#bc1c4c"/><rect x="11" y="18" width="1" height="1" fill="#bc2050"/><rect x="12" y="18" width="1" height="1" fill="#bc2656"/><rect x="13" y="18" width="1" height="1" fill="#bc2858"/><rect x="14" y="18" width="1" height="1" fill="#bc2c5c"/><rect x="15" y="18" width="1" height="1" fill="#bc2858"/><rect x="16" y="18" width="1" height="1" fill="#bc2452"/><rect x="17" y="18" width="3" height="1" fill="#bc2050"/><rect x="20" y="18" width="3" height="1" fill="#bc2452"/><rect x="23" y="18" width="2" height="1" fill="#bc2050"/><rect x="25" y="18" width="1" height="1" fill="#bc2452"/><rect x="26" y="18" width="1" height="1" fill="#bc1c4c"/><rect x="27" y="18" width="3" height="1" fill="#bc1846"/><rect x="30" y="18" width="1" height="1" fill="#bc1444"/><rect x="31" y="18" width="3" height="1" fill="#bc1846"/><rect x="34" y="18" width="1" height="1" fill="#bc1444"/><rect x="35" y="18" width="3" height="1" fill="#bc1846"/><rect x="38" y="18" width="1" height="1" fill="#bc1c4c"/><rect x="39" y="18" width="4" height="1" fill="#bc2050"/><rect x="43" y="18" width="9" height="1" fill="#bc2656"/><rect x="52" y="18" width="2" height="1" fill="#bc2050"/><rect x="54" y="18" width="1" height="1" fill="#bc2656"/><rect x="55" y="18" width="1" height="1" fill="#bc2050"/><rect x="56" y="18" width="2" height="1" fill="#bc1c4c"/><rect x="58" y="18" width="2" height="1" fill="#bc2050"/><rect x="60" y="18" width="5" height="1" fill="#bc2452"/><rect x="0" y="19" width="2" height="1" fill="#bc2050"/><rect x="2" y="19" width="2" height="1" fill="#bc1c4c"/><rect x="4" y="19" width="2" height="1" fill="#bc2050"/><rect x="6" y="19" width="3" height="1" fill="#bc2452"/><rect x="9" y="19" width="2" height="1" fill="#bc2050"/><rect x="11" y="19" width="1" height="1" fill="#bc2656"/><rect x="12" y="19" width="1" height="1" fill="#bc2c5c"/><rect x="13" y="19" width="1" height="1" fill="#bc3464"/><rect x="14" y="19" width="1" height="1" fill="#bc3868"/><rect x="15" y="19" width="1" height="1" fill="#bc3464"/><rect x="16" y="19" width="1" height="1" fill="#bc3060"/><rect x="17" y="19" width="1" height="1" fill="#bc2c5c"/><rect x="18" y="19" width="1" height="1" fill="#bc2858"/><rect x="19" y="19" width="1" height="1" fill="#bc2c5c"/><rect x="20" y="19" width="3" height="1" fill="#bc3060"/><rect x="23" y="19" width="1" height="1" fill="#bc2858"/><rect x="24" y="19" width="1" height="1" fill="#bc2c5c"/><rect x="25" y="19" width="1" height="1" fill="#bc2858"/><rect x="26" y="19" width="1" height="1" fill="#bc1c4c"/><rect x="27" y="19" width="4" height="1" fill="#bc1444"/><rect x="31" y="19" width="1" height="1" fill="#bc1846"/><rect x="32" y="19" width="3" height="1" fill="#bc1c4c"/><rect x="35" y="19" width="1" height="1" fill="#bc2050"/><rect x="36" y="19" width="1" height="1" fill="#bc2858"/><rect x="37" y="19" width="1" height="1" fill="#bc2656"/><rect x="38" y="19" width="2" height="1" fill="#bc2050"/><rect x="40" y="19" width="1" height="1" fill="#bc2656"/><rect x="41" y="19" width="2" height="1" fill="#bc2452"/><rect x="43" y="19" width="4" height="1" fill="#bc2656"/><rect x="47" y="19" width="1" height="1" fill="#bc2c5c"/><rect x="48" y="19" width="3" height="1" fill="#bc3060"/><rect x="51" y="19" width="3" height="1" fill="#bc2c5c"/><rect x="54" y="19" width="2" height="1" fill="#bc2656"/><rect x="56" y="19" width="1" height="1" fill="#bc2452"/><rect x="57" y="19" width="2" height="1" fill="#bc2050"/><rect x="59" y="19" width="1" height="1" fill="#bc2452"/><rect x="60" y="19" width="2" height="1" fill="#bc2656"/><rect x="62" y="19" width="2" height="1" fill="#bc2858"/><rect x="64" y="19" width="1" height="1" fill="#bc2656"/><rect x="0" y="20" width="65" height="1" fill="#bc6498"/></svg><div class="ed" style="left:15.2px;top:949.0px;width:1155.5px;height:372.6px;border-color:rgba(60,60,60,0.3)"></div><svg class="ov" width="1541" height="1337" viewBox="0 0 1541 1337"><circle cx="69.6" cy="62.5" r="1.6"/><circle cx="65.4" cy="80.4" r="1.6"/><circle cx="77.6" cy="96.7" r="1.6"/><circle cx="78.6" cy="97.7" r="1.6"/><circle cx="90.5" cy="115.4" r="1.6"/><circle cx="95.4" cy="121.3" r="1.6"/><circle cx="113.5" cy="133.5" r="1.6"/><circle cx="125.4" cy="151.2" r="1.6"/><circle cx="131.5" cy="155.4" r="1.6"/><circle cx="148.5" cy="161.4" r="1.6"/><circle cx="166.3" cy="167.5" r="1.6"/><circle cx="170.4" cy="169.1" r="1.6"/><circle cx="184.3" cy="177.4" r="1.6"/><circle cx="192.5" cy="186.3" r="1.6"/><circle cx="202.2" cy="191.3" r="1.6"/><circle cx="219.4" cy="197.3" r="1.6"/><circle cx="237.3" cy="204.4" r="1.6"/><circle cx="255.4" cy="203.4" r="1.6"/><circle cx="259.6" cy="204.3" r="1.6"/><circle cx="273.5" cy="208.3" r="1.6"/><circle cx="290.4" cy="208.3" r="1.6"/><circle cx="308.3" cy="206.3" r="1.6"/><circle cx="326.3" cy="204.3" r="1.6"/><circle cx="344.3" cy="205.4" r="1.6"/><circle cx="362.4" cy="206.3" r="1.6"/><circle cx="379.5" cy="210.4" r="1.6"/><circle cx="397.4" cy="221.3" r="1.6"/><circle cx="399.4" cy="222.3" r="1.6"/><circle cx="415.4" cy="226.4" r="1.6"/><circle cx="433.5" cy="228.3" r="1.6"/><circle cx="450.5" cy="232.3" r="1.6"/><circle cx="468.5" cy="231.3" r="1.6"/><circle cx="486.4" cy="230.4" r="1.6"/><circle cx="504.5" cy="228.3" r="1.6"/><circle cx="522.5" cy="229.3" r="1.6"/><circle cx="539.4" cy="230.4" r="1.6"/><circle cx="557.4" cy="230.4" r="1.6"/><circle cx="575.3" cy="230.4" r="1.6"/><circle cx="593.4" cy="229.3" r="1.6"/><circle cx="610.0" cy="222.4" r="1.6"/><circle cx="628.4" cy="215.4" r="1.6"/><circle cx="644.5" cy="222.4" r="1.6"/><circle cx="646.5" cy="223.4" r="1.6"/><circle cx="664.4" cy="225.4" r="1.6"/><circle cx="681.4" cy="232.4" r="1.6"/><circle cx="699.4" cy="237.4" r="1.6"/><circle cx="717.5" cy="239.4" r="1.6"/><circle cx="728.4" cy="240.4" r="1.6"/><circle cx="735.4" cy="240.4" r="1.6"/><circle cx="753.4" cy="242.4" r="1.6"/><circle cx="770.4" cy="243.4" r="1.6"/><circle cx="773.4" cy="240.4" r="1.6"/><circle cx="782.4" cy="222.4" r="1.6"/><circle cx="788.3" cy="216.4" r="1.6"/><circle cx="806.3" cy="206.4" r="1.6"/><circle cx="824.5" cy="211.4" r="1.6"/><circle cx="841.5" cy="214.3" r="1.6"/><circle cx="859.4" cy="219.4" r="1.6"/><circle cx="877.5" cy="221.3" r="1.6"/><circle cx="895.4" cy="219.4" r="1.6"/><circle cx="913.4" cy="215.4" r="1.6"/><circle cx="930.4" cy="218.4" r="1.6"/><circle cx="944.3" cy="222.4" r="1.6"/><circle cx="948.5" cy="223.3" r="1.6"/><circle cx="966.4" cy="232.4" r="1.6"/><circle cx="976.5" cy="240.4" r="1.6"/><circle cx="984.4" cy="249.5" r="1.6"/><circle cx="1001.4" cy="254.3" r="1.6"/><circle cx="1007.4" cy="257.4" r="1.6"/><circle cx="1019.4" cy="261.3" r="1.6"/><circle cx="1037.4" cy="263.4" r="1.6"/><circle cx="1055.4" cy="264.4" r="1.6"/><circle cx="1072.5" cy="261.3" r="1.6"/><circle cx="1090.5" cy="257.4" r="1.6"/><circle cx="1108.5" cy="253.4" r="1.6"/><circle cx="1126.5" cy="248.3" r="1.6"/><circle cx="1144.5" cy="240.4" r="1.6"/><circle cx="1161.3" cy="234.4" r="1.6"/><circle cx="69.6" cy="510.5" r="1.6"/><circle cx="65.4" cy="528.4" r="1.6"/><circle cx="77.6" cy="544.7" r="1.6"/><circle cx="78.6" cy="545.7" r="1.6"/><circle cx="90.5" cy="563.4" r="1.6"/><circle cx="95.4" cy="569.3" r="1.6"/><circle cx="113.5" cy="581.5" r="1.6"/><circle cx="125.4" cy="599.2" r="1.6"/><circle cx="131.5" cy="603.4" r="1.6"/><circle cx="148.5" cy="609.4" r="1.6"/><circle cx="166.3" cy="615.5" r="1.6"/><circle cx="170.4" cy="617.1" r="1.6"/><circle cx="184.3" cy="625.4" r="1.6"/><circle cx="192.5" cy="634.3" r="1.6"/><circle cx="202.2" cy="639.3" r="1.6"/><circle cx="219.4" cy="645.3" r="1.6"/><circle cx="237.3" cy="652.4" r="1.6"/><circle cx="255.4" cy="651.4" r="1.6"/><circle cx="259.6" cy="652.3" r="1.6"/><circle cx="273.5" cy="656.3" r="1.6"/><circle cx="290.4" cy="656.3" r="1.6"/><circle cx="308.3" cy="654.3" r="1.6"/><circle cx="326.3" cy="652.3" r="1.6"/><circle cx="344.3" cy="653.4" r="1.6"/><circle cx="362.4" cy="654.3" r="1.6"/><circle cx="379.5" cy="658.4" r="1.6"/><circle cx="397.4" cy="669.3" r="1.6"/><circle cx="399.4" cy="670.3" r="1.6"/><circle cx="415.4" cy="674.4" r="1.6"/><circle cx="433.5" cy="676.3" r="1.6"/><circle cx="450.5" cy="680.3" r="1.6"/><circle cx="468.5" cy="679.3" r="1.6"/><circle cx="486.4" cy="678.4" r="1.6"/><circle cx="504.5" cy="676.3" r="1.6"/><circle cx="522.5" cy="677.3" r="1.6"/><circle cx="539.4" cy="678.4" r="1.6"/><circle cx="557.4" cy="678.4" r="1.6"/><circle cx="575.3" cy="678.4" r="1.6"/><circle cx="593.4" cy="677.3" r="1.6"/><circle cx="610.0" cy="670.4" r="1.6"/><circle cx="628.4" cy="663.4" r="1.6"/><circle cx="644.5" cy="670.4" r="1.6"/><circle cx="646.5" cy="671.4" r="1.6"/><circle cx="664.4" cy="673.4" r="1.6"/><circle cx="681.4" cy="680.4" r="1.6"/><circle cx="699.4" cy="685.4" r="1.6"/><circle cx="717.5" cy="687.4" r="1.6"/><circle cx="728.4" cy="688.4" r="1.6"/><circle cx="735.4" cy="688.4" r="1.6"/><circle cx="753.4" cy="690.4" r="1.6"/><circle cx="770.4" cy="691.4" r="1.6"/><circle cx="773.4" cy="688.4" r="1.6"/><circle cx="782.4" cy="670.4" r="1.6"/><circle cx="788.3" cy="664.4" r="1.6"/><circle cx="806.3" cy="654.4" r="1.6"/><circle cx="824.5" cy="659.4" r="1.6"/><circle cx="841.5" cy="662.3" r="1.6"/><circle cx="859.4" cy="667.4" r="1.6"/><circle cx="877.5" cy="669.3" r="1.6"/><circle cx="895.4" cy="667.4" r="1.6"/><circle cx="913.4" cy="663.4" r="1.6"/><circle cx="930.4" cy="666.4" r="1.6"/><circle cx="944.3" cy="670.4" r="1.6"/><circle cx="948.5" cy="671.3" r="1.6"/><circle cx="966.4" cy="680.4" r="1.6"/><circle cx="976.5" cy="688.4" r="1.6"/><circle cx="984.4" cy="697.5" r="1.6"/><circle cx="1001.4" cy="702.3" r="1.6"/><circle cx="1007.4" cy="705.4" r="1.6"/><circle cx="1019.4" cy="709.3" r="1.6"/><circle cx="1037.4" cy="711.4" r="1.6"/><circle cx="1055.4" cy="712.4" r="1.6"/><circle cx="1072.5" cy="709.3" r="1.6"/><circle cx="1090.5" cy="705.4" r="1.6"/><circle cx="1108.5" cy="701.4" r="1.6"/><circle cx="1126.5" cy="696.3" r="1.6"/><circle cx="1144.5" cy="688.4" r="1.6"/><circle cx="1161.3" cy="682.4" r="1.6"/><circle cx="69.6" cy="958.5" r="1.6"/><circle cx="65.4" cy="976.4" r="1.6"/><circle cx="77.6" cy="992.7" r="1.6"/><circle cx="78.6" cy="993.7" r="1.6"/><circle cx="90.5" cy="1011.4" r="1.6"/><circle cx="95.4" cy="1017.3" r="1.6"/><circle cx="113.5" cy="1029.5" r="1.6"/><circle cx="125.4" cy="1047.2" r="1.6"/><circle cx="131.5" cy="1051.4" r="1.6"/><circle cx="148.5" cy="1057.4" r="1.6"/><circle cx="166.3" cy="1063.5" r="1.6"/><circle cx="170.4" cy="1065.1" r="1.6"/><circle cx="184.3" cy="1073.4" r="1.6"/><circle cx="192.5" cy="1082.3" r="1.6"/><circle cx="202.2" cy="1087.3" r="1.6"/><circle cx="219.4" cy="1093.3" r="1.6"/><circle cx="237.3" cy="1100.4" r="1.6"/><circle cx="255.4" cy="1099.4" r="1.6"/><circle cx="259.6" cy="1100.3" r="1.6"/><circle cx="273.5" cy="1104.3" r="1.6"/><circle cx="290.4" cy="1104.3" r="1.6"/><circle cx="308.3" cy="1102.3" r="1.6"/><circle cx="326.3" cy="1100.3" r="1.6"/><circle cx="344.3" cy="1101.4" r="1.6"/><circle cx="362.4" cy="1102.3" r="1.6"/><circle cx="379.5" cy="1106.4" r="1.6"/><circle cx="397.4" cy="1117.3" r="1.6"/><circle cx="399.4" cy="1118.3" r="1.6"/><circle cx="415.4" cy="1122.4" r="1.6"/><circle cx="433.5" cy="1124.3" r="1.6"/><circle cx="450.5" cy="1128.3" r="1.6"/><circle cx="468.5" cy="1127.3" r="1.6"/><circle cx="486.4" cy="1126.4" r="1.6"/><circle cx="504.5" cy="1124.3" r="1.6"/><circle cx="522.5" cy="1125.3" r="1.6"/><circle cx="539.4" cy="1126.4" r="1.6"/><circle cx="557.4" cy="1126.4" r="1.6"/><circle cx="575.3" cy="1126.4" r="1.6"/><circle cx="593.4" cy="1125.3" r="1.6"/><circle cx="610.0" cy="1118.4" r="1.6"/><circle cx="628.4" cy="1111.4" r="1.6"/><circle cx="644.5" cy="1118.4" r="1.6"/><circle cx="646.5" cy="1119.4" r="1.6"/><circle cx="664.4" cy="1121.4" r="1.6"/><circle cx="681.4" cy="1128.4" r="1.6"/><circle cx="699.4" cy="1133.4" r="1.6"/><circle cx="717.5" cy="1135.4" r="1.6"/><circle cx="728.4" cy="1136.4" r="1.6"/><circle cx="735.4" cy="1136.4" r="1.6"/><circle cx="753.4" cy="1138.4" r="1.6"/><circle cx="770.4" cy="1139.4" r="1.6"/><circle cx="773.4" cy="1136.4" r="1.6"/><circle cx="782.4" cy="1118.4" r="1.6"/><circle cx="788.3" cy="1112.4" r="1.6"/><circle cx="806.3" cy="1102.4" r="1.6"/><circle cx="824.5" cy="1107.4" r="1.6"/><circle cx="841.5" cy="1110.3" r="1.6"/><circle cx="859.4" cy="1115.4" r="1.6"/><circle cx="877.5" cy="1117.3" r="1.6"/><circle cx="895.4" cy="1115.4" r="1.6"/><circle cx="913.4" cy="1111.4" r="1.6"/><circle cx="930.4" cy="1114.4" r="1.6"/><circle cx="944.3" cy="1118.4" r="1.6"/><circle cx="948.5" cy="1119.3" r="1.6"/><circle cx="966.4" cy="1128.4" r="1.6"/><circle cx="976.5" cy="1136.4" r="1.6"/><circle cx="984.4" cy="1145.5" r="1.6"/><circle cx="1001.4" cy="1150.3" r="1.6"/><circle cx="1007.4" cy="1153.4" r="1.6"/><circle cx="1019.4" cy="1157.3" r="1.6"/><circle cx="1037.4" cy="1159.4" r="1.6"/><circle cx="1055.4" cy="1160.4" r="1.6"/><circle cx="1072.5" cy="1157.3" r="1.6"/><circle cx="1090.5" cy="1153.4" r="1.6"/><circle cx="1108.5" cy="1149.4" r="1.6"/><circle cx="1126.5" cy="1144.3" r="1.6"/><circle cx="1144.5" cy="1136.4" r="1.6"/><circle cx="1161.3" cy="1130.4" r="1.6"/></svg><div class="lg"></div><div class="pa" style="top:707.1px;background:#fd8d3c"></div><div class="le" style="top:706.0px">sand</div><div class="pa" style="top:737.4px;background:#ccffff"></div><div class="le" style="top:736.3px">whitewater</div><div class="pa" style="top:767.7px;background:#005bff"></div><div class="le" style="top:766.6px">water</div><div class="pa" style="top:805.0px;height:3px;background:#000;width:45px"></div><div class="le" style="top:796.9px">shoreline</div><div class="pa" style="top:828.3px;background:#993333;box-sizing:border-box;border:1.3px solid #850a0a"></div><div class="le" style="top:827.2px">reference shoreline buffer</div></body></html>
